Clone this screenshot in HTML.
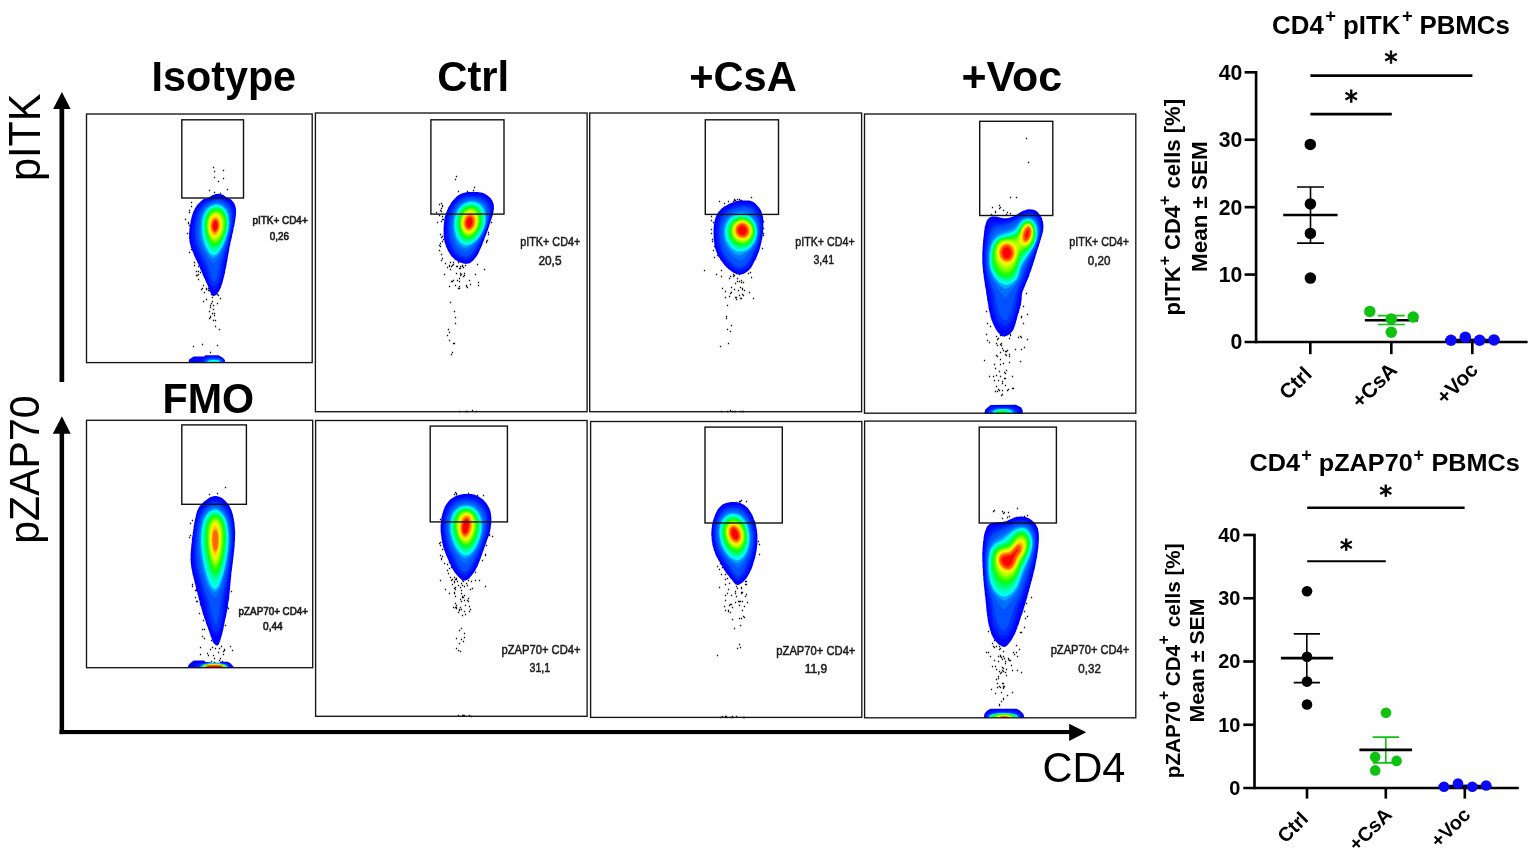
<!DOCTYPE html>
<html lang="en"><head><meta charset="utf-8"><title>Figure</title>
<style>
html,body{margin:0;padding:0;background:#fefefe;}
body{width:1535px;height:854px;overflow:hidden;font-family:"Liberation Sans",sans-serif;}
svg{display:block;}
</style></head><body>
<svg width="1535" height="854" viewBox="0 0 1535 854">
<defs>
<filter id="bl" x="-5%" y="-5%" width="110%" height="110%"><feGaussianBlur stdDeviation="0.45"/></filter>
<clipPath id="cp1"><rect x="86.5" y="114.0" width="225.7" height="248.6"/></clipPath>
<clipPath id="cp2"><rect x="315.4" y="113.0" width="271.7" height="298.7"/></clipPath>
<clipPath id="cp3"><rect x="589.7" y="113.0" width="271.9" height="298.7"/></clipPath>
<clipPath id="cp4"><rect x="864.5" y="114.0" width="271.3" height="299.2"/></clipPath>
<clipPath id="cp5"><rect x="86.5" y="420.3" width="226.2" height="247.4"/></clipPath>
<clipPath id="cp6"><rect x="315.6" y="420.5" width="271.5" height="295.8"/></clipPath>
<clipPath id="cp7"><rect x="590.6" y="421.5" width="271.2" height="295.9"/></clipPath>
<clipPath id="cp8"><rect x="864.6" y="421.1" width="271.2" height="296.7"/></clipPath>
</defs>
<g id="plots">
<g id="dots" fill="#111">
<path d="M219.85 192.85h1.3v1.3h-1.3zM222.85 169.85h1.3v1.3h-1.3zM213.85 191.85h1.3v1.3h-1.3zM208.85 189.85h1.3v1.3h-1.3zM222.85 177.85h1.3v1.3h-1.3zM213.85 170.85h1.3v1.3h-1.3zM213.85 176.85h1.3v1.3h-1.3zM217.85 180.85h1.3v1.3h-1.3zM226.85 188.85h1.3v1.3h-1.3zM219.85 195.85h1.3v1.3h-1.3zM212.85 166.85h1.3v1.3h-1.3zM187.85 222.85h1.3v1.3h-1.3zM184.85 218.85h1.3v1.3h-1.3zM187.85 221.85h1.3v1.3h-1.3zM188.85 209.85h1.3v1.3h-1.3zM188.85 224.85h1.3v1.3h-1.3zM190.85 201.85h1.3v1.3h-1.3zM188.85 211.85h1.3v1.3h-1.3zM186.85 232.85h1.3v1.3h-1.3zM190.85 205.85h1.3v1.3h-1.3zM205.85 287.85h1.3v1.3h-1.3zM190.85 248.85h1.3v1.3h-1.3zM193.85 251.85h1.3v1.3h-1.3zM205.85 288.85h1.3v1.3h-1.3zM196.85 274.85h1.3v1.3h-1.3zM193.85 264.85h1.3v1.3h-1.3zM193.85 245.85h1.3v1.3h-1.3zM199.85 271.85h1.3v1.3h-1.3zM197.85 278.85h1.3v1.3h-1.3zM200.85 288.85h1.3v1.3h-1.3zM195.85 250.85h1.3v1.3h-1.3zM197.85 270.85h1.3v1.3h-1.3zM195.85 274.85h1.3v1.3h-1.3zM197.85 265.85h1.3v1.3h-1.3zM202.85 284.85h1.3v1.3h-1.3zM193.85 261.85h1.3v1.3h-1.3zM195.85 257.85h1.3v1.3h-1.3zM201.85 287.85h1.3v1.3h-1.3zM201.85 267.85h1.3v1.3h-1.3zM197.85 273.85h1.3v1.3h-1.3zM195.85 270.85h1.3v1.3h-1.3zM188.85 251.85h1.3v1.3h-1.3zM208.85 310.85h1.3v1.3h-1.3zM207.85 287.85h1.3v1.3h-1.3zM213.85 312.85h1.3v1.3h-1.3zM209.85 304.85h1.3v1.3h-1.3zM202.85 300.85h1.3v1.3h-1.3zM214.85 289.85h1.3v1.3h-1.3zM217.85 294.85h1.3v1.3h-1.3zM216.85 293.85h1.3v1.3h-1.3zM216.85 302.85h1.3v1.3h-1.3zM203.85 291.85h1.3v1.3h-1.3zM219.85 297.85h1.3v1.3h-1.3zM211.85 300.85h1.3v1.3h-1.3zM209.85 316.85h1.3v1.3h-1.3zM210.85 302.85h1.3v1.3h-1.3zM209.85 315.85h1.3v1.3h-1.3zM208.85 317.85h1.3v1.3h-1.3zM211.85 296.85h1.3v1.3h-1.3zM212.85 319.85h1.3v1.3h-1.3zM211.85 312.85h1.3v1.3h-1.3zM212.85 308.85h1.3v1.3h-1.3zM210.85 293.85h1.3v1.3h-1.3zM207.85 289.85h1.3v1.3h-1.3zM208.85 289.85h1.3v1.3h-1.3zM213.85 314.85h1.3v1.3h-1.3zM205.85 298.85h1.3v1.3h-1.3zM209.85 306.85h1.3v1.3h-1.3zM214.85 319.85h1.3v1.3h-1.3zM212.85 304.85h1.3v1.3h-1.3zM215.85 288.85h1.3v1.3h-1.3zM192.85 345.85h1.3v1.3h-1.3zM201.85 343.85h1.3v1.3h-1.3zM216.85 344.85h1.3v1.3h-1.3zM209.85 351.85h1.3v1.3h-1.3zM214.85 325.85h1.3v1.3h-1.3zM218.85 328.85h1.3v1.3h-1.3zM473.85 186.85h1.3v1.3h-1.3zM457.85 190.85h1.3v1.3h-1.3zM472.85 189.85h1.3v1.3h-1.3zM466.85 190.85h1.3v1.3h-1.3zM455.85 175.85h1.3v1.3h-1.3zM454.85 178.85h1.3v1.3h-1.3zM441.85 215.85h1.3v1.3h-1.3zM438.85 203.85h1.3v1.3h-1.3zM439.85 242.85h1.3v1.3h-1.3zM440.85 259.85h1.3v1.3h-1.3zM442.85 238.85h1.3v1.3h-1.3zM440.85 236.85h1.3v1.3h-1.3zM441.85 257.85h1.3v1.3h-1.3zM441.85 218.85h1.3v1.3h-1.3zM441.85 235.85h1.3v1.3h-1.3zM440.85 253.85h1.3v1.3h-1.3zM439.85 245.85h1.3v1.3h-1.3zM439.85 233.85h1.3v1.3h-1.3zM441.85 205.85h1.3v1.3h-1.3zM438.85 249.85h1.3v1.3h-1.3zM438.85 244.85h1.3v1.3h-1.3zM440.85 210.85h1.3v1.3h-1.3zM438.85 214.85h1.3v1.3h-1.3zM440.85 220.85h1.3v1.3h-1.3zM441.85 240.85h1.3v1.3h-1.3zM439.85 209.85h1.3v1.3h-1.3zM436.85 221.85h1.3v1.3h-1.3zM435.85 211.85h1.3v1.3h-1.3zM440.85 202.85h1.3v1.3h-1.3zM442.85 218.85h1.3v1.3h-1.3zM440.85 207.85h1.3v1.3h-1.3zM441.85 204.85h1.3v1.3h-1.3zM449.85 261.85h1.3v1.3h-1.3zM444.85 262.85h1.3v1.3h-1.3zM448.85 265.85h1.3v1.3h-1.3zM455.85 265.85h1.3v1.3h-1.3zM451.85 264.85h1.3v1.3h-1.3zM452.85 261.85h1.3v1.3h-1.3zM448.85 264.85h1.3v1.3h-1.3zM459.85 267.85h1.3v1.3h-1.3zM457.85 261.85h1.3v1.3h-1.3zM462.85 266.85h1.3v1.3h-1.3zM485.85 241.85h1.3v1.3h-1.3zM490.85 221.85h1.3v1.3h-1.3zM486.85 239.85h1.3v1.3h-1.3zM487.85 231.85h1.3v1.3h-1.3zM487.85 233.85h1.3v1.3h-1.3zM485.85 240.85h1.3v1.3h-1.3zM458.85 285.85h1.3v1.3h-1.3zM461.85 264.85h1.3v1.3h-1.3zM458.85 287.85h1.3v1.3h-1.3zM468.85 279.85h1.3v1.3h-1.3zM465.85 285.85h1.3v1.3h-1.3zM457.85 287.85h1.3v1.3h-1.3zM462.85 275.85h1.3v1.3h-1.3zM451.85 280.85h1.3v1.3h-1.3zM477.85 284.85h1.3v1.3h-1.3zM458.85 280.85h1.3v1.3h-1.3zM463.85 272.85h1.3v1.3h-1.3zM449.85 268.85h1.3v1.3h-1.3zM452.85 279.85h1.3v1.3h-1.3zM476.85 263.85h1.3v1.3h-1.3zM465.85 284.85h1.3v1.3h-1.3zM458.85 267.85h1.3v1.3h-1.3zM446.85 266.85h1.3v1.3h-1.3zM474.85 273.85h1.3v1.3h-1.3zM450.85 265.85h1.3v1.3h-1.3zM455.85 272.85h1.3v1.3h-1.3zM458.85 277.85h1.3v1.3h-1.3zM463.85 274.85h1.3v1.3h-1.3zM460.85 273.85h1.3v1.3h-1.3zM459.85 274.85h1.3v1.3h-1.3zM477.85 281.85h1.3v1.3h-1.3zM461.85 265.85h1.3v1.3h-1.3zM464.85 264.85h1.3v1.3h-1.3zM448.85 285.85h1.3v1.3h-1.3zM466.85 286.85h1.3v1.3h-1.3zM443.85 273.85h1.3v1.3h-1.3zM454.85 284.85h1.3v1.3h-1.3zM483.85 268.85h1.3v1.3h-1.3zM452.85 263.85h1.3v1.3h-1.3zM459.85 272.85h1.3v1.3h-1.3zM450.85 280.85h1.3v1.3h-1.3zM469.85 283.85h1.3v1.3h-1.3zM456.85 279.85h1.3v1.3h-1.3zM459.85 265.85h1.3v1.3h-1.3zM456.85 265.85h1.3v1.3h-1.3zM447.85 328.85h1.3v1.3h-1.3zM451.85 351.85h1.3v1.3h-1.3zM454.85 322.85h1.3v1.3h-1.3zM450.85 353.85h1.3v1.3h-1.3zM452.85 342.85h1.3v1.3h-1.3zM453.85 342.85h1.3v1.3h-1.3zM448.85 331.85h1.3v1.3h-1.3zM454.85 316.85h1.3v1.3h-1.3zM446.85 334.85h1.3v1.3h-1.3zM453.85 310.85h1.3v1.3h-1.3zM449.85 301.85h1.3v1.3h-1.3zM448.85 339.85h1.3v1.3h-1.3zM471.85 409.85h1.3v1.3h-1.3zM475.85 410.85h1.3v1.3h-1.3zM464.85 410.85h1.3v1.3h-1.3zM466.85 410.85h1.3v1.3h-1.3zM458.85 410.85h1.3v1.3h-1.3zM736.85 198.85h1.3v1.3h-1.3zM733.85 199.85h1.3v1.3h-1.3zM718.85 200.85h1.3v1.3h-1.3zM723.85 202.85h1.3v1.3h-1.3zM733.85 198.85h1.3v1.3h-1.3zM738.85 198.85h1.3v1.3h-1.3zM739.85 199.85h1.3v1.3h-1.3zM740.85 199.85h1.3v1.3h-1.3zM732.85 200.85h1.3v1.3h-1.3zM734.85 199.85h1.3v1.3h-1.3zM727.85 200.85h1.3v1.3h-1.3zM750.85 196.85h1.3v1.3h-1.3zM712.85 249.85h1.3v1.3h-1.3zM711.85 240.85h1.3v1.3h-1.3zM713.85 245.85h1.3v1.3h-1.3zM712.85 221.85h1.3v1.3h-1.3zM710.85 232.85h1.3v1.3h-1.3zM715.85 231.85h1.3v1.3h-1.3zM713.85 256.85h1.3v1.3h-1.3zM716.85 254.85h1.3v1.3h-1.3zM710.85 215.85h1.3v1.3h-1.3zM713.85 232.85h1.3v1.3h-1.3zM711.85 238.85h1.3v1.3h-1.3zM713.85 230.85h1.3v1.3h-1.3zM710.85 228.85h1.3v1.3h-1.3zM710.85 219.85h1.3v1.3h-1.3zM762.85 227.85h1.3v1.3h-1.3zM762.85 220.85h1.3v1.3h-1.3zM762.85 234.85h1.3v1.3h-1.3zM762.85 232.85h1.3v1.3h-1.3zM761.85 247.85h1.3v1.3h-1.3zM729.85 275.85h1.3v1.3h-1.3zM736.85 280.85h1.3v1.3h-1.3zM743.85 289.85h1.3v1.3h-1.3zM740.85 272.85h1.3v1.3h-1.3zM730.85 291.85h1.3v1.3h-1.3zM735.85 296.85h1.3v1.3h-1.3zM739.85 286.85h1.3v1.3h-1.3zM724.85 290.85h1.3v1.3h-1.3zM720.85 275.85h1.3v1.3h-1.3zM734.85 282.85h1.3v1.3h-1.3zM738.85 280.85h1.3v1.3h-1.3zM735.85 272.85h1.3v1.3h-1.3zM732.85 273.85h1.3v1.3h-1.3zM735.85 298.85h1.3v1.3h-1.3zM738.85 273.85h1.3v1.3h-1.3zM740.85 281.85h1.3v1.3h-1.3zM742.85 281.85h1.3v1.3h-1.3zM732.85 275.85h1.3v1.3h-1.3zM715.85 273.85h1.3v1.3h-1.3zM740.85 279.85h1.3v1.3h-1.3zM741.85 293.85h1.3v1.3h-1.3zM741.85 287.85h1.3v1.3h-1.3zM721.85 287.85h1.3v1.3h-1.3zM748.85 291.85h1.3v1.3h-1.3zM739.85 297.85h1.3v1.3h-1.3zM749.85 271.85h1.3v1.3h-1.3zM703.85 269.85h1.3v1.3h-1.3zM724.85 296.85h1.3v1.3h-1.3zM730.85 286.85h1.3v1.3h-1.3zM733.85 288.85h1.3v1.3h-1.3zM752.85 297.85h1.3v1.3h-1.3zM736.85 277.85h1.3v1.3h-1.3zM720.85 269.85h1.3v1.3h-1.3zM741.85 288.85h1.3v1.3h-1.3zM738.85 294.85h1.3v1.3h-1.3zM728.85 277.85h1.3v1.3h-1.3zM747.85 272.85h1.3v1.3h-1.3zM750.85 276.85h1.3v1.3h-1.3zM734.85 296.85h1.3v1.3h-1.3zM728.85 295.85h1.3v1.3h-1.3zM742.85 294.85h1.3v1.3h-1.3zM741.85 269.85h1.3v1.3h-1.3zM729.85 292.85h1.3v1.3h-1.3zM733.85 274.85h1.3v1.3h-1.3zM740.85 297.85h1.3v1.3h-1.3zM737.85 289.85h1.3v1.3h-1.3zM719.85 345.85h1.3v1.3h-1.3zM726.85 328.85h1.3v1.3h-1.3zM729.85 330.85h1.3v1.3h-1.3zM726.85 304.85h1.3v1.3h-1.3zM727.85 342.85h1.3v1.3h-1.3zM725.85 317.85h1.3v1.3h-1.3zM730.85 324.85h1.3v1.3h-1.3zM725.85 315.85h1.3v1.3h-1.3zM739.85 410.85h1.3v1.3h-1.3zM731.85 410.85h1.3v1.3h-1.3zM741.85 410.85h1.3v1.3h-1.3zM720.85 410.85h1.3v1.3h-1.3zM742.85 410.85h1.3v1.3h-1.3zM734.85 410.85h1.3v1.3h-1.3zM733.85 410.85h1.3v1.3h-1.3zM729.85 409.85h1.3v1.3h-1.3zM726.85 410.85h1.3v1.3h-1.3zM1025.85 137.85h1.3v1.3h-1.3zM1027.85 161.85h1.3v1.3h-1.3zM1009.85 196.85h1.3v1.3h-1.3zM1015.85 196.85h1.3v1.3h-1.3zM998.85 204.85h1.3v1.3h-1.3zM1002.85 209.85h1.3v1.3h-1.3zM1006.85 211.85h1.3v1.3h-1.3zM994.85 211.85h1.3v1.3h-1.3zM990.85 213.85h1.3v1.3h-1.3zM1009.85 212.85h1.3v1.3h-1.3zM991.85 206.85h1.3v1.3h-1.3zM998.85 207.85h1.3v1.3h-1.3zM1005.85 213.85h1.3v1.3h-1.3zM994.85 210.85h1.3v1.3h-1.3zM999.85 206.85h1.3v1.3h-1.3zM1022.85 305.85h1.3v1.3h-1.3zM1026.85 313.85h1.3v1.3h-1.3zM1025.85 292.85h1.3v1.3h-1.3zM1020.85 316.85h1.3v1.3h-1.3zM1020.85 315.85h1.3v1.3h-1.3zM1022.85 322.85h1.3v1.3h-1.3zM1004.85 350.85h1.3v1.3h-1.3zM999.85 334.85h1.3v1.3h-1.3zM996.85 390.85h1.3v1.3h-1.3zM994.85 367.85h1.3v1.3h-1.3zM1002.85 362.85h1.3v1.3h-1.3zM999.85 363.85h1.3v1.3h-1.3zM1008.85 361.85h1.3v1.3h-1.3zM993.85 363.85h1.3v1.3h-1.3zM1026.85 338.85h1.3v1.3h-1.3zM1001.85 380.85h1.3v1.3h-1.3zM1019.85 360.85h1.3v1.3h-1.3zM999.85 351.85h1.3v1.3h-1.3zM1006.85 349.85h1.3v1.3h-1.3zM998.85 370.85h1.3v1.3h-1.3zM1019.85 335.85h1.3v1.3h-1.3zM1007.85 388.85h1.3v1.3h-1.3zM995.85 342.85h1.3v1.3h-1.3zM1001.85 382.85h1.3v1.3h-1.3zM1009.85 333.85h1.3v1.3h-1.3zM986.85 339.85h1.3v1.3h-1.3zM997.85 388.85h1.3v1.3h-1.3zM996.85 338.85h1.3v1.3h-1.3zM983.85 359.85h1.3v1.3h-1.3zM1004.85 353.85h1.3v1.3h-1.3zM1020.85 348.85h1.3v1.3h-1.3zM988.85 375.85h1.3v1.3h-1.3zM993.85 379.85h1.3v1.3h-1.3zM1003.85 377.85h1.3v1.3h-1.3zM1004.85 384.85h1.3v1.3h-1.3zM1005.85 354.85h1.3v1.3h-1.3zM999.85 358.85h1.3v1.3h-1.3zM997.85 337.85h1.3v1.3h-1.3zM985.85 333.85h1.3v1.3h-1.3zM1020.85 336.85h1.3v1.3h-1.3zM1014.85 348.85h1.3v1.3h-1.3zM996.85 344.85h1.3v1.3h-1.3zM1001.85 347.85h1.3v1.3h-1.3zM999.85 343.85h1.3v1.3h-1.3zM999.85 375.85h1.3v1.3h-1.3zM995.85 385.85h1.3v1.3h-1.3zM1023.85 346.85h1.3v1.3h-1.3zM1000.85 342.85h1.3v1.3h-1.3zM1008.85 353.85h1.3v1.3h-1.3zM1001.85 389.85h1.3v1.3h-1.3zM1004.85 372.85h1.3v1.3h-1.3zM1017.85 336.85h1.3v1.3h-1.3zM1003.85 371.85h1.3v1.3h-1.3zM1012.85 387.85h1.3v1.3h-1.3zM995.85 335.85h1.3v1.3h-1.3zM1006.85 389.85h1.3v1.3h-1.3zM1011.85 387.85h1.3v1.3h-1.3zM1009.85 334.85h1.3v1.3h-1.3zM996.85 355.85h1.3v1.3h-1.3zM995.85 374.85h1.3v1.3h-1.3zM1000.85 394.85h1.3v1.3h-1.3zM997.85 379.85h1.3v1.3h-1.3zM1004.85 377.85h1.3v1.3h-1.3zM1001.85 393.85h1.3v1.3h-1.3zM995.85 354.85h1.3v1.3h-1.3zM994.85 390.85h1.3v1.3h-1.3zM998.85 389.85h1.3v1.3h-1.3zM1002.85 349.85h1.3v1.3h-1.3zM1008.85 355.85h1.3v1.3h-1.3zM1005.85 350.85h1.3v1.3h-1.3zM1008.85 337.85h1.3v1.3h-1.3zM1011.85 375.85h1.3v1.3h-1.3zM1005.85 369.85h1.3v1.3h-1.3zM988.85 341.85h1.3v1.3h-1.3zM1000.85 344.85h1.3v1.3h-1.3zM992.85 375.85h1.3v1.3h-1.3zM986.85 322.85h1.3v1.3h-1.3zM985.85 310.85h1.3v1.3h-1.3zM989.85 325.85h1.3v1.3h-1.3zM208.85 493.85h1.3v1.3h-1.3zM216.85 492.85h1.3v1.3h-1.3zM224.85 486.85h1.3v1.3h-1.3zM191.85 519.85h1.3v1.3h-1.3zM191.85 538.85h1.3v1.3h-1.3zM190.85 558.85h1.3v1.3h-1.3zM189.85 522.85h1.3v1.3h-1.3zM189.85 534.85h1.3v1.3h-1.3zM188.85 536.85h1.3v1.3h-1.3zM191.85 585.85h1.3v1.3h-1.3zM190.85 561.85h1.3v1.3h-1.3zM195.85 600.85h1.3v1.3h-1.3zM198.85 612.85h1.3v1.3h-1.3zM199.85 603.85h1.3v1.3h-1.3zM203.85 637.85h1.3v1.3h-1.3zM201.85 628.85h1.3v1.3h-1.3zM195.85 588.85h1.3v1.3h-1.3zM194.85 596.85h1.3v1.3h-1.3zM202.85 619.85h1.3v1.3h-1.3zM201.85 635.85h1.3v1.3h-1.3zM194.85 589.85h1.3v1.3h-1.3zM202.85 612.85h1.3v1.3h-1.3zM196.85 600.85h1.3v1.3h-1.3zM203.85 628.85h1.3v1.3h-1.3zM191.85 583.85h1.3v1.3h-1.3zM195.85 589.85h1.3v1.3h-1.3zM224.85 624.85h1.3v1.3h-1.3zM227.85 578.85h1.3v1.3h-1.3zM230.85 590.85h1.3v1.3h-1.3zM227.85 594.85h1.3v1.3h-1.3zM223.85 604.85h1.3v1.3h-1.3zM227.85 607.85h1.3v1.3h-1.3zM227.85 596.85h1.3v1.3h-1.3zM226.85 606.85h1.3v1.3h-1.3zM219.85 661.85h1.3v1.3h-1.3zM215.85 640.85h1.3v1.3h-1.3zM222.85 650.85h1.3v1.3h-1.3zM210.85 660.85h1.3v1.3h-1.3zM217.85 642.85h1.3v1.3h-1.3zM223.85 648.85h1.3v1.3h-1.3zM222.85 653.85h1.3v1.3h-1.3zM206.85 652.85h1.3v1.3h-1.3zM213.85 657.85h1.3v1.3h-1.3zM212.85 654.85h1.3v1.3h-1.3zM223.85 649.85h1.3v1.3h-1.3zM217.85 651.85h1.3v1.3h-1.3zM209.85 648.85h1.3v1.3h-1.3zM214.85 640.85h1.3v1.3h-1.3zM210.85 639.85h1.3v1.3h-1.3zM214.85 647.85h1.3v1.3h-1.3zM211.85 646.85h1.3v1.3h-1.3zM216.85 643.85h1.3v1.3h-1.3zM221.85 660.85h1.3v1.3h-1.3zM231.85 649.85h1.3v1.3h-1.3zM220.85 645.85h1.3v1.3h-1.3zM229.85 645.85h1.3v1.3h-1.3zM199.85 646.85h1.3v1.3h-1.3zM218.85 659.85h1.3v1.3h-1.3zM219.85 657.85h1.3v1.3h-1.3zM218.85 647.85h1.3v1.3h-1.3zM213.85 641.85h1.3v1.3h-1.3zM199.85 653.85h1.3v1.3h-1.3zM207.85 654.85h1.3v1.3h-1.3zM213.85 661.85h1.3v1.3h-1.3zM482.85 494.85h1.3v1.3h-1.3zM455.85 492.85h1.3v1.3h-1.3zM474.85 496.85h1.3v1.3h-1.3zM471.85 494.85h1.3v1.3h-1.3zM455.85 493.85h1.3v1.3h-1.3zM454.85 491.85h1.3v1.3h-1.3zM453.85 493.85h1.3v1.3h-1.3zM467.85 492.85h1.3v1.3h-1.3zM476.85 494.85h1.3v1.3h-1.3zM468.85 496.85h1.3v1.3h-1.3zM439.85 544.85h1.3v1.3h-1.3zM441.85 529.85h1.3v1.3h-1.3zM438.85 542.85h1.3v1.3h-1.3zM440.85 558.85h1.3v1.3h-1.3zM440.85 557.85h1.3v1.3h-1.3zM439.85 518.85h1.3v1.3h-1.3zM439.85 541.85h1.3v1.3h-1.3zM441.85 548.85h1.3v1.3h-1.3zM441.85 555.85h1.3v1.3h-1.3zM450.85 566.85h1.3v1.3h-1.3zM446.85 569.85h1.3v1.3h-1.3zM453.85 576.85h1.3v1.3h-1.3zM451.85 583.85h1.3v1.3h-1.3zM446.85 563.85h1.3v1.3h-1.3zM447.85 572.85h1.3v1.3h-1.3zM455.85 578.85h1.3v1.3h-1.3zM443.85 562.85h1.3v1.3h-1.3zM449.85 576.85h1.3v1.3h-1.3zM453.85 580.85h1.3v1.3h-1.3zM448.85 567.85h1.3v1.3h-1.3zM439.85 554.85h1.3v1.3h-1.3zM448.85 561.85h1.3v1.3h-1.3zM455.85 577.85h1.3v1.3h-1.3zM474.85 571.85h1.3v1.3h-1.3zM481.85 559.85h1.3v1.3h-1.3zM485.85 544.85h1.3v1.3h-1.3zM488.85 533.85h1.3v1.3h-1.3zM488.85 534.85h1.3v1.3h-1.3zM484.85 554.85h1.3v1.3h-1.3zM491.85 535.85h1.3v1.3h-1.3zM484.85 553.85h1.3v1.3h-1.3zM452.85 606.85h1.3v1.3h-1.3zM459.85 606.85h1.3v1.3h-1.3zM467.85 600.85h1.3v1.3h-1.3zM457.85 584.85h1.3v1.3h-1.3zM461.85 595.85h1.3v1.3h-1.3zM460.85 608.85h1.3v1.3h-1.3zM465.85 582.85h1.3v1.3h-1.3zM464.85 604.85h1.3v1.3h-1.3zM460.85 592.85h1.3v1.3h-1.3zM467.85 597.85h1.3v1.3h-1.3zM474.85 579.85h1.3v1.3h-1.3zM455.85 606.85h1.3v1.3h-1.3zM454.85 578.85h1.3v1.3h-1.3zM454.85 588.85h1.3v1.3h-1.3zM454.85 595.85h1.3v1.3h-1.3zM454.85 586.85h1.3v1.3h-1.3zM461.85 596.85h1.3v1.3h-1.3zM466.85 599.85h1.3v1.3h-1.3zM455.85 604.85h1.3v1.3h-1.3zM463.85 610.85h1.3v1.3h-1.3zM456.85 580.85h1.3v1.3h-1.3zM484.85 585.85h1.3v1.3h-1.3zM462.85 596.85h1.3v1.3h-1.3zM467.85 579.85h1.3v1.3h-1.3zM451.85 578.85h1.3v1.3h-1.3zM454.85 606.85h1.3v1.3h-1.3zM462.85 580.85h1.3v1.3h-1.3zM453.85 591.85h1.3v1.3h-1.3zM460.85 589.85h1.3v1.3h-1.3zM469.85 608.85h1.3v1.3h-1.3zM453.85 581.85h1.3v1.3h-1.3zM453.85 592.85h1.3v1.3h-1.3zM461.85 579.85h1.3v1.3h-1.3zM458.85 608.85h1.3v1.3h-1.3zM466.85 584.85h1.3v1.3h-1.3zM459.85 586.85h1.3v1.3h-1.3zM450.85 579.85h1.3v1.3h-1.3zM439.85 579.85h1.3v1.3h-1.3zM463.85 585.85h1.3v1.3h-1.3zM455.85 607.85h1.3v1.3h-1.3zM461.85 584.85h1.3v1.3h-1.3zM444.85 588.85h1.3v1.3h-1.3zM454.85 602.85h1.3v1.3h-1.3zM463.85 599.85h1.3v1.3h-1.3zM468.85 610.85h1.3v1.3h-1.3zM468.85 605.85h1.3v1.3h-1.3zM471.85 587.85h1.3v1.3h-1.3zM460.85 600.85h1.3v1.3h-1.3zM469.85 588.85h1.3v1.3h-1.3zM463.85 594.85h1.3v1.3h-1.3zM458.85 609.85h1.3v1.3h-1.3zM457.85 611.85h1.3v1.3h-1.3zM453.85 587.85h1.3v1.3h-1.3zM470.85 580.85h1.3v1.3h-1.3zM460.85 582.85h1.3v1.3h-1.3zM459.85 598.85h1.3v1.3h-1.3zM478.85 579.85h1.3v1.3h-1.3zM448.85 592.85h1.3v1.3h-1.3zM455.85 637.85h1.3v1.3h-1.3zM464.85 613.85h1.3v1.3h-1.3zM455.85 647.85h1.3v1.3h-1.3zM463.85 632.85h1.3v1.3h-1.3zM457.85 649.85h1.3v1.3h-1.3zM460.85 627.85h1.3v1.3h-1.3zM462.85 640.85h1.3v1.3h-1.3zM461.85 614.85h1.3v1.3h-1.3zM459.85 650.85h1.3v1.3h-1.3zM458.85 642.85h1.3v1.3h-1.3zM458.85 629.85h1.3v1.3h-1.3zM463.85 636.85h1.3v1.3h-1.3zM460.85 638.85h1.3v1.3h-1.3zM468.85 714.85h1.3v1.3h-1.3zM461.85 714.85h1.3v1.3h-1.3zM463.85 714.85h1.3v1.3h-1.3zM457.85 714.85h1.3v1.3h-1.3zM462.85 714.85h1.3v1.3h-1.3zM470.85 715.85h1.3v1.3h-1.3zM725.85 503.85h1.3v1.3h-1.3zM726.85 503.85h1.3v1.3h-1.3zM735.85 501.85h1.3v1.3h-1.3zM745.85 500.85h1.3v1.3h-1.3zM739.85 500.85h1.3v1.3h-1.3zM738.85 500.85h1.3v1.3h-1.3zM738.85 502.85h1.3v1.3h-1.3zM740.85 499.85h1.3v1.3h-1.3zM757.85 540.85h1.3v1.3h-1.3zM758.85 553.85h1.3v1.3h-1.3zM755.85 542.85h1.3v1.3h-1.3zM758.85 543.85h1.3v1.3h-1.3zM716.85 565.85h1.3v1.3h-1.3zM728.85 582.85h1.3v1.3h-1.3zM726.85 577.85h1.3v1.3h-1.3zM723.85 565.85h1.3v1.3h-1.3zM720.85 573.85h1.3v1.3h-1.3zM724.85 578.85h1.3v1.3h-1.3zM721.85 566.85h1.3v1.3h-1.3zM723.85 568.85h1.3v1.3h-1.3zM718.85 568.85h1.3v1.3h-1.3zM724.85 573.85h1.3v1.3h-1.3zM719.85 562.85h1.3v1.3h-1.3zM724.85 583.85h1.3v1.3h-1.3zM745.85 583.85h1.3v1.3h-1.3zM744.85 580.85h1.3v1.3h-1.3zM745.85 580.85h1.3v1.3h-1.3zM744.85 583.85h1.3v1.3h-1.3zM740.85 586.85h1.3v1.3h-1.3zM743.85 576.85h1.3v1.3h-1.3zM724.85 599.85h1.3v1.3h-1.3zM727.85 610.85h1.3v1.3h-1.3zM739.85 600.85h1.3v1.3h-1.3zM726.85 592.85h1.3v1.3h-1.3zM741.85 609.85h1.3v1.3h-1.3zM734.85 592.85h1.3v1.3h-1.3zM734.85 601.85h1.3v1.3h-1.3zM728.85 604.85h1.3v1.3h-1.3zM738.85 600.85h1.3v1.3h-1.3zM730.85 594.85h1.3v1.3h-1.3zM740.85 592.85h1.3v1.3h-1.3zM740.85 587.85h1.3v1.3h-1.3zM724.85 594.85h1.3v1.3h-1.3zM738.85 604.85h1.3v1.3h-1.3zM724.85 609.85h1.3v1.3h-1.3zM741.85 600.85h1.3v1.3h-1.3zM723.85 605.85h1.3v1.3h-1.3zM729.85 603.85h1.3v1.3h-1.3zM743.85 605.85h1.3v1.3h-1.3zM737.85 600.85h1.3v1.3h-1.3zM740.85 591.85h1.3v1.3h-1.3zM718.85 586.85h1.3v1.3h-1.3zM741.85 591.85h1.3v1.3h-1.3zM731.85 606.85h1.3v1.3h-1.3zM746.85 601.85h1.3v1.3h-1.3zM736.85 587.85h1.3v1.3h-1.3zM735.85 585.85h1.3v1.3h-1.3zM727.85 609.85h1.3v1.3h-1.3zM730.85 603.85h1.3v1.3h-1.3zM735.85 595.85h1.3v1.3h-1.3zM745.85 593.85h1.3v1.3h-1.3zM744.85 595.85h1.3v1.3h-1.3zM734.85 590.85h1.3v1.3h-1.3zM729.85 611.85h1.3v1.3h-1.3zM727.85 588.85h1.3v1.3h-1.3zM743.85 616.85h1.3v1.3h-1.3zM738.85 643.85h1.3v1.3h-1.3zM733.85 627.85h1.3v1.3h-1.3zM742.85 615.85h1.3v1.3h-1.3zM739.85 624.85h1.3v1.3h-1.3zM739.85 646.85h1.3v1.3h-1.3zM740.85 617.85h1.3v1.3h-1.3zM738.85 617.85h1.3v1.3h-1.3zM736.85 647.85h1.3v1.3h-1.3zM731.85 618.85h1.3v1.3h-1.3zM716.85 654.85h1.3v1.3h-1.3zM735.85 715.85h1.3v1.3h-1.3zM719.85 716.85h1.3v1.3h-1.3zM725.85 716.85h1.3v1.3h-1.3zM731.85 715.85h1.3v1.3h-1.3zM730.85 716.85h1.3v1.3h-1.3zM743.85 716.85h1.3v1.3h-1.3zM721.85 715.85h1.3v1.3h-1.3zM725.85 715.85h1.3v1.3h-1.3zM724.85 715.85h1.3v1.3h-1.3zM742.85 716.85h1.3v1.3h-1.3zM1023.85 515.85h1.3v1.3h-1.3zM1002.85 512.85h1.3v1.3h-1.3zM1007.85 511.85h1.3v1.3h-1.3zM1006.85 516.85h1.3v1.3h-1.3zM992.85 510.85h1.3v1.3h-1.3zM1008.85 515.85h1.3v1.3h-1.3zM1015.85 516.85h1.3v1.3h-1.3zM993.85 509.85h1.3v1.3h-1.3zM1001.85 510.85h1.3v1.3h-1.3zM1019.85 519.85h1.3v1.3h-1.3zM1016.85 507.85h1.3v1.3h-1.3zM1001.85 517.85h1.3v1.3h-1.3zM1026.85 514.85h1.3v1.3h-1.3zM1003.85 511.85h1.3v1.3h-1.3zM1023.85 626.85h1.3v1.3h-1.3zM1025.85 602.85h1.3v1.3h-1.3zM1019.85 631.85h1.3v1.3h-1.3zM1020.85 631.85h1.3v1.3h-1.3zM1023.85 610.85h1.3v1.3h-1.3zM1024.85 617.85h1.3v1.3h-1.3zM1026.85 615.85h1.3v1.3h-1.3zM1030.85 596.85h1.3v1.3h-1.3zM992.85 634.85h1.3v1.3h-1.3zM993.85 634.85h1.3v1.3h-1.3zM987.85 630.85h1.3v1.3h-1.3zM993.85 639.85h1.3v1.3h-1.3zM991.85 642.85h1.3v1.3h-1.3zM997.85 642.85h1.3v1.3h-1.3zM1005.85 674.85h1.3v1.3h-1.3zM991.85 665.85h1.3v1.3h-1.3zM1020.85 671.85h1.3v1.3h-1.3zM1009.85 659.85h1.3v1.3h-1.3zM1001.85 658.85h1.3v1.3h-1.3zM993.85 659.85h1.3v1.3h-1.3zM1011.85 669.85h1.3v1.3h-1.3zM999.85 647.85h1.3v1.3h-1.3zM999.85 655.85h1.3v1.3h-1.3zM997.85 677.85h1.3v1.3h-1.3zM995.85 678.85h1.3v1.3h-1.3zM1001.85 666.85h1.3v1.3h-1.3zM1002.85 655.85h1.3v1.3h-1.3zM999.85 672.85h1.3v1.3h-1.3zM993.85 646.85h1.3v1.3h-1.3zM1013.85 653.85h1.3v1.3h-1.3zM1015.85 644.85h1.3v1.3h-1.3zM997.85 675.85h1.3v1.3h-1.3zM1010.85 664.85h1.3v1.3h-1.3zM1002.85 650.85h1.3v1.3h-1.3zM1001.85 669.85h1.3v1.3h-1.3zM1018.85 648.85h1.3v1.3h-1.3zM1016.85 655.85h1.3v1.3h-1.3zM998.85 645.85h1.3v1.3h-1.3zM1007.85 657.85h1.3v1.3h-1.3zM997.85 655.85h1.3v1.3h-1.3zM989.85 655.85h1.3v1.3h-1.3zM1008.85 659.85h1.3v1.3h-1.3zM1004.85 671.85h1.3v1.3h-1.3zM1007.85 658.85h1.3v1.3h-1.3zM1016.85 669.85h1.3v1.3h-1.3zM1000.85 671.85h1.3v1.3h-1.3zM1005.85 668.85h1.3v1.3h-1.3zM1002.85 667.85h1.3v1.3h-1.3zM987.85 651.85h1.3v1.3h-1.3zM1000.85 656.85h1.3v1.3h-1.3zM1002.85 670.85h1.3v1.3h-1.3zM994.85 665.85h1.3v1.3h-1.3zM992.85 645.85h1.3v1.3h-1.3zM1012.85 651.85h1.3v1.3h-1.3zM998.85 648.85h1.3v1.3h-1.3zM999.85 654.85h1.3v1.3h-1.3zM1004.85 660.85h1.3v1.3h-1.3zM985.85 651.85h1.3v1.3h-1.3zM995.85 668.85h1.3v1.3h-1.3zM995.85 645.85h1.3v1.3h-1.3zM1004.85 662.85h1.3v1.3h-1.3zM1003.85 657.85h1.3v1.3h-1.3zM997.85 660.85h1.3v1.3h-1.3zM1015.85 651.85h1.3v1.3h-1.3zM998.85 670.85h1.3v1.3h-1.3zM996.85 682.85h1.3v1.3h-1.3zM1002.85 686.85h1.3v1.3h-1.3zM998.85 704.85h1.3v1.3h-1.3zM1006.85 694.85h1.3v1.3h-1.3zM1002.85 682.85h1.3v1.3h-1.3zM998.85 703.85h1.3v1.3h-1.3zM1011.85 691.85h1.3v1.3h-1.3zM998.85 685.85h1.3v1.3h-1.3zM1000.85 700.85h1.3v1.3h-1.3zM1002.85 697.85h1.3v1.3h-1.3zM1002.85 687.85h1.3v1.3h-1.3zM1002.85 698.85h1.3v1.3h-1.3zM994.85 692.85h1.3v1.3h-1.3zM1001.85 682.85h1.3v1.3h-1.3zM990.85 688.85h1.3v1.3h-1.3zM999.85 686.85h1.3v1.3h-1.3zM1000.85 691.85h1.3v1.3h-1.3zM1003.85 685.85h1.3v1.3h-1.3zM996.85 686.85h1.3v1.3h-1.3zM1002.85 685.85h1.3v1.3h-1.3z"/>
</g>
<g id="blobs" filter="url(#bl)">
<g id="p1">
<path fill="#0006ff" d="M213.9 296.1L213.1 296.1L212.1 295.4L211.1 294.1L210.4 292.6L210.3 292.1L209.9 291.4L209.6 289.9L208.6 288.1L208.3 286.9L207.4 285.1L207.1 283.9L206.1 282.4L206.1 281.9L205.1 280.1L205.1 279.6L203.9 277.4L203.8 276.9L202.4 273.9L202.1 272.6L201.4 271.4L201.3 270.9L200.4 269.4L199.6 266.9L198.4 264.6L198.3 264.1L197.1 261.9L197.1 261.4L194.1 255.4L194.1 254.9L193.4 253.6L193.1 252.4L191.9 249.9L191.6 248.6L190.9 247.4L190.3 244.6L189.6 242.6L189.3 238.9L189.1 238.6L189.1 231.9L189.3 231.6L189.4 228.9L189.6 228.6L189.6 226.9L190.1 225.6L190.1 223.9L190.6 222.6L190.6 220.9L191.1 219.6L191.1 218.9L191.3 218.6L191.4 217.9L191.6 217.6L191.6 216.9L191.8 216.6L191.9 215.9L192.4 214.4L192.8 213.6L193.4 211.6L194.6 209.4L194.6 208.9L195.4 207.6L196.3 206.6L197.1 205.1L201.1 200.9L202.9 199.6L203.9 199.1L204.6 199.1L204.9 198.8L205.6 198.8L205.9 198.6L206.6 198.6L206.9 198.3L208.1 198.1L210.1 196.8L211.1 195.9L212.9 194.9L215.4 194.3L215.6 194.1L216.4 194.1L216.6 193.9L219.1 193.8L220.4 194.3L222.1 194.6L223.4 195.1L224.9 196.1L225.9 197.1L226.6 197.4L227.1 197.8L231.1 199.6L232.4 200.9L232.4 201.1L234.1 203.1L235.4 206.1L235.7 207.9L235.9 208.1L235.9 209.9L236.1 210.1L236.1 212.6L235.9 212.9L235.9 215.6L235.7 215.9L235.4 219.6L235.0 220.9L234.9 222.6L234.5 223.9L234.4 225.6L233.7 227.6L233.7 228.4L233.5 228.6L233.4 230.4L233.0 231.6L232.9 232.4L232.7 232.6L232.7 233.4L232.5 233.6L232.4 234.4L232.2 234.6L232.2 235.4L232.0 235.6L231.9 237.1L231.5 238.4L231.4 239.1L231.2 239.4L231.2 240.1L231.0 240.4L230.9 241.1L230.7 241.4L230.7 242.1L230.5 242.4L230.4 243.9L230.0 245.1L229.9 245.9L229.7 246.1L229.7 246.9L229.5 247.1L229.4 248.9L229.0 250.1L228.9 251.9L228.5 252.9L228.4 254.6L227.9 255.9L227.9 257.6L227.4 258.9L227.4 260.6L226.9 261.9L226.9 262.6L226.7 262.9L226.6 264.6L226.2 265.9L226.1 267.6L225.4 269.6L225.4 270.4L225.2 270.6L225.1 272.4L224.7 273.6L224.7 274.4L224.4 274.6L224.4 275.4L224.2 275.6L224.2 276.4L223.9 276.6L223.9 277.4L223.7 277.6L223.6 278.4L223.2 279.4L222.4 283.1L221.9 284.6L221.4 285.4L220.9 287.4L219.4 290.6L218.7 291.4L217.4 293.6L216.7 294.4L215.1 295.6L213.9 296.1Z"/>
<path fill="#0016ff" d="M214.9 289.4L213.9 289.5L212.1 288.0L211.1 286.9L209.6 284.4L207.7 279.9L202.6 265.4L197.2 254.1L195.0 248.6L193.9 245.6L193.0 241.9L192.3 237.4L192.1 233.1L192.4 228.1L193.3 221.6L194.1 217.9L195.9 212.6L197.2 209.6L198.9 207.1L201.6 203.7L204.3 201.6L208.9 199.7L213.9 197.2L215.6 196.8L218.1 196.5L220.9 197.0L222.6 197.7L228.7 201.4L230.9 203.4L232.4 205.5L233.5 208.4L234.0 211.4L234.1 214.4L233.5 221.9L232.1 229.7L224.3 262.4L222.6 272.4L221.6 277.4L220.0 282.4L218.6 285.3L216.6 288.1L214.9 289.4Z"/>
<path fill="#0030ff" d="M214.6 286.2L213.6 286.1L212.6 285.6L211.4 284.2L210.7 283.1L209.5 279.9L205.3 265.6L203.5 261.4L199.1 252.7L196.9 247.4L195.5 242.6L194.8 239.1L194.3 234.1L194.4 229.4L195.3 221.6L195.9 218.4L196.6 216.0L197.4 213.6L198.9 210.5L199.8 208.9L201.4 206.7L202.9 204.9L204.4 203.7L207.6 201.8L214.6 198.8L215.9 198.5L218.4 198.5L221.4 199.1L225.2 201.1L228.1 203.3L230.5 205.9L231.7 208.4L232.3 210.1L232.7 213.9L232.6 219.4L232.0 225.1L230.6 232.9L225.7 251.1L222.5 261.9L221.9 264.9L220.9 272.2L219.9 277.5L218.6 281.4L217.8 282.9L216.1 285.2L215.4 285.8L214.6 286.2Z"/>
<path fill="#0051ff" d="M214.4 281.7L213.9 281.8L213.6 281.6L212.6 279.6L209.4 270.7L207.7 265.4L205.4 260.4L201.1 252.3L198.7 246.6L197.4 242.0L196.6 238.4L196.1 233.6L196.1 229.6L196.6 223.9L197.5 218.6L198.6 214.9L199.9 211.9L200.9 209.9L202.4 207.9L204.6 205.4L205.9 204.4L208.6 202.8L211.4 201.4L214.9 200.2L216.1 200.0L218.1 200.0L220.9 200.6L224.5 202.4L227.1 204.5L229.4 207.1L230.8 209.9L231.5 213.6L231.6 220.9L230.6 228.9L229.8 232.9L227.6 240.7L224.6 250.7L220.7 261.4L219.9 264.4L219.2 268.4L217.4 276.1L215.6 280.3L214.4 281.7Z"/>
<path fill="#0070ff" d="M213.9 263.4L213.4 263.3L212.4 262.5L209.6 259.8L207.6 257.4L205.1 253.6L202.6 248.6L201.2 245.1L200.0 240.9L199.4 237.6L198.8 232.1L198.8 226.9L199.5 220.4L200.5 216.1L202.4 211.6L203.9 209.1L205.4 207.4L206.5 206.4L209.6 204.3L212.0 203.1L213.9 202.5L215.6 202.1L217.4 202.0L220.1 202.5L223.4 204.1L226.1 206.4L228.0 208.6L229.0 210.6L230.0 214.6L230.3 219.4L230.3 222.6L229.6 228.4L228.4 234.1L226.6 240.4L224.0 247.9L221.4 253.4L218.6 257.9L214.9 262.5L213.9 263.4Z"/>
<path fill="#00abff" d="M214.1 257.7L212.9 257.7L211.1 256.8L209.9 255.8L208.4 254.1L206.1 250.6L203.6 245.1L202.1 239.9L201.3 236.1L200.8 231.6L200.8 224.9L201.3 220.6L202.3 216.1L204.0 212.1L205.2 210.1L207.6 207.5L210.4 205.6L213.4 204.2L215.4 203.7L217.1 203.7L219.6 204.1L222.6 205.6L224.9 207.5L226.7 209.6L227.7 211.9L228.8 215.6L229.2 219.6L229.3 222.9L228.9 227.9L227.6 234.1L225.8 239.9L223.0 246.9L220.4 251.6L218.0 254.9L216.1 256.5L214.1 257.7Z"/>
<path fill="#00fff8" d="M214.4 254.9L213.1 254.9L211.9 254.5L210.9 253.8L209.4 252.4L207.6 249.6L205.5 245.1L203.6 238.9L203.0 235.9L202.4 231.6L202.2 225.4L202.5 220.9L203.5 216.6L205.0 212.9L206.1 210.9L208.5 208.1L210.9 206.5L213.4 205.3L216.6 204.8L219.1 205.2L221.9 206.5L223.9 208.2L225.8 210.4L227.0 212.9L228.1 216.1L228.8 222.9L228.4 227.4L227.1 233.9L225.2 239.6L222.4 246.1L220.3 249.6L218.4 252.0L216.4 254.0L214.4 254.9Z"/>
<path fill="#00ffd1" d="M214.4 252.9L213.4 252.9L212.4 252.6L210.4 250.9L208.6 248.4L206.5 244.1L204.7 238.6L204.0 235.4L203.4 231.1L203.1 225.6L203.5 221.1L204.3 217.1L205.0 215.1L206.7 211.6L209.1 208.9L211.1 207.4L213.6 206.2L216.4 205.8L218.9 206.2L221.6 207.5L223.9 209.5L225.1 210.9L226.3 213.4L227.5 216.6L228.2 222.9L227.9 227.1L226.6 233.4L225.0 238.4L224.1 240.6L221.4 246.1L219.4 248.9L216.4 251.9L215.4 252.6L214.4 252.9Z"/>
<path fill="#00ffa3" d="M214.4 250.9L213.6 250.9L212.6 250.5L210.6 248.6L208.9 246.2L207.3 243.1L205.7 238.4L204.9 235.4L204.3 231.1L203.9 225.6L204.2 221.4L205.1 217.4L205.8 215.4L207.4 212.2L209.6 209.6L211.4 208.3L213.9 207.2L216.4 206.8L218.6 207.1L221.1 208.2L223.1 209.9L224.4 211.4L225.5 213.4L226.8 216.6L227.5 222.9L227.2 227.1L226.0 232.9L224.7 236.9L223.4 240.1L220.1 246.1L217.4 249.0L215.6 250.3L214.4 250.9Z"/>
<path fill="#00ff69" d="M214.6 248.7L213.9 248.8L213.4 248.6L211.4 247.2L209.6 245.1L208.0 242.1L206.5 238.1L205.7 235.1L205.0 230.9L204.6 225.6L205.0 221.1L205.7 217.6L206.6 215.4L207.9 212.9L209.9 210.5L211.4 209.3L214.1 208.0L216.6 207.7L218.6 208.0L220.9 209.0L223.1 210.9L224.3 212.4L226.0 215.9L226.4 217.4L227.0 222.1L226.9 225.1L226.3 229.1L225.3 233.4L223.7 237.9L222.6 240.1L219.4 245.3L217.1 247.3L214.6 248.7Z"/>
<path fill="#00ff23" d="M215.4 246.2L213.9 246.3L212.4 245.5L210.6 243.9L209.0 241.4L207.5 237.9L206.6 234.9L205.8 229.9L205.5 227.4L205.5 225.4L205.8 221.1L206.6 217.9L207.4 215.6L208.4 213.8L209.6 212.2L211.6 210.4L214.4 209.1L216.6 208.8L218.6 209.2L220.6 210.1L222.6 211.6L223.8 213.1L225.3 216.1L225.7 217.4L226.2 221.1L226.2 224.6L225.7 228.9L224.9 232.1L222.6 238.1L221.1 240.8L218.9 244.0L216.9 245.5L215.4 246.2Z"/>
<path fill="#26ff00" d="M215.4 244.4L214.4 244.4L213.6 244.2L211.9 243.0L210.1 240.9L208.6 237.9L207.6 234.9L206.8 231.1L206.3 227.4L206.3 224.4L206.6 221.1L207.3 218.1L208.3 215.6L209.1 214.3L210.4 212.8L212.1 211.3L214.6 210.2L216.6 209.9L218.6 210.3L220.4 211.1L222.0 212.4L223.1 213.8L224.6 216.5L225.0 217.6L225.5 221.4L225.6 224.4L224.7 229.9L223.7 233.4L222.1 237.2L220.4 240.2L218.4 242.7L216.6 243.9L215.4 244.4Z"/>
<path fill="#70ff00" d="M215.6 242.4L214.9 242.5L214.1 242.4L212.4 241.3L211.1 240.0L209.4 237.1L208.4 234.5L207.6 231.1L207.0 227.1L207.0 224.6L207.3 221.4L208.1 218.4L209.7 215.1L210.9 213.7L212.6 212.3L214.9 211.4L216.6 211.2L218.4 211.6L219.9 212.3L221.4 213.5L222.4 214.9L223.5 216.9L223.9 218.1L224.5 221.6L224.5 224.1L223.8 229.4L222.8 232.9L221.4 236.1L218.9 239.9L217.1 241.6L215.6 242.4Z"/>
<path fill="#b0ff00" d="M215.6 240.2L214.4 240.3L212.9 239.5L211.4 238.0L210.1 236.1L209.2 233.9L208.3 230.6L207.8 227.1L207.8 224.9L208.1 221.9L208.4 220.4L209.1 218.1L210.4 215.9L211.6 214.5L213.1 213.4L214.9 212.8L216.4 212.6L217.9 213.0L219.4 213.8L220.4 214.7L221.5 216.4L222.3 217.9L222.8 219.6L223.2 222.1L223.2 224.1L222.7 228.6L221.4 233.1L219.9 236.1L218.6 237.9L217.4 239.1L215.6 240.2Z"/>
<path fill="#e5ff00" d="M215.6 238.2L214.6 238.3L213.4 237.9L211.9 236.7L210.8 235.4L209.9 233.4L209.1 230.6L208.6 227.4L208.5 225.4L209.0 221.4L209.9 218.6L210.6 217.4L211.6 216.0L213.1 214.8L214.4 214.3L215.9 214.0L217.1 214.3L218.3 214.9L219.2 215.6L220.3 217.1L221.5 220.1L221.9 222.1L222.0 223.9L221.5 228.4L220.3 232.4L218.1 236.3L217.1 237.3L215.6 238.2Z"/>
<path fill="#ffee00" d="M215.1 236.7L214.1 236.7L212.9 236.1L211.9 235.2L211.1 233.9L210.2 231.9L209.7 229.9L209.3 227.4L209.2 225.6L209.6 221.9L210.9 218.5L212.6 216.4L214.1 215.5L215.4 215.3L216.6 215.5L217.6 216.0L219.5 218.1L220.6 220.9L220.9 222.9L221.0 225.1L220.5 228.6L219.3 232.1L217.1 235.6L216.4 236.2L215.1 236.7Z"/>
<path fill="#ffca00" d="M215.1 235.4L214.1 235.4L213.1 235.0L211.6 233.1L210.9 231.5L210.3 229.6L209.8 225.9L210.3 222.1L211.5 219.1L213.1 217.2L214.4 216.6L215.4 216.4L216.4 216.6L217.1 217.0L218.1 217.8L218.9 218.9L219.9 221.4L220.2 223.1L220.3 225.1L219.9 228.4L218.8 231.6L216.9 234.4L216.1 235.0L215.1 235.4Z"/>
<path fill="#ffa200" d="M215.1 234.1L214.4 234.2L213.6 233.9L212.6 232.9L211.9 231.8L210.9 229.1L210.5 225.9L211.0 222.4L212.1 219.9L213.6 218.1L214.4 217.7L215.4 217.5L216.1 217.6L217.1 218.2L218.4 219.6L219.4 222.1L219.7 225.1L219.3 228.4L218.4 230.9L216.6 233.3L215.1 234.1Z"/>
<path fill="#ff7600" d="M215.1 232.9L214.4 232.9L213.6 232.5L212.4 231.0L211.5 228.6L211.2 225.9L211.6 223.1L212.4 220.9L213.9 219.1L214.6 218.7L215.4 218.6L216.1 218.7L216.9 219.1L218.0 220.4L218.8 222.6L219.2 225.1L218.8 227.9L218.1 230.1L216.6 232.1L215.9 232.7L215.1 232.9Z"/>
<path fill="#ff4200" d="M215.4 231.9L214.1 231.7L213.0 230.6L212.2 228.6L211.8 226.1L212.2 223.6L212.9 221.6L214.1 220.1L215.4 219.6L216.5 219.9L217.4 220.9L218.2 222.9L218.5 225.1L218.2 227.9L217.6 229.6L216.6 231.1L215.4 231.9Z"/>
<path fill="#ff0000" d="M215.4 230.7L214.9 230.7L214.4 230.5L213.7 229.6L213.0 227.9L212.8 226.1L213.1 224.1L213.7 222.4L214.6 221.1L215.4 220.8L216.1 221.0L216.8 221.9L217.4 223.6L217.6 225.4L217.4 227.4L216.9 228.9L216.1 230.1L215.4 230.7Z"/>
</g>
<g id="p2">
<path fill="#0006ff" d="M466.6 263.9L463.6 263.6L461.9 262.9L460.4 262.6L458.6 261.9L456.9 260.7L455.6 260.1L454.6 259.4L453.6 258.1L452.4 257.2L450.9 255.4L450.3 254.4L449.6 253.6L449.1 252.4L448.1 251.1L447.4 249.6L447.3 249.1L446.4 247.4L444.6 242.1L444.3 239.9L444.1 239.6L444.1 238.4L443.9 238.1L443.8 235.9L443.6 235.6L443.6 226.1L443.8 225.9L443.9 222.9L444.1 222.6L444.1 220.6L444.3 220.4L444.4 219.1L444.6 218.9L444.6 217.4L446.6 211.4L448.8 206.6L450.1 204.9L450.6 203.6L452.9 200.6L453.8 199.6L453.9 199.4L455.3 198.1L456.6 196.6L456.9 196.6L457.9 195.6L459.9 194.6L460.4 194.1L461.4 193.8L463.1 192.9L464.4 192.8L465.4 192.4L466.9 192.3L467.1 192.1L471.9 192.1L472.1 191.9L473.9 191.8L474.4 192.1L478.4 192.1L478.6 192.3L481.4 192.6L484.4 193.6L487.6 195.4L490.4 197.9L491.9 199.9L493.1 202.4L493.6 203.9L493.7 205.1L493.9 205.4L493.9 209.6L493.7 210.1L493.6 211.6L493.0 213.4L492.7 215.6L489.7 224.1L489.7 224.9L489.5 225.1L487.9 230.1L487.0 231.9L485.9 235.4L485.0 237.1L483.9 240.6L483.0 242.4L482.2 245.1L481.2 246.9L480.9 248.1L479.9 249.6L479.9 250.1L478.9 251.9L478.9 252.4L478.4 253.4L475.7 257.4L475.4 258.1L474.2 259.1L474.2 259.4L472.6 261.1L471.6 261.7L470.9 262.4L468.9 263.4L468.1 263.6L466.9 263.7L466.6 263.9Z"/>
<path fill="#0016ff" d="M465.9 260.9L463.9 260.6L461.4 259.9L459.1 258.8L456.9 257.4L454.4 255.1L453.1 253.7L451.3 250.9L449.9 248.4L448.6 245.4L447.4 241.4L446.3 234.6L446.0 227.4L446.4 221.9L447.0 218.1L448.8 212.4L450.2 209.1L451.5 206.6L452.8 204.6L454.9 201.8L457.6 199.0L459.1 197.8L461.1 196.6L463.6 195.4L467.6 194.5L472.9 194.2L476.9 194.5L479.1 194.9L482.4 195.8L485.4 197.4L487.9 199.4L490.0 202.4L491.2 205.4L491.7 208.1L491.6 211.1L490.9 215.6L488.4 224.9L485.1 233.9L480.6 244.1L476.6 251.7L473.6 256.3L471.1 258.9L470.1 259.6L468.9 260.2L467.1 260.7L465.9 260.9Z"/>
<path fill="#0030ff" d="M466.9 258.7L465.6 258.8L463.1 258.3L460.3 257.1L458.3 255.9L456.6 254.5L454.6 252.4L452.9 249.9L451.6 247.4L450.2 244.1L449.2 240.9L448.2 234.6L447.8 227.4L448.5 219.4L449.4 215.6L452.0 209.1L453.9 205.9L455.7 203.4L458.9 200.1L461.9 198.1L465.6 196.6L468.1 196.2L471.9 195.9L476.6 196.2L480.9 197.2L483.4 198.5L486.4 200.8L488.1 203.0L489.5 206.1L490.0 208.4L490.2 211.1L489.8 215.6L488.6 221.4L486.3 228.6L483.4 235.9L479.6 243.4L475.1 251.0L472.4 255.2L469.4 257.8L466.9 258.7Z"/>
<path fill="#0051ff" d="M467.1 256.4L465.6 256.5L463.9 256.3L461.0 255.1L459.1 253.9L457.9 252.9L456.1 251.1L454.6 249.0L453.1 246.3L451.9 243.4L450.9 240.1L449.6 232.4L449.3 227.1L449.8 219.9L450.7 216.1L453.1 209.9L455.1 206.5L456.8 204.1L459.6 201.4L462.6 199.4L465.9 198.1L468.6 197.5L471.9 197.3L475.9 197.6L480.0 198.6L481.6 199.4L483.2 200.4L485.0 201.9L486.8 204.1L488.3 207.4L488.9 210.6L489.0 212.6L488.6 216.9L487.8 221.4L486.9 224.6L485.7 228.4L484.1 232.4L480.6 239.5L476.4 246.4L471.1 253.9L470.4 254.6L468.6 255.9L467.1 256.4Z"/>
<path fill="#0070ff" d="M466.6 251.6L465.4 251.7L463.4 251.1L461.6 250.3L460.1 249.2L457.6 246.7L456.1 244.6L454.6 241.9L453.2 238.1L451.9 231.9L451.5 227.1L451.9 219.9L453.0 215.4L454.7 210.9L457.1 206.9L458.6 205.1L460.7 203.1L463.6 201.2L467.1 199.9L471.6 199.3L475.4 199.6L478.8 200.6L481.4 202.0L483.8 204.1L485.4 206.4L486.4 208.6L487.2 212.1L487.3 216.6L486.8 220.9L486.0 224.9L483.9 230.7L481.8 235.1L479.4 239.3L476.1 243.5L473.4 246.5L469.6 249.7L467.6 251.1L466.6 251.6Z"/>
<path fill="#00abff" d="M466.6 247.6L465.4 247.8L464.1 247.6L462.4 246.7L460.9 245.7L459.4 244.3L458.2 242.9L456.9 240.9L455.7 238.6L454.0 233.1L453.3 228.1L453.4 221.4L453.8 218.6L454.8 214.6L456.4 211.1L458.4 207.8L459.8 206.1L461.7 204.4L464.6 202.5L467.9 201.3L471.6 200.9L474.9 201.3L477.4 202.0L480.6 203.7L482.8 205.9L484.6 208.9L485.7 211.9L486.1 214.9L486.0 220.1L485.5 223.6L484.0 228.4L482.7 231.4L480.8 235.1L478.2 239.1L475.1 242.5L472.6 244.5L469.4 246.5L466.6 247.6Z"/>
<path fill="#00fff8" d="M467.6 244.9L466.4 245.0L464.6 244.8L462.1 243.6L460.9 242.7L459.9 241.7L457.4 238.1L456.5 236.1L455.1 231.6L454.5 227.6L454.6 221.1L455.4 216.4L456.5 213.4L458.8 209.1L460.6 206.9L463.6 204.5L466.4 203.0L468.9 202.3L472.4 202.1L475.9 202.8L478.9 204.3L480.1 205.1L482.1 207.4L483.8 210.1L484.8 212.9L485.4 217.1L485.4 220.9L484.8 224.4L483.4 228.6L480.9 233.9L478.6 237.4L477.4 238.9L473.9 242.1L471.1 243.8L467.6 244.9Z"/>
<path fill="#00ffd1" d="M467.1 243.4L465.9 243.2L464.4 242.8L461.6 241.2L459.6 238.9L458.0 236.4L456.4 232.1L455.6 227.9L455.6 222.1L455.8 219.6L456.7 215.6L457.5 213.4L459.5 209.9L461.3 207.6L463.9 205.5L466.6 204.1L469.1 203.4L472.1 203.1L475.4 203.8L478.6 205.5L480.6 207.4L482.0 209.4L483.6 212.6L484.3 215.1L484.6 218.6L484.3 223.1L482.9 227.9L482.0 229.9L479.9 233.9L477.3 237.6L474.4 240.4L472.9 241.4L470.4 242.6L467.1 243.4Z"/>
<path fill="#00ffa3" d="M468.1 241.9L466.9 242.0L465.6 241.7L464.1 241.2L462.9 240.5L461.1 238.8L459.3 236.4L458.4 234.3L457.3 231.1L456.6 226.9L456.6 221.4L456.9 218.9L458.0 214.9L459.8 211.1L461.2 209.1L463.6 206.9L466.4 205.2L468.9 204.4L471.9 204.1L474.9 204.7L477.6 206.1L479.6 207.9L480.9 209.6L482.4 212.4L483.2 215.4L483.5 218.4L483.3 222.4L482.9 224.6L481.3 229.1L479.2 233.1L477.1 236.1L475.9 237.5L472.9 240.1L470.4 241.3L468.1 241.9Z"/>
<path fill="#00ff69" d="M467.6 240.6L466.6 240.6L465.4 240.3L463.2 239.1L461.1 236.9L459.8 234.9L458.4 231.4L457.6 227.6L457.5 223.1L457.7 220.1L458.4 216.4L459.1 214.4L460.7 211.4L462.4 209.2L464.6 207.3L467.1 205.9L469.6 205.2L472.1 205.1L474.6 205.7L477.3 207.1L479.3 209.1L480.6 211.1L481.7 213.4L482.3 215.9L482.5 218.9L482.3 222.4L481.7 225.1L480.2 229.1L478.4 232.6L476.4 235.4L475.1 236.8L472.4 239.1L469.9 240.2L467.6 240.6Z"/>
<path fill="#00ff23" d="M468.9 238.9L466.9 238.9L464.9 238.2L463.1 237.0L461.2 234.6L459.6 231.1L458.9 227.9L458.7 225.6L458.7 220.6L459.1 218.6L460.0 215.1L461.4 212.4L462.8 210.4L464.9 208.5L467.1 207.1L468.9 206.5L471.6 206.2L473.9 206.7L476.1 207.8L477.9 209.4L478.9 210.6L480.2 213.1L481.0 215.9L481.2 218.1L481.1 221.9L480.5 224.9L479.3 228.4L477.6 231.6L476.1 233.7L474.6 235.4L472.1 237.6L470.6 238.4L468.9 238.9Z"/>
<path fill="#26ff00" d="M469.1 237.4L467.1 237.4L465.1 236.6L464.1 235.9L462.9 234.7L461.7 232.9L460.7 230.6L459.9 227.4L459.7 225.4L459.7 221.1L460.0 218.9L460.9 215.6L462.2 212.9L463.5 211.1L465.1 209.6L467.1 208.3L468.9 207.6L471.4 207.3L473.4 207.7L475.4 208.7L476.6 209.7L477.8 211.1L479.2 213.6L479.9 216.4L480.1 221.4L479.4 224.6L478.4 227.6L476.5 231.4L474.6 233.8L472.1 236.0L470.6 236.9L469.1 237.4Z"/>
<path fill="#70ff00" d="M468.4 236.1L466.6 235.8L465.1 235.0L463.6 233.6L462.2 231.6L461.4 229.6L460.5 226.1L460.4 223.4L460.5 220.9L460.8 219.1L461.7 215.9L463.0 213.4L464.3 211.6L465.9 210.2L467.6 209.2L469.4 208.6L471.4 208.4L473.1 208.8L475.1 209.9L476.6 211.4L477.7 213.1L478.4 214.6L479.0 216.9L479.2 221.4L478.6 224.4L477.5 227.6L475.6 231.1L473.9 233.2L471.6 235.0L470.1 235.8L468.4 236.1Z"/>
<path fill="#b0ff00" d="M468.9 234.6L467.4 234.6L465.9 233.9L464.5 232.9L463.1 231.0L462.3 229.4L461.5 226.9L461.1 223.9L461.2 221.9L461.5 219.6L462.2 216.9L463.0 215.1L464.5 212.9L465.9 211.5L467.6 210.4L469.4 209.8L471.1 209.6L472.6 209.9L474.4 210.8L475.6 212.0L476.7 213.6L477.5 215.1L478.1 217.1L478.3 221.1L477.9 223.9L477.3 225.9L476.5 228.1L475.4 229.9L473.9 231.9L472.9 232.8L470.6 234.2L468.9 234.6Z"/>
<path fill="#e5ff00" d="M469.6 233.1L468.1 233.3L466.9 232.9L465.4 232.0L464.1 230.6L463.1 228.9L462.3 226.9L462.0 225.4L461.9 222.6L462.1 220.1L462.6 218.1L463.5 215.9L464.4 214.6L465.6 213.1L467.4 211.7L469.1 211.0L470.9 210.8L472.4 211.1L473.6 211.8L474.9 213.0L475.9 214.3L476.6 215.7L477.1 217.1L477.5 221.1L476.7 225.4L475.8 227.6L475.1 228.9L472.6 231.7L470.9 232.8L469.6 233.1Z"/>
<path fill="#ffee00" d="M470.4 231.9L468.9 232.1L467.4 231.9L466.1 231.3L464.9 230.1L463.8 228.6L463.1 226.9L462.8 225.6L462.5 223.1L462.8 220.4L463.1 218.9L464.6 215.6L466.1 213.9L467.4 212.8L468.6 212.2L470.4 211.8L471.6 212.0L472.9 212.6L474.9 214.6L475.8 216.1L476.1 217.1L476.7 220.9L476.2 224.4L474.9 227.9L472.6 230.7L470.4 231.9Z"/>
<path fill="#ffca00" d="M470.1 231.1L468.9 231.3L467.6 231.1L466.4 230.5L465.4 229.6L464.4 228.2L463.7 226.6L463.2 223.1L463.7 219.4L465.2 216.1L466.6 214.5L467.9 213.6L469.1 213.0L470.4 212.8L471.4 213.0L472.4 213.4L473.4 214.2L474.3 215.4L475.4 217.6L475.9 220.9L475.5 224.4L474.2 227.6L472.1 230.1L470.1 231.1Z"/>
<path fill="#ffa200" d="M469.6 230.4L468.4 230.4L467.4 230.2L466.4 229.6L465.6 228.8L464.9 227.6L464.3 226.1L463.8 223.1L464.4 219.6L465.8 216.6L466.9 215.4L468.1 214.5L469.1 214.0L470.4 213.9L471.4 214.1L472.4 214.6L473.4 215.6L474.1 216.6L474.9 218.9L475.1 221.9L474.7 224.6L473.5 227.4L471.6 229.5L470.6 230.1L469.6 230.4Z"/>
<path fill="#ff7600" d="M469.4 229.7L468.4 229.6L467.4 229.3L466.0 228.1L464.9 225.9L464.5 223.1L465.0 219.9L466.4 217.1L467.3 216.1L468.4 215.4L469.4 215.0L470.4 214.9L471.2 215.1L472.1 215.7L473.5 217.4L474.2 219.6L474.4 222.4L473.8 224.9L472.8 227.1L471.1 229.0L470.4 229.4L469.4 229.7Z"/>
<path fill="#ff4200" d="M469.9 228.7L469.1 228.9L468.1 228.8L467.4 228.4L466.8 227.9L465.7 225.9L465.3 223.4L465.6 220.6L466.7 218.1L467.5 217.1L468.4 216.4L469.4 216.0L470.1 215.9L471.5 216.4L472.6 217.6L473.4 219.5L473.6 221.9L473.3 224.1L472.5 226.1L471.2 227.9L469.9 228.7Z"/>
<path fill="#ff0000" d="M469.6 227.4L469.1 227.6L468.4 227.5L467.4 226.6L466.7 224.9L466.5 222.9L466.8 220.9L467.6 219.1L468.9 217.7L470.1 217.3L470.9 217.6L471.7 218.6L472.2 220.1L472.4 221.9L472.1 223.6L471.6 225.1L470.6 226.6L469.6 227.4Z"/>
</g>
<g id="p3">
<path fill="#0006ff" d="M741.1 274.4L737.9 274.4L735.6 273.6L733.1 272.4L731.6 271.4L730.6 270.4L729.6 269.9L727.4 267.9L727.1 267.9L726.1 266.7L724.9 265.6L724.8 265.4L722.9 263.1L722.3 262.1L721.4 261.1L719.9 258.9L719.6 258.1L718.6 256.9L716.4 252.1L714.9 247.6L714.8 246.1L714.4 245.1L714.1 241.4L713.9 241.1L713.8 238.9L713.6 238.4L713.6 227.1L713.8 226.9L713.9 224.6L714.1 224.4L714.1 223.1L714.3 222.9L714.4 221.4L715.1 219.6L715.1 218.4L716.1 216.6L716.1 216.1L717.4 213.6L718.4 212.1L719.3 211.1L719.4 210.9L722.1 208.1L723.1 207.6L724.1 206.6L725.9 205.8L726.4 205.4L729.6 203.6L730.9 203.3L732.6 202.4L736.4 201.1L737.9 201.1L738.9 200.6L740.1 200.6L740.4 200.4L747.6 200.4L747.9 200.6L749.4 200.6L752.4 201.6L754.9 202.9L759.1 207.4L759.7 208.6L760.1 209.1L761.4 211.6L762.6 215.4L762.7 216.1L763.1 217.1L763.2 219.4L763.4 219.6L763.4 220.1L763.4 229.1L763.2 229.4L762.9 234.1L762.7 234.4L762.7 235.6L762.5 235.9L762.2 238.9L761.7 239.9L761.7 241.4L761.2 242.4L761.1 243.9L760.5 245.6L760.4 246.9L759.9 247.9L759.9 248.6L758.6 252.4L757.7 254.1L757.4 255.6L756.4 257.4L756.2 258.4L755.4 259.9L754.9 260.4L751.6 266.9L750.7 267.9L750.1 268.9L747.4 271.6L745.9 272.6L743.4 273.9L742.6 274.1L741.4 274.2L741.1 274.4Z"/>
<path fill="#0016ff" d="M740.9 271.4L738.6 271.4L735.9 270.6L733.4 269.2L730.4 267.0L726.1 262.8L723.7 259.6L721.0 255.4L718.5 249.9L717.7 247.1L717.1 244.1L716.3 237.1L716.1 231.9L716.3 227.9L717.1 222.4L718.0 219.1L718.7 217.4L720.7 213.9L723.9 210.5L726.4 208.7L730.9 206.2L736.1 204.2L741.4 203.2L746.4 203.2L750.4 204.0L752.1 204.7L753.4 205.5L754.9 206.9L756.6 208.9L759.0 212.9L760.8 217.6L761.5 221.1L761.8 227.1L761.5 233.1L760.2 240.6L758.4 247.2L753.7 258.1L751.4 262.6L748.9 266.5L746.6 268.8L743.9 270.5L742.4 271.1L740.9 271.4Z"/>
<path fill="#0030ff" d="M740.1 269.4L738.4 269.3L736.1 268.5L734.1 267.4L731.1 265.2L727.6 261.6L725.6 259.0L722.7 254.4L721.4 251.9L720.3 249.1L719.0 243.9L718.5 239.9L718.0 233.4L718.3 227.6L718.9 223.6L719.8 219.9L720.5 218.1L722.5 214.9L725.4 212.0L727.9 210.2L732.1 207.9L736.9 206.1L741.6 205.2L746.4 205.2L749.9 206.0L751.4 206.6L752.4 207.3L754.0 208.9L755.6 210.8L757.6 214.1L759.4 218.6L760.3 222.4L760.6 225.9L760.5 232.9L759.4 239.6L757.4 246.1L750.1 261.8L747.6 265.4L745.7 267.1L742.9 268.8L740.1 269.4Z"/>
<path fill="#0051ff" d="M740.6 266.9L739.1 266.9L737.1 266.3L735.3 265.4L732.4 263.3L729.6 260.7L727.6 258.3L724.4 253.4L723.1 251.1L722.0 248.4L720.7 243.4L720.1 239.6L719.6 233.1L719.8 228.1L720.4 224.4L721.7 219.9L723.6 216.4L726.4 213.5L729.7 211.1L734.4 208.8L737.9 207.7L741.4 207.1L745.6 207.0L749.1 207.7L751.4 208.9L752.6 210.0L754.2 211.9L756.2 214.9L758.2 219.4L759.2 222.9L759.6 226.1L759.6 232.6L758.6 238.7L757.3 243.4L755.9 246.9L751.7 254.4L749.6 259.0L747.9 261.9L745.6 264.4L742.6 266.3L740.6 266.9Z"/>
<path fill="#0070ff" d="M740.4 260.4L739.4 260.4L738.1 260.0L735.9 258.9L733.4 257.3L730.4 254.5L728.6 252.6L726.2 249.1L725.0 246.9L723.9 244.1L722.6 239.4L721.9 232.9L722.1 228.9L722.8 224.9L723.9 221.4L725.8 218.1L728.0 215.6L731.1 213.4L734.9 211.6L739.1 210.4L743.6 210.0L747.4 210.6L749.4 211.5L752.1 213.8L754.2 216.4L756.4 220.1L757.6 223.6L758.4 228.1L758.4 232.4L758.1 235.4L757.2 239.4L756.0 242.9L754.1 246.6L750.6 251.4L746.9 255.8L743.4 258.9L741.6 260.0L740.4 260.4Z"/>
<path fill="#00abff" d="M740.4 255.1L739.4 255.3L738.6 255.2L734.6 253.4L730.9 250.4L729.3 248.6L728.1 246.9L725.8 242.6L724.5 238.6L723.9 234.6L723.9 229.1L724.8 225.1L725.6 222.6L727.6 219.4L729.5 217.1L732.1 215.3L735.9 213.5L739.4 212.7L743.1 212.5L746.4 213.0L748.4 213.9L750.1 215.1L751.6 216.4L754.0 219.4L755.8 222.6L756.8 225.9L757.4 229.1L757.3 234.1L756.7 237.4L755.6 240.9L754.1 243.9L752.4 246.6L749.6 249.6L746.6 252.1L743.1 254.1L740.4 255.1Z"/>
<path fill="#00fff8" d="M740.4 251.6L738.6 251.6L736.6 251.0L735.6 250.5L732.9 248.8L731.6 247.7L729.5 245.1L727.2 241.4L725.8 237.9L725.2 234.4L725.2 229.4L726.1 225.9L726.9 223.6L728.9 220.4L730.6 218.3L732.9 216.7L736.4 215.0L739.6 214.3L742.6 214.3L746.1 215.0L748.4 216.1L750.9 217.8L753.0 220.1L755.0 223.4L755.8 225.1L756.3 226.9L756.8 229.4L756.8 234.1L756.0 237.4L754.9 240.6L753.3 243.6L751.4 246.2L748.9 248.5L745.9 250.3L742.9 251.3L740.4 251.6Z"/>
<path fill="#00ffd1" d="M742.9 249.6L740.1 249.8L737.1 249.1L733.9 247.4L732.3 246.1L730.8 244.4L728.1 240.4L727.0 237.4L726.4 234.1L726.3 229.6L727.2 226.1L728.0 223.9L730.0 220.9L731.5 219.1L733.9 217.5L736.4 216.2L739.9 215.4L742.6 215.4L745.6 216.0L748.4 217.3L750.6 218.8L752.3 220.6L754.3 223.6L755.2 225.9L756.2 229.6L756.0 234.9L754.8 239.1L753.2 242.1L751.3 244.9L749.1 246.9L745.6 248.9L742.9 249.6Z"/>
<path fill="#00ffa3" d="M742.6 248.4L740.4 248.5L737.6 247.9L734.6 246.4L732.9 245.0L731.1 242.9L729.1 239.9L728.0 237.1L727.3 233.6L727.4 229.6L728.1 226.4L728.9 224.4L730.9 221.3L732.4 219.6L734.6 218.1L736.9 217.0L740.4 216.2L742.6 216.2L745.6 216.9L748.1 218.0L750.4 219.6L752.4 221.9L754.0 224.6L754.8 226.6L755.5 229.9L755.5 233.1L755.2 235.1L754.1 238.9L752.6 241.6L750.5 244.4L748.6 246.0L745.1 247.9L742.6 248.4Z"/>
<path fill="#00ff69" d="M742.6 247.1L740.4 247.2L737.9 246.6L735.1 245.3L733.4 243.9L731.6 241.8L729.9 239.1L728.9 236.6L728.3 233.1L728.3 229.9L729.1 226.4L729.9 224.4L731.7 221.6L733.8 219.6L736.6 217.9L739.4 217.1L740.9 216.9L742.9 217.0L745.6 217.6L748.4 218.9L750.4 220.4L752.2 222.6L753.6 225.1L754.4 227.1L755.0 230.1L754.9 233.4L754.5 235.9L753.5 238.6L752.1 241.0L750.1 243.5L748.4 245.1L745.1 246.7L742.6 247.1Z"/>
<path fill="#00ff23" d="M742.6 245.6L740.4 245.6L738.4 245.2L735.9 244.0L734.1 242.6L732.6 240.9L730.9 238.4L730.0 236.1L729.4 232.6L729.5 229.9L730.2 226.6L731.2 224.4L732.7 222.1L734.4 220.5L737.1 218.8L739.6 218.0L741.4 217.7L743.6 217.9L745.9 218.5L748.1 219.6L749.9 220.9L751.7 223.1L753.1 225.6L753.7 227.4L754.3 230.4L754.3 232.9L753.7 235.9L752.8 238.1L751.4 240.4L749.6 242.5L747.9 244.0L745.4 245.1L742.6 245.6Z"/>
<path fill="#26ff00" d="M744.1 244.2L741.1 244.3L739.4 244.0L736.9 243.0L735.1 241.7L733.6 240.2L732.0 237.9L731.1 235.9L730.5 232.9L730.5 230.4L731.1 227.1L731.9 225.1L733.0 223.4L734.4 221.7L736.1 220.4L738.1 219.3L741.1 218.6L743.1 218.6L745.4 219.1L747.6 220.1L749.4 221.4L751.1 223.4L752.4 225.6L753.1 227.4L753.6 230.1L753.7 232.4L753.1 235.4L752.2 237.6L751.1 239.3L749.4 241.4L747.9 242.7L745.6 243.8L744.1 244.2Z"/>
<path fill="#70ff00" d="M743.9 242.9L741.1 243.0L739.4 242.6L737.4 241.8L735.6 240.5L734.4 239.3L732.8 237.1L732.0 235.1L731.4 232.4L731.4 230.4L731.9 227.4L732.7 225.4L733.9 223.6L735.5 221.9L737.9 220.4L740.0 219.6L741.6 219.3L743.4 219.4L745.9 220.1L747.6 221.0L749.1 222.1L750.6 223.9L751.9 226.1L752.5 227.6L753.0 230.4L752.9 232.4L752.3 235.4L751.5 237.1L750.4 238.7L748.6 240.7L747.4 241.7L745.4 242.5L743.9 242.9Z"/>
<path fill="#b0ff00" d="M742.4 241.6L740.6 241.5L738.9 241.0L737.4 240.2L735.6 238.8L734.1 237.0L733.4 235.7L732.7 233.6L732.4 231.4L732.6 228.9L732.9 227.1L733.9 225.1L734.9 223.7L736.4 222.3L738.4 221.1L740.6 220.3L742.1 220.1L743.6 220.3L745.9 220.9L747.6 221.9L749.1 223.2L750.2 224.6L751.3 226.6L751.9 228.4L752.2 230.9L752.0 232.6L751.4 235.2L750.5 236.9L749.1 238.6L747.9 239.9L746.1 240.9L744.4 241.5L742.4 241.6Z"/>
<path fill="#e5ff00" d="M744.4 240.1L742.4 240.3L740.6 240.1L738.9 239.6L737.4 238.6L736.1 237.6L734.7 235.9L733.8 233.9L733.4 232.4L733.4 230.4L733.6 228.1L734.0 226.6L735.0 224.9L736.4 223.4L737.9 222.3L739.1 221.7L741.4 221.0L743.1 221.0L745.4 221.6L746.6 222.2L748.4 223.6L749.5 224.9L750.5 226.6L751.4 229.9L751.4 231.4L751.1 233.1L750.5 234.9L749.8 236.1L748.6 237.6L747.4 238.8L745.9 239.7L744.4 240.1Z"/>
<path fill="#ffee00" d="M744.1 239.2L741.9 239.2L740.6 239.1L739.1 238.5L737.6 237.6L735.5 235.4L734.5 233.4L734.2 231.9L734.1 229.6L734.4 227.9L734.7 226.9L735.7 225.1L737.1 223.7L738.6 222.6L741.6 221.7L743.1 221.7L745.1 222.2L746.4 222.9L748.0 224.1L749.0 225.4L749.9 226.9L750.7 229.9L750.8 231.1L750.4 232.9L749.9 234.4L749.2 235.6L748.1 237.0L746.9 238.1L745.4 238.8L744.1 239.2Z"/>
<path fill="#ffca00" d="M744.6 238.4L743.4 238.6L741.4 238.5L740.1 238.2L738.9 237.6L737.4 236.5L736.1 235.2L735.2 233.4L734.9 232.4L734.7 230.4L734.9 228.6L735.2 227.4L736.1 225.6L737.2 224.4L738.6 223.3L739.6 222.8L741.4 222.3L742.6 222.3L744.4 222.6L745.4 223.0L746.8 223.9L747.9 224.9L748.8 226.1L749.5 227.4L750.0 229.1L750.2 230.6L750.0 231.9L749.6 233.6L749.0 234.9L747.9 236.4L746.9 237.3L744.6 238.4Z"/>
<path fill="#ffa200" d="M744.1 237.9L741.1 237.9L739.6 237.4L738.6 236.8L737.6 235.9L736.5 234.6L735.8 233.1L735.5 231.9L735.3 230.1L735.5 228.4L735.8 227.4L736.6 225.9L737.8 224.6L739.1 223.7L741.6 222.8L742.9 222.8L744.6 223.2L746.9 224.7L748.0 225.9L748.6 226.9L749.5 229.9L749.6 230.9L749.4 232.4L748.3 234.9L747.4 236.1L746.4 236.9L745.4 237.5L744.1 237.9Z"/>
<path fill="#ff7600" d="M743.6 237.4L740.9 237.2L739.6 236.7L738.6 236.0L736.9 234.1L736.4 232.9L736.1 231.6L735.9 230.1L736.1 228.6L736.4 227.6L737.0 226.4L737.9 225.4L739.1 224.3L740.1 223.8L741.6 223.4L742.9 223.4L744.4 223.8L746.4 225.1L747.9 226.9L748.9 229.9L748.9 231.1L748.7 232.4L748.2 233.9L747.6 234.9L746.9 235.8L745.8 236.6L744.8 237.1L743.6 237.4Z"/>
<path fill="#ff4200" d="M743.9 236.6L741.4 236.6L739.6 235.8L738.6 235.1L737.8 234.1L737.3 233.1L736.9 231.9L736.8 229.1L737.4 227.1L738.2 226.1L739.3 225.1L740.4 224.5L741.6 224.1L742.6 224.1L743.9 224.4L745.6 225.4L747.2 227.1L748.1 229.9L748.1 231.9L747.2 234.1L746.5 235.1L745.6 235.9L743.9 236.6Z"/>
<path fill="#ff0000" d="M743.9 234.9L742.1 235.1L740.6 234.5L739.4 233.4L738.5 231.6L738.4 229.6L738.8 228.1L740.0 226.6L741.6 225.8L743.1 225.9L744.6 226.8L745.8 228.1L746.4 229.9L746.5 231.4L746.0 232.9L745.1 234.1L743.9 234.9Z"/>
</g>
<g id="p4">
<path fill="#0006ff" d="M1005.1 336.6L1003.1 336.6L1001.4 335.9L998.1 332.6L996.9 330.9L996.6 330.1L995.9 329.4L993.4 324.6L992.8 322.9L992.4 322.1L992.3 321.6L991.4 319.9L991.1 318.1L990.6 317.4L990.6 316.6L990.4 316.4L990.1 314.1L989.4 312.1L989.1 310.1L988.9 309.9L988.8 308.9L988.6 308.6L988.6 307.6L988.4 307.4L988.3 304.9L988.1 304.6L988.1 303.6L987.9 303.4L987.8 302.4L987.6 302.1L987.6 301.1L987.4 300.9L987.3 299.9L987.1 299.6L987.1 297.1L986.9 296.9L986.8 295.9L986.6 295.6L986.6 294.6L986.4 294.4L986.3 293.4L986.1 293.1L986.1 290.6L985.9 290.4L985.8 289.4L985.6 289.1L985.6 288.1L985.4 287.9L985.3 286.9L985.1 286.6L985.1 285.6L984.9 285.4L984.8 282.9L984.6 282.6L984.6 281.6L984.4 281.4L984.3 280.4L984.1 280.1L984.1 277.9L983.8 277.6L983.8 276.6L983.6 276.4L983.6 274.1L983.3 273.9L983.3 272.6L983.1 272.4L982.8 267.6L982.6 267.4L982.5 263.9L982.3 263.6L982.3 250.6L982.6 250.4L982.6 246.9L982.8 246.6L982.9 242.9L983.1 242.6L983.1 240.1L983.3 239.9L983.4 237.6L983.6 237.4L983.6 236.4L983.8 236.1L983.9 233.6L984.1 233.4L984.1 231.1L984.3 230.9L984.4 229.9L984.6 229.6L984.6 227.4L984.8 227.1L984.9 226.4L985.3 225.6L985.9 223.1L986.9 220.6L988.4 218.4L989.6 217.4L990.6 216.9L992.1 216.6L992.4 216.4L994.6 216.4L994.9 216.6L998.4 217.1L1000.4 217.8L1002.9 218.1L1003.1 218.3L1007.1 218.3L1007.4 218.1L1009.6 217.8L1009.9 217.6L1010.6 217.6L1011.4 217.1L1012.1 217.1L1016.6 214.8L1018.4 213.4L1020.1 212.6L1021.1 211.8L1023.9 210.6L1025.9 210.1L1026.6 209.6L1027.6 209.6L1028.1 209.3L1032.6 209.4L1035.6 210.6L1037.6 212.1L1039.6 214.4L1040.4 215.9L1041.1 216.6L1042.1 218.6L1042.4 220.4L1042.9 221.1L1042.9 221.9L1043.1 222.1L1043.2 224.4L1043.4 224.6L1043.4 228.1L1043.2 228.4L1043.2 230.6L1043.0 230.9L1042.9 232.1L1042.7 232.4L1042.7 233.1L1042.2 233.9L1041.9 235.9L1041.7 236.1L1041.7 236.9L1041.2 237.6L1040.9 239.4L1040.5 240.1L1040.2 241.4L1040.0 241.6L1039.9 242.4L1039.7 242.6L1039.7 243.4L1039.2 244.1L1038.9 245.9L1038.0 247.9L1037.7 249.6L1037.2 250.4L1036.9 252.1L1036.5 252.9L1036.1 254.6L1035.7 255.4L1035.4 257.1L1035.0 257.9L1034.6 259.6L1034.2 260.4L1033.9 261.9L1033.4 262.6L1033.1 264.4L1032.2 266.4L1032.2 267.1L1031.9 267.4L1031.9 268.1L1031.4 268.9L1031.1 270.6L1029.7 273.6L1029.4 275.4L1027.9 278.6L1027.9 279.1L1026.9 280.9L1026.9 281.4L1026.4 282.1L1026.4 282.6L1025.9 283.4L1025.4 285.1L1024.4 286.9L1024.4 287.4L1023.9 288.1L1023.9 288.6L1022.4 291.9L1022.1 293.9L1021.9 294.1L1021.6 300.4L1021.4 300.6L1021.4 301.6L1021.2 301.9L1021.1 304.4L1020.9 304.6L1020.9 305.4L1020.4 306.1L1020.1 308.1L1019.4 309.6L1018.9 312.6L1017.9 314.6L1017.6 316.4L1017.2 317.1L1016.9 319.1L1016.2 321.1L1015.9 322.9L1015.4 323.6L1015.1 325.4L1014.7 326.1L1014.6 326.6L1013.7 328.9L1012.6 330.9L1011.9 331.9L1009.1 334.6L1007.4 335.6L1005.1 336.6Z"/>
<path fill="#0016ff" d="M1005.1 329.9L1004.4 330.0L1003.6 329.7L1000.9 327.9L999.2 326.4L996.9 323.1L995.5 320.6L994.3 317.6L993.1 314.1L991.5 306.6L990.2 297.1L989.1 290.6L986.5 279.9L985.0 271.4L984.4 266.6L984.1 262.6L984.1 252.9L984.5 247.9L985.6 238.6L986.8 232.4L988.1 228.1L989.1 226.0L991.0 223.1L992.0 222.1L992.9 221.6L994.6 221.3L999.1 221.4L1003.1 221.3L1007.6 220.6L1013.1 218.7L1017.1 216.6L1020.9 214.4L1023.9 213.0L1026.4 212.2L1028.6 211.7L1031.9 211.9L1034.1 212.7L1036.8 214.6L1039.1 217.6L1040.2 219.6L1041.1 222.6L1041.8 226.9L1041.5 231.6L1040.6 235.7L1037.6 245.7L1032.9 258.6L1027.6 272.4L1026.7 275.4L1021.5 287.6L1020.2 291.1L1019.6 293.9L1018.1 304.1L1016.5 311.1L1014.2 318.9L1012.1 323.4L1010.1 326.5L1007.9 328.5L1005.1 329.9Z"/>
<path fill="#0030ff" d="M1005.6 325.4L1004.1 325.5L1001.9 324.5L1000.6 323.5L998.8 321.4L997.6 319.5L996.4 316.6L995.1 313.1L994.1 308.9L993.4 305.4L992.7 297.9L991.8 292.6L988.1 279.4L986.2 270.6L985.6 266.4L985.3 262.1L985.4 252.9L986.3 244.4L987.4 238.1L988.6 233.4L990.3 229.1L992.4 226.4L994.1 225.0L995.6 224.5L999.9 224.1L1005.1 223.1L1008.1 222.3L1013.6 220.1L1021.6 215.6L1024.1 214.5L1026.6 213.8L1028.9 213.4L1031.6 213.7L1033.6 214.5L1036.4 216.6L1038.1 218.9L1039.6 222.4L1040.5 226.6L1040.6 229.4L1040.4 231.9L1039.3 237.9L1036.1 247.6L1028.8 264.6L1026.0 271.6L1025.2 274.1L1022.8 280.4L1019.6 287.6L1017.8 293.6L1014.9 310.4L1012.7 317.6L1010.8 321.1L1009.1 323.3L1007.9 324.4L1005.6 325.4Z"/>
<path fill="#0051ff" d="M1005.6 320.2L1004.9 320.3L1003.9 320.1L1003.0 319.4L1001.9 318.1L1000.2 315.4L998.4 311.4L996.3 304.4L995.2 297.1L994.0 291.9L989.6 279.4L987.3 270.1L986.7 266.1L986.4 262.1L986.4 253.6L987.6 244.6L988.7 239.4L990.3 234.1L991.6 231.3L992.7 229.6L994.7 227.9L996.6 227.0L1000.6 226.4L1006.4 224.8L1009.6 223.7L1014.1 221.5L1022.1 216.7L1024.6 215.6L1026.9 215.1L1028.6 214.9L1031.4 215.1L1033.1 215.9L1035.5 217.6L1037.1 219.8L1038.5 222.9L1039.5 227.1L1039.7 229.9L1039.4 233.9L1038.6 237.9L1035.6 246.9L1027.5 264.1L1024.7 270.6L1021.4 279.9L1018.1 286.9L1016.0 292.6L1015.0 296.1L1013.6 301.4L1011.8 309.4L1010.3 313.6L1009.2 316.1L1007.7 318.4L1006.6 319.6L1005.6 320.2Z"/>
<path fill="#0070ff" d="M1005.4 297.7L1004.9 297.9L1004.4 297.6L1002.4 295.1L998.9 290.4L994.4 283.6L991.6 278.2L989.4 271.9L988.7 269.1L988.1 265.6L987.8 261.6L987.8 256.6L987.9 253.4L988.5 248.6L989.9 243.1L991.0 239.6L993.0 235.6L994.9 233.1L996.5 231.6L998.4 230.7L1001.4 230.1L1007.9 228.2L1011.6 226.7L1015.1 224.1L1019.4 220.4L1021.5 218.9L1023.6 217.7L1025.6 217.1L1027.6 216.7L1029.6 216.7L1031.1 217.0L1033.6 218.4L1035.4 220.2L1036.9 222.9L1038.1 226.6L1038.6 230.6L1038.5 233.9L1037.9 237.6L1036.9 241.1L1035.1 245.9L1033.5 249.1L1025.9 262.6L1024.6 265.4L1022.9 269.2L1019.8 278.4L1018.3 281.4L1013.6 288.2L1006.9 296.3L1005.4 297.7Z"/>
<path fill="#00abff" d="M1005.6 288.9L1004.4 288.7L1000.9 286.5L998.6 284.4L996.6 282.3L994.3 279.1L993.1 277.1L991.5 273.6L990.6 271.2L989.8 268.4L989.3 265.4L988.9 261.6L988.9 256.9L989.2 253.1L989.8 249.1L991.1 244.2L992.4 241.1L994.1 238.4L995.7 236.4L998.1 234.4L1000.1 233.4L1009.9 230.6L1013.4 229.0L1015.1 227.5L1019.9 221.9L1021.9 220.1L1023.9 219.0L1027.1 218.2L1029.4 218.1L1030.6 218.4L1031.9 218.9L1033.1 219.8L1034.9 221.9L1035.9 223.6L1037.0 226.6L1037.7 230.9L1037.7 234.1L1037.3 237.1L1036.3 241.1L1034.3 245.9L1032.7 248.9L1024.7 261.4L1022.9 264.6L1021.2 268.4L1019.4 274.6L1018.4 277.4L1017.0 280.1L1014.6 283.1L1012.1 285.4L1008.1 287.9L1005.6 288.9Z"/>
<path fill="#00fff8" d="M1006.6 284.9L1004.9 284.8L1002.6 284.0L999.1 281.8L997.1 280.0L995.4 278.1L993.8 275.6L992.2 272.6L990.5 267.9L990.0 264.9L989.7 261.4L989.7 256.9L989.9 253.4L990.7 248.9L991.5 246.1L992.3 244.1L993.4 241.9L995.2 239.6L997.1 237.8L1000.9 235.7L1011.0 232.6L1014.6 230.8L1016.6 228.8L1020.8 222.4L1022.4 220.9L1024.1 219.8L1025.1 219.4L1027.1 219.1L1029.1 219.1L1030.4 219.3L1032.4 220.4L1034.4 222.6L1035.8 225.1L1036.5 227.1L1037.2 231.1L1037.2 235.1L1036.5 238.6L1035.5 242.1L1033.8 245.9L1032.2 248.6L1023.8 260.4L1021.6 264.1L1020.0 267.9L1018.1 274.9L1017.1 277.4L1016.3 278.9L1013.9 281.6L1011.9 283.0L1009.1 284.3L1006.6 284.9Z"/>
<path fill="#00ffd1" d="M1007.9 282.6L1006.4 282.8L1004.4 282.4L1002.6 281.9L999.9 280.4L997.9 278.8L996.5 277.4L994.7 274.9L993.1 272.1L991.3 267.4L990.8 264.6L990.4 261.1L990.4 257.1L990.7 253.4L991.4 249.1L992.2 246.6L993.2 244.1L994.3 242.1L996.0 240.1L997.6 238.7L1001.6 236.7L1010.9 234.1L1013.9 232.8L1015.6 231.6L1017.1 230.1L1021.1 223.4L1022.9 221.5L1024.6 220.4L1026.1 220.0L1028.4 219.8L1030.1 220.1L1031.9 221.1L1033.8 223.1L1034.9 225.1L1035.8 227.1L1036.6 231.1L1036.6 234.9L1036.1 238.1L1035.3 241.1L1034.3 243.6L1031.8 248.1L1024.4 257.6L1022.6 260.1L1020.9 263.3L1019.1 267.4L1017.2 274.1L1015.4 277.9L1014.1 279.4L1012.4 280.9L1010.4 281.9L1007.9 282.6Z"/>
<path fill="#00ffa3" d="M1008.1 280.9L1006.4 281.1L1004.6 280.8L1002.6 280.2L1000.6 279.2L998.6 277.7L997.4 276.5L995.5 274.1L993.8 271.4L992.2 266.9L991.6 264.1L991.2 260.4L991.4 253.4L992.0 249.6L992.8 246.9L994.8 242.6L996.4 240.6L997.9 239.3L1001.9 237.3L1011.4 234.9L1014.3 233.6L1016.1 232.4L1017.6 230.6L1021.4 224.2L1023.2 222.1L1024.9 221.0L1026.1 220.7L1028.4 220.4L1029.9 220.7L1031.4 221.6L1033.1 223.4L1034.3 225.4L1035.1 227.4L1035.9 231.4L1036.0 234.6L1035.5 237.9L1034.7 241.1L1032.8 245.1L1031.1 247.8L1028.4 251.1L1024.6 255.1L1021.8 259.4L1019.9 263.3L1018.4 267.1L1016.4 273.4L1014.9 276.4L1013.6 278.0L1012.1 279.3L1010.1 280.3L1008.1 280.9Z"/>
<path fill="#00ff69" d="M1007.4 279.4L1005.9 279.4L1003.4 278.9L1001.6 278.2L999.4 276.7L998.2 275.6L996.6 273.9L995.1 271.7L994.3 270.1L992.7 265.6L992.3 263.6L991.9 259.9L992.1 253.1L992.7 249.4L993.5 246.6L995.3 242.9L996.9 240.9L998.1 239.8L1001.9 237.9L1011.6 235.7L1014.6 234.4L1016.4 233.2L1017.4 232.0L1018.7 230.1L1021.6 224.9L1023.4 222.8L1024.9 221.7L1026.1 221.3L1028.1 221.0L1029.6 221.3L1031.4 222.4L1033.1 224.4L1034.3 226.9L1035.0 229.6L1035.4 231.9L1035.3 235.4L1035.0 237.9L1034.1 241.1L1032.9 243.8L1030.6 247.4L1028.6 249.6L1023.6 254.4L1022.0 256.6L1020.8 258.9L1019.4 262.1L1016.2 271.4L1014.4 275.0L1012.9 276.8L1011.4 278.0L1009.6 278.8L1007.4 279.4Z"/>
<path fill="#00ff23" d="M1007.1 277.4L1004.9 277.3L1003.4 277.0L1002.1 276.5L999.9 275.1L998.2 273.6L996.9 272.0L995.6 270.1L994.7 267.9L993.9 265.8L993.3 263.4L992.7 259.1L992.9 252.9L993.6 248.9L994.4 246.1L996.1 242.9L997.6 241.0L999.4 239.8L1002.4 238.4L1012.6 236.5L1015.6 235.0L1016.9 234.0L1017.9 232.9L1019.4 230.4L1021.6 226.1L1023.4 223.8L1024.9 222.6L1026.1 222.0L1027.9 221.7L1029.4 221.9L1031.1 223.1L1032.5 224.9L1033.7 227.1L1034.3 229.6L1034.7 231.9L1034.6 235.9L1033.6 240.9L1032.2 243.6L1030.1 246.7L1027.9 248.9L1022.6 253.1L1020.7 255.9L1018.9 260.1L1015.9 269.6L1015.2 271.1L1013.8 273.4L1012.4 275.0L1010.9 276.2L1009.4 276.9L1007.1 277.4Z"/>
<path fill="#26ff00" d="M1006.6 275.4L1004.6 275.3L1003.1 275.0L1001.0 273.9L999.6 272.9L998.4 271.7L996.9 269.6L995.0 265.6L994.2 262.6L993.7 259.9L993.6 254.1L994.4 249.1L995.4 245.9L996.4 243.8L997.8 241.9L999.3 240.6L1001.2 239.6L1002.4 239.2L1004.6 238.7L1012.9 237.6L1015.6 236.3L1017.3 234.9L1018.2 233.9L1021.7 227.1L1023.6 224.5L1025.1 223.3L1026.4 222.6L1027.9 222.3L1029.1 222.5L1030.7 223.6L1032.2 225.4L1033.2 227.4L1033.8 229.9L1034.1 231.9L1034.0 235.9L1032.9 240.8L1031.6 243.2L1029.4 246.3L1027.1 248.3L1022.6 251.2L1021.4 252.3L1020.6 253.2L1019.2 255.9L1015.6 267.5L1014.4 270.2L1013.1 272.0L1012.1 273.0L1010.1 274.5L1008.6 275.1L1006.6 275.4Z"/>
<path fill="#70ff00" d="M1006.9 272.4L1005.4 272.4L1004.1 272.1L1002.4 271.4L1000.9 270.5L998.7 268.1L996.6 264.4L995.6 262.0L995.0 259.4L994.7 254.4L995.1 250.4L995.7 247.9L996.2 246.4L997.2 244.4L998.5 242.6L999.9 241.4L1001.9 240.3L1005.1 239.5L1013.6 239.0L1014.6 238.8L1015.4 238.4L1016.6 237.3L1018.4 235.2L1021.9 227.9L1023.9 225.1L1025.1 224.1L1026.6 223.2L1028.1 223.0L1029.1 223.2L1030.6 224.3L1031.9 225.9L1032.8 227.6L1033.5 230.6L1033.6 232.1L1033.4 235.9L1032.3 240.4L1030.9 243.0L1028.8 245.6L1026.6 247.2L1021.9 249.4L1020.9 250.3L1019.7 252.1L1018.4 254.9L1016.1 262.4L1013.9 267.2L1012.5 269.1L1010.9 270.7L1008.9 271.9L1006.9 272.4Z"/>
<path fill="#b0ff00" d="M1007.1 269.1L1005.9 269.2L1004.6 268.9L1003.1 268.3L1001.9 267.4L999.6 265.1L997.4 261.4L996.4 258.4L995.9 253.6L996.5 249.6L997.4 246.6L998.5 244.6L1000.4 242.6L1001.9 241.6L1004.0 240.9L1006.1 240.5L1009.1 240.4L1012.6 240.7L1015.6 241.4L1016.6 241.1L1019.1 236.4L1022.1 228.9L1023.3 226.9L1024.6 225.3L1026.4 224.1L1027.9 223.7L1029.4 224.1L1030.9 225.2L1031.7 226.4L1032.5 228.1L1033.1 231.1L1032.8 236.1L1031.5 240.1L1030.4 242.1L1029.1 243.8L1027.1 245.5L1024.9 246.4L1022.6 246.9L1020.4 247.0L1019.8 247.4L1019.1 248.8L1016.4 258.2L1015.1 261.3L1013.6 263.9L1012.4 265.7L1010.4 267.5L1008.6 268.6L1007.1 269.1Z"/>
<path fill="#e5ff00" d="M1025.4 244.9L1023.9 245.0L1022.8 244.9L1021.2 244.1L1020.1 243.4L1019.8 242.9L1019.6 241.9L1019.7 239.1L1021.0 233.1L1023.0 228.4L1024.6 226.2L1025.5 225.4L1027.1 224.5L1028.6 224.5L1029.6 224.8L1030.7 225.6L1031.3 226.4L1032.0 227.9L1032.7 231.6L1032.3 235.6L1031.3 238.9L1029.4 242.0L1028.4 243.2L1027.4 244.1L1026.4 244.6L1025.4 244.9ZM1006.6 265.9L1005.9 265.9L1004.9 265.7L1002.4 264.3L1001.0 263.1L999.3 260.9L998.3 259.1L997.8 257.6L997.2 254.4L997.2 252.4L997.6 249.9L998.2 247.6L999.5 245.4L1000.9 243.9L1002.4 242.7L1004.6 241.8L1006.1 241.5L1008.6 241.5L1012.1 242.4L1015.0 244.1L1016.1 245.1L1016.5 245.9L1016.8 247.6L1016.8 252.4L1015.6 257.4L1014.4 260.1L1013.6 261.2L1012.1 263.1L1010.6 264.3L1008.9 265.2L1006.6 265.9Z"/>
<path fill="#ffee00" d="M1026.4 243.6L1025.1 243.9L1023.9 243.7L1023.0 243.1L1022.1 242.1L1021.4 240.9L1021.1 239.4L1021.2 235.4L1021.8 232.6L1023.0 229.6L1023.8 228.1L1025.1 226.5L1025.9 225.9L1027.4 225.1L1028.6 225.0L1029.4 225.3L1030.4 225.9L1031.6 227.9L1032.2 231.1L1032.0 233.9L1031.5 236.6L1030.3 239.4L1028.4 242.1L1027.4 243.1L1026.4 243.6ZM1008.6 263.2L1006.9 263.3L1005.4 263.2L1003.1 262.3L1001.9 261.4L1000.4 259.8L999.2 257.9L998.7 256.4L998.2 253.6L998.2 251.9L998.8 248.9L999.3 247.6L1000.3 245.9L1001.6 244.5L1002.7 243.6L1004.6 242.8L1006.1 242.4L1008.1 242.4L1009.4 242.7L1011.1 243.4L1012.4 244.4L1013.6 245.6L1014.8 247.6L1015.3 249.1L1015.7 251.4L1015.8 252.9L1015.3 255.6L1014.8 257.4L1013.7 259.4L1012.9 260.5L1011.4 261.9L1008.6 263.2Z"/>
<path fill="#ffca00" d="M1026.1 242.9L1025.1 243.1L1024.1 242.8L1023.3 242.1L1022.5 241.1L1021.9 238.9L1021.9 235.4L1022.4 232.6L1023.4 230.0L1024.1 228.6L1026.1 226.4L1027.4 225.7L1028.6 225.6L1029.4 225.8L1030.2 226.4L1031.4 228.4L1031.8 231.4L1031.6 233.9L1031.1 236.4L1029.7 239.4L1027.9 241.8L1026.1 242.9ZM1007.9 262.4L1006.1 262.4L1004.6 262.0L1002.9 261.1L1001.6 260.0L1000.7 258.9L999.7 257.1L999.2 255.4L998.8 253.1L999.0 251.1L999.5 248.9L1001.1 246.1L1002.3 244.9L1003.3 244.1L1005.1 243.4L1006.4 243.1L1008.1 243.2L1009.9 243.7L1011.1 244.4L1012.4 245.6L1013.3 246.9L1014.2 248.6L1014.8 250.6L1015.0 252.4L1014.9 254.4L1014.4 256.4L1012.9 259.3L1010.7 261.4L1009.1 262.1L1007.9 262.4Z"/>
<path fill="#ffa200" d="M1026.1 242.2L1025.1 242.3L1024.4 242.0L1023.5 241.1L1022.9 240.1L1022.4 237.1L1022.7 233.9L1023.9 230.4L1024.9 228.6L1026.6 226.7L1027.6 226.3L1028.6 226.2L1029.4 226.4L1030.0 226.9L1031.0 228.6L1031.4 231.4L1031.2 233.9L1030.6 236.4L1029.4 239.1L1027.8 241.1L1027.1 241.7L1026.1 242.2ZM1007.9 261.6L1006.4 261.7L1004.9 261.3L1003.4 260.6L1002.1 259.6L1001.3 258.6L1000.3 256.9L999.8 255.1L999.4 253.1L999.5 251.6L1000.1 249.1L1001.5 246.6L1002.4 245.6L1003.6 244.7L1005.1 244.1L1006.6 243.8L1008.1 243.9L1009.6 244.4L1010.6 245.0L1011.9 246.1L1013.6 248.9L1014.1 250.6L1014.3 252.1L1014.2 253.9L1013.9 255.6L1013.3 257.1L1012.5 258.6L1010.4 260.7L1009.1 261.3L1007.9 261.6Z"/>
<path fill="#ff7600" d="M1026.4 241.4L1025.6 241.5L1024.9 241.3L1024.1 240.6L1023.5 239.6L1023.0 236.9L1023.3 234.1L1024.1 231.4L1025.4 228.9L1027.1 227.2L1027.9 226.9L1028.6 226.8L1029.7 227.4L1030.6 228.9L1031.0 230.9L1030.9 233.4L1030.4 235.6L1029.3 238.4L1027.9 240.3L1026.4 241.4ZM1007.9 260.9L1006.6 261.0L1005.1 260.7L1003.9 260.1L1002.6 259.2L1000.9 256.6L1000.1 253.1L1000.1 251.9L1000.6 249.6L1001.1 248.4L1002.1 246.9L1003.1 245.9L1004.4 245.1L1006.6 244.5L1007.9 244.6L1009.4 245.1L1010.4 245.7L1011.3 246.6L1012.9 249.1L1013.6 251.9L1013.4 254.9L1012.9 256.4L1012.1 257.9L1011.3 258.9L1010.1 260.0L1009.1 260.5L1007.9 260.9Z"/>
<path fill="#ff4200" d="M1026.6 240.4L1025.9 240.6L1025.4 240.5L1024.6 239.9L1024.2 239.1L1023.8 236.9L1024.1 234.1L1024.6 232.2L1025.9 229.5L1027.4 227.9L1028.1 227.6L1028.6 227.6L1029.6 228.3L1030.2 229.6L1030.4 231.9L1030.1 234.1L1029.6 235.9L1028.6 238.2L1027.6 239.6L1026.6 240.4ZM1007.1 260.1L1005.1 259.8L1003.8 259.1L1003.0 258.4L1001.4 255.9L1000.8 252.9L1001.4 249.6L1002.9 247.2L1003.6 246.5L1004.9 245.8L1006.9 245.3L1007.9 245.4L1009.1 245.9L1010.9 247.4L1012.3 249.9L1012.8 252.4L1012.7 253.9L1012.4 255.1L1011.1 257.8L1009.4 259.4L1008.4 259.9L1007.1 260.1Z"/>
<path fill="#ff0000" d="M1026.6 237.9L1026.1 238.0L1025.8 237.4L1025.7 236.4L1025.8 234.4L1027.0 231.1L1027.6 230.3L1028.1 230.1L1028.5 230.4L1028.7 231.1L1028.5 233.9L1027.6 236.4L1026.6 237.9ZM1007.9 258.1L1006.9 258.3L1006.1 258.2L1004.4 257.2L1003.1 255.4L1002.6 253.1L1002.9 250.9L1003.7 249.1L1004.9 247.9L1006.6 247.1L1008.1 247.4L1009.4 248.4L1010.4 250.1L1011.0 252.1L1010.9 253.9L1010.2 255.9L1009.1 257.4L1007.9 258.1Z"/>
</g>
<g id="p5">
<path fill="#0006ff" d="M217.4 645.4L216.6 645.6L215.6 645.1L214.1 643.6L214.1 643.4L213.1 642.4L212.6 641.4L212.3 640.1L210.4 635.6L210.1 633.9L209.6 633.1L209.1 631.1L208.1 629.1L207.8 627.4L205.9 622.9L205.6 620.9L204.1 617.6L203.8 615.9L202.9 613.9L202.6 611.9L202.1 611.1L201.8 609.4L201.4 608.6L201.1 606.9L200.4 604.9L200.3 604.1L199.9 603.4L199.3 600.1L198.9 599.4L198.3 596.4L197.6 594.4L197.3 592.4L196.9 591.6L196.8 590.9L196.6 590.6L196.3 588.4L195.9 587.6L195.8 586.9L195.6 586.6L195.3 584.4L194.9 583.6L194.8 582.9L194.6 582.6L194.3 580.4L193.9 579.6L193.3 576.6L192.6 574.6L192.3 572.4L192.1 572.1L192.1 570.9L191.9 570.6L191.8 569.6L191.6 569.4L191.6 568.4L191.4 568.1L191.3 566.9L191.1 566.6L191.1 564.4L190.9 564.1L190.8 561.6L190.6 561.4L190.6 560.6L190.6 553.9L190.6 553.4L190.8 553.1L190.9 549.4L191.1 549.1L191.4 543.9L191.6 543.6L191.6 542.6L191.8 542.4L192.1 537.1L192.3 536.9L192.6 534.4L192.8 534.1L192.8 531.9L193.1 531.6L193.3 529.1L193.6 528.9L193.6 526.4L193.8 526.1L193.8 525.1L194.1 524.9L194.1 523.9L194.3 523.6L194.4 522.4L194.6 522.1L194.6 521.1L194.8 520.9L194.9 519.6L195.1 519.4L195.4 517.4L195.8 516.6L196.1 514.4L196.3 514.1L196.4 513.4L196.8 512.6L197.1 510.9L199.1 506.9L200.8 505.1L200.9 504.9L204.6 501.1L205.4 500.8L206.9 499.4L207.6 499.1L209.6 497.6L212.4 496.4L214.9 495.9L216.9 496.1L217.1 496.3L218.4 496.4L222.1 498.1L224.9 500.6L228.1 503.9L228.9 504.9L231.6 510.4L232.1 511.9L232.2 512.6L232.4 512.9L232.4 513.6L232.9 514.4L232.9 515.1L233.1 515.4L233.2 516.6L233.4 516.9L233.4 517.9L233.7 518.1L233.7 519.1L233.9 519.4L233.9 520.6L234.2 520.9L234.2 521.9L234.4 522.1L234.5 524.6L234.7 524.9L234.7 527.1L234.9 527.4L235.0 531.4L235.2 531.6L235.2 532.4L234.9 541.9L234.7 542.1L234.7 546.1L234.5 546.4L234.4 548.6L234.2 548.9L234.2 551.4L234.0 551.6L233.9 552.9L233.7 553.1L233.7 555.6L233.5 555.9L233.4 558.1L233.2 558.4L233.2 559.6L233.0 559.9L232.9 562.4L232.7 562.6L232.7 563.6L232.5 563.9L232.4 566.4L232.2 566.6L232.2 567.6L232.0 567.9L231.9 570.4L231.7 570.6L231.7 571.9L231.4 572.1L231.2 577.1L230.9 577.4L230.9 579.9L230.7 580.1L230.6 582.6L230.4 582.9L230.4 585.4L230.2 585.6L229.9 590.6L229.7 590.9L229.6 593.4L229.4 593.6L229.4 594.6L229.2 594.9L228.9 600.1L228.7 600.4L228.6 601.4L228.4 601.6L228.4 602.6L228.2 602.9L228.1 604.1L227.9 604.4L227.9 606.6L227.7 606.9L227.6 608.1L227.4 608.4L227.4 609.4L227.2 609.6L227.1 610.9L226.9 611.1L226.9 612.1L226.7 612.4L226.6 613.4L226.4 613.6L226.4 614.9L226.2 615.1L226.1 616.1L225.9 616.4L225.9 617.4L225.7 617.6L225.6 618.6L225.2 619.4L225.2 620.1L224.9 620.4L224.9 621.4L224.7 621.6L224.6 622.9L224.4 623.1L224.4 624.1L224.2 624.4L224.2 625.4L223.9 625.6L223.6 628.1L223.4 628.4L223.1 630.6L222.7 631.4L222.7 632.1L222.4 632.4L222.1 634.4L221.7 635.4L221.4 637.1L220.9 637.9L220.6 639.6L220.2 640.4L219.9 641.6L218.4 644.6L217.4 645.4Z"/>
<path fill="#0016ff" d="M216.4 635.6L215.6 635.5L214.4 634.5L213.4 633.4L212.2 631.6L210.6 628.4L208.5 622.1L205.9 612.4L202.8 599.4L200.0 589.9L195.3 572.1L194.1 565.6L193.5 559.6L193.3 555.6L193.7 544.9L194.2 537.9L195.5 527.4L197.3 518.6L198.4 514.6L199.3 512.1L200.4 509.9L201.4 508.4L205.6 503.9L208.4 502.0L210.9 500.5L213.1 499.7L215.1 499.5L217.1 499.6L218.6 500.0L220.4 500.8L222.1 502.0L224.1 503.7L226.4 506.1L228.9 510.1L229.9 512.2L231.0 515.4L232.1 520.1L232.7 523.6L233.6 533.4L233.1 545.4L232.1 555.1L228.5 581.6L225.2 602.4L223.5 616.9L221.8 625.9L220.7 629.6L218.9 633.3L217.4 635.0L216.4 635.6Z"/>
<path fill="#0030ff" d="M216.6 631.7L215.9 631.8L215.1 631.5L214.3 630.9L213.6 630.1L212.4 627.9L210.5 622.4L207.9 611.1L205.6 599.6L201.2 585.6L197.3 571.1L196.2 565.6L195.2 555.4L195.5 541.6L196.3 532.4L197.0 527.6L197.8 523.1L198.7 519.1L199.9 515.1L202.2 510.4L203.6 508.6L206.4 505.8L211.4 502.6L213.1 502.1L215.1 501.9L217.1 502.0L218.4 502.3L220.4 503.4L222.1 504.6L225.6 508.1L227.8 511.6L229.6 515.9L230.9 520.6L231.6 524.4L232.4 533.1L232.3 540.9L232.0 545.4L230.5 558.9L228.1 573.9L227.8 576.4L223.0 601.9L221.9 616.1L221.2 620.9L220.3 625.1L219.3 628.6L218.1 630.5L217.4 631.3L216.6 631.7Z"/>
<path fill="#0051ff" d="M215.9 624.7L215.1 623.9L213.9 620.9L210.7 609.1L208.1 598.9L204.1 588.5L200.3 575.6L198.9 570.1L197.9 564.9L196.8 555.6L196.8 550.6L196.8 542.1L197.5 532.6L198.1 528.4L199.0 523.6L199.9 519.6L201.0 515.9L203.3 511.4L205.0 509.4L207.1 507.3L209.6 505.6L211.9 504.4L213.4 503.9L214.9 503.8L216.6 503.9L217.8 504.1L219.6 505.0L221.4 506.1L224.5 509.1L226.6 512.4L228.4 516.3L229.9 521.4L230.5 524.9L231.4 533.4L231.4 540.6L231.1 545.1L230.1 554.6L228.5 565.4L225.4 581.9L223.5 590.4L220.7 601.4L218.7 615.4L217.8 619.9L216.7 623.9L216.4 624.4L215.9 624.7Z"/>
<path fill="#0070ff" d="M215.1 597.7L214.6 597.8L213.9 597.4L211.1 594.4L208.7 590.9L206.9 587.1L203.9 578.4L201.5 569.4L200.6 564.9L199.9 560.4L199.0 552.1L198.6 543.4L199.1 533.1L199.7 528.9L201.3 520.9L202.6 516.8L204.9 512.8L206.4 510.9L207.9 509.5L209.1 508.6L211.6 507.2L213.4 506.6L215.1 506.4L216.4 506.4L217.6 506.8L219.4 507.6L220.6 508.5L223.2 510.9L225.9 514.9L227.2 517.9L228.7 522.9L230.0 532.6L230.1 535.1L229.9 544.1L229.4 550.4L227.2 564.9L224.7 576.6L222.9 583.6L220.5 590.1L218.4 593.9L215.1 597.7Z"/>
<path fill="#00abff" d="M215.1 591.6L214.1 591.7L213.1 591.2L211.4 589.7L210.5 588.6L209.3 586.6L207.9 583.2L205.9 577.4L203.6 568.9L201.8 560.1L200.6 550.6L200.2 543.1L200.5 533.4L201.0 529.1L202.5 521.9L203.7 518.1L205.6 514.5L208.1 511.6L209.9 510.3L211.9 509.2L213.6 508.6L215.1 508.4L216.6 508.6L218.1 509.1L219.4 509.8L221.1 511.2L222.1 512.1L223.6 514.1L225.0 516.4L226.2 519.1L227.6 523.4L228.9 532.9L229.0 535.6L228.9 543.6L228.3 550.4L227.2 558.4L226.1 564.4L223.4 575.9L221.4 582.6L219.5 587.1L218.5 588.9L217.6 589.9L216.4 591.0L215.1 591.6Z"/>
<path fill="#00fff8" d="M215.4 588.7L214.4 588.8L213.4 588.3L212.4 587.6L211.4 586.2L209.3 582.1L207.2 575.9L205.3 568.9L203.3 559.6L201.8 550.1L201.3 542.9L201.5 532.9L202.7 524.9L203.5 521.9L204.5 518.9L206.4 515.4L208.9 512.6L210.4 511.5L212.4 510.5L213.9 510.0L215.1 509.9L216.4 510.1L217.9 510.6L220.6 512.4L222.9 514.9L224.3 517.1L225.5 519.6L226.8 523.4L227.8 529.6L228.3 534.4L228.2 543.4L227.8 547.1L227.7 549.9L226.3 558.9L224.1 569.4L222.2 576.1L219.9 582.6L218.4 585.9L217.4 587.3L216.6 588.1L215.4 588.7Z"/>
<path fill="#00ffd1" d="M215.1 585.9L214.4 585.8L213.5 585.1L211.1 581.3L208.6 575.4L206.8 569.4L205.3 563.1L204.2 557.9L203.0 549.9L202.4 542.1L202.4 534.1L202.7 531.4L203.7 525.1L204.4 522.1L205.4 519.4L207.2 516.1L209.4 513.6L211.1 512.4L212.6 511.7L213.9 511.3L215.1 511.2L217.6 511.8L220.2 513.4L222.3 515.6L224.1 518.6L225.6 522.4L226.2 524.6L227.5 533.4L227.5 536.1L227.5 543.1L226.7 551.6L224.5 563.4L223.2 568.9L221.2 575.4L218.6 581.3L216.4 584.9L215.7 585.6L215.1 585.9Z"/>
<path fill="#00ffa3" d="M215.4 581.1L214.6 581.2L213.9 580.7L211.4 577.2L209.7 573.9L208.0 568.9L206.5 563.1L205.3 557.4L204.1 549.6L203.4 542.4L203.5 534.1L203.8 530.6L204.6 525.4L206.3 520.1L208.0 516.9L210.3 514.4L212.9 512.8L215.1 512.3L217.4 512.8L219.6 514.2L221.5 516.1L223.1 518.6L224.1 520.6L225.3 524.4L226.1 528.6L226.8 534.9L226.7 542.9L226.1 549.4L224.7 557.9L223.5 563.6L221.9 569.6L219.9 574.9L218.4 577.5L216.2 580.4L215.4 581.1Z"/>
<path fill="#00ff69" d="M215.4 577.2L214.9 577.3L214.1 577.0L212.9 576.0L212.1 575.0L210.6 572.4L209.1 568.1L207.7 563.1L206.2 555.9L205.1 549.1L204.5 542.1L204.5 534.4L204.7 531.1L205.5 526.1L206.8 521.6L208.5 518.1L210.6 515.6L211.6 514.8L213.1 513.9L215.1 513.4L216.9 513.7L219.1 515.0L221.0 516.9L222.5 519.1L223.4 521.1L224.7 524.9L225.3 528.4L226.0 534.9L225.9 542.6L225.3 549.1L223.9 557.9L222.6 563.6L220.9 569.4L219.4 572.9L217.9 575.3L216.6 576.4L215.4 577.2Z"/>
<path fill="#00ff23" d="M215.9 573.9L215.1 574.1L214.4 573.9L213.1 572.8L211.9 571.0L210.4 567.1L209.1 562.9L207.5 555.6L206.8 551.6L205.8 542.4L205.9 531.1L206.6 526.6L207.8 522.4L209.3 519.1L211.4 516.7L212.4 515.9L213.6 515.2L215.4 514.8L217.1 515.2L219.1 516.4L220.9 518.4L222.2 520.6L223.5 524.1L223.9 525.9L224.5 528.6L225.1 534.9L225.1 539.6L224.3 548.9L222.6 558.9L221.1 564.6L219.4 569.6L217.6 572.6L216.9 573.4L215.9 573.9Z"/>
<path fill="#26ff00" d="M215.9 571.7L214.9 571.6L213.4 570.1L211.9 566.7L210.6 563.2L208.8 555.9L208.0 551.9L207.2 545.6L206.9 540.4L207.0 531.4L207.7 526.9L208.9 522.9L210.1 520.2L211.6 518.3L213.4 516.9L214.6 516.3L215.6 516.1L217.1 516.6L218.9 517.7L220.4 519.4L221.6 521.6L222.8 525.1L223.5 528.4L224.2 535.1L224.1 539.4L223.4 548.4L221.6 558.4L220.0 564.1L218.4 568.4L217.1 570.6L215.9 571.7Z"/>
<path fill="#70ff00" d="M215.9 567.2L215.4 567.3L214.6 566.7L212.4 563.3L211.5 561.1L210.0 556.4L209.1 551.6L208.3 545.6L207.9 539.9L208.1 531.6L208.7 527.4L209.8 523.6L211.1 521.1L212.3 519.6L213.9 518.5L215.6 517.9L217.1 518.4L218.5 519.4L219.4 520.4L220.6 522.6L221.7 525.6L222.4 528.6L223.1 535.4L223.0 539.1L222.3 548.1L220.6 557.6L218.4 563.6L216.6 566.4L215.9 567.2Z"/>
<path fill="#b0ff00" d="M216.1 562.9L215.6 563.1L215.1 563.0L213.6 561.8L212.6 560.3L211.5 557.6L210.7 554.6L210.1 551.4L209.3 545.1L209.0 540.1L209.2 532.4L209.7 528.4L210.2 526.1L211.1 523.8L212.6 521.5L213.9 520.4L215.4 519.9L216.5 520.1L217.6 520.9L218.9 522.5L219.5 523.6L220.4 526.1L221.1 528.6L221.7 535.1L221.4 544.6L221.1 548.4L220.1 554.4L218.8 558.9L217.4 561.6L216.1 562.9Z"/>
<path fill="#e5ff00" d="M215.6 560.5L214.6 560.3L213.5 559.1L212.6 557.4L211.8 554.6L210.6 547.6L210.0 539.6L210.3 532.9L210.6 530.1L211.3 526.6L212.1 524.6L213.1 523.2L214.2 522.1L215.4 521.8L216.4 522.1L217.6 523.3L218.2 524.1L219.0 526.1L219.6 528.1L220.1 530.6L220.5 535.4L220.3 543.9L220.0 547.1L219.2 552.4L218.8 554.6L217.8 557.9L216.6 559.7L215.6 560.5Z"/>
<path fill="#ffee00" d="M215.6 558.4L214.9 558.4L213.9 557.4L212.6 553.6L211.4 547.6L210.8 539.6L211.1 533.4L211.8 529.1L213.1 525.3L214.1 524.1L215.1 523.6L215.9 523.7L216.8 524.6L218.4 528.1L219.1 531.4L219.5 535.9L219.5 543.1L218.9 548.4L217.6 554.4L216.6 557.1L215.6 558.4Z"/>
<path fill="#ffca00" d="M215.4 554.9L215.1 554.9L214.6 554.6L213.9 553.5L212.6 550.1L212.0 547.6L211.7 544.6L211.4 539.6L211.8 533.9L212.4 530.5L213.6 527.6L214.4 526.5L215.1 526.0L215.9 526.4L216.9 527.8L217.6 529.1L218.2 530.9L218.9 534.6L219.1 539.4L219.0 543.4L218.2 548.6L217.1 552.2L216.1 554.1L215.4 554.9Z"/>
<path fill="#ffa200" d="M215.6 552.0L214.9 552.0L214.1 551.3L212.9 548.6L212.2 544.6L211.9 539.9L212.3 534.4L213.0 531.4L213.9 529.6L214.6 528.9L215.1 528.7L215.9 528.9L216.6 529.6L217.7 531.6L218.4 534.9L218.6 539.4L218.6 542.6L217.9 547.9L216.9 550.7L215.6 552.0Z"/>
<path fill="#ff6800" d="M215.9 550.4L215.1 550.5L214.6 550.3L213.9 549.4L213.4 548.1L212.7 544.6L212.4 540.4L212.6 536.4L213.1 533.4L214.0 531.1L214.6 530.5L215.1 530.3L215.9 530.5L216.4 530.8L217.2 532.1L217.9 535.1L218.2 539.4L218.2 542.1L217.6 547.1L216.8 549.4L215.9 550.4Z"/>
</g>
<g id="p6">
<path fill="#0006ff" d="M465.6 580.4L462.9 580.4L460.6 579.1L459.8 578.1L458.1 576.6L456.8 574.9L455.1 573.1L453.1 570.1L452.3 568.4L451.6 567.4L450.9 565.9L450.8 565.4L449.9 563.6L449.8 563.1L448.6 560.9L448.6 560.4L447.6 558.6L447.6 558.1L446.4 555.9L446.3 555.4L445.4 553.6L445.3 552.9L445.1 552.6L444.6 550.6L443.9 549.4L443.3 546.9L442.9 545.9L442.8 544.4L442.1 542.4L442.1 540.9L441.6 539.6L441.1 534.6L440.9 534.4L440.8 531.9L440.6 531.6L440.6 524.4L440.8 524.1L440.9 521.9L441.1 521.6L441.1 519.9L441.3 519.6L441.6 516.4L442.1 515.4L442.1 514.6L442.6 513.6L442.6 512.9L443.1 511.9L443.3 510.4L444.3 508.4L444.6 507.1L445.3 506.1L446.1 504.4L448.4 501.4L449.3 500.6L450.1 499.6L451.1 499.1L452.4 497.9L456.6 495.6L458.1 495.3L459.1 494.9L459.9 494.8L460.9 494.4L462.6 494.3L462.9 494.1L464.4 494.1L464.6 493.9L469.9 493.9L470.1 494.1L471.6 494.1L472.9 494.6L474.4 494.6L476.1 495.6L476.9 495.6L477.9 496.1L478.4 496.6L480.1 497.4L482.1 499.1L483.1 499.6L486.1 502.9L488.1 505.9L489.6 508.9L490.4 511.1L490.4 511.9L490.9 512.9L491.2 517.1L491.4 517.4L491.4 522.6L491.2 522.9L491.1 525.4L490.9 525.6L490.6 528.9L490.2 529.9L490.1 531.4L489.4 533.4L489.4 534.1L488.9 535.6L488.2 536.9L487.9 538.4L487.2 539.6L486.4 542.6L485.7 543.9L485.4 545.1L485.2 545.4L485.1 546.1L484.2 547.9L483.6 550.4L482.9 551.6L482.4 553.6L482.2 553.9L482.1 554.6L481.4 555.9L480.6 558.6L479.9 559.9L479.9 560.6L478.9 562.4L478.9 563.1L477.9 564.9L477.9 565.4L476.9 567.4L476.4 567.9L475.6 569.9L472.1 575.1L469.1 578.4L467.6 579.4L465.6 580.4Z"/>
<path fill="#0016ff" d="M465.1 576.7L463.6 576.6L461.1 575.3L459.6 573.9L457.1 571.0L454.0 565.9L451.6 560.1L448.2 552.9L445.8 546.4L444.0 538.9L443.0 531.1L442.9 525.6L443.4 520.4L443.9 517.3L444.4 515.5L445.7 511.1L446.7 508.9L448.2 506.1L449.4 504.5L451.9 502.0L453.4 500.7L455.1 499.6L457.4 498.5L461.6 497.2L465.4 496.7L467.9 496.7L472.9 497.4L476.2 498.6L479.4 500.5L481.6 502.4L483.6 504.5L485.9 507.7L487.6 511.6L488.3 513.6L488.6 515.6L489.1 519.1L489.1 521.4L488.8 526.4L487.6 532.9L486.3 537.4L483.4 545.5L479.0 556.4L473.7 568.1L472.0 570.9L470.1 573.3L468.9 574.5L467.1 575.8L465.1 576.7Z"/>
<path fill="#0030ff" d="M465.1 574.2L463.9 574.1L461.9 573.2L459.6 571.0L458.4 569.4L455.9 565.1L453.5 559.1L450.1 552.2L448.7 548.9L446.3 541.4L445.2 535.9L444.6 531.1L444.6 524.1L445.5 517.6L447.1 512.4L448.4 509.4L450.6 506.0L453.9 502.8L455.9 501.5L457.6 500.6L461.4 499.2L465.1 498.7L467.6 498.7L472.1 499.3L475.6 500.7L477.6 501.8L479.1 502.9L480.8 504.4L482.7 506.6L484.1 508.6L485.3 510.9L486.6 514.6L487.4 519.6L487.3 524.9L486.5 531.6L485.2 536.4L482.1 545.1L479.9 550.6L471.7 568.1L469.9 570.8L468.4 572.4L466.9 573.5L465.1 574.2Z"/>
<path fill="#0051ff" d="M464.9 571.4L463.4 571.1L461.9 569.9L460.4 568.2L458.4 565.2L457.6 563.9L455.2 558.1L451.6 551.4L450.1 548.1L447.7 540.6L446.6 535.6L446.0 530.9L446.0 524.1L446.8 518.1L447.9 514.8L449.4 510.8L451.6 507.3L454.9 504.1L457.9 502.3L461.8 500.9L465.4 500.4L467.1 500.3L471.4 500.9L474.6 502.1L476.6 503.2L478.1 504.4L479.6 505.6L481.4 507.7L482.6 509.4L483.8 511.6L485.1 515.1L486.0 520.1L486.0 524.9L485.2 531.4L484.1 536.1L481.1 544.6L478.9 549.9L476.4 554.9L473.0 560.9L470.1 566.8L467.4 570.2L466.4 570.9L464.9 571.4Z"/>
<path fill="#0070ff" d="M465.4 563.4L464.6 563.6L463.9 563.2L461.9 561.6L460.4 559.9L455.6 553.2L452.2 547.1L449.9 540.4L448.6 535.1L447.9 530.1L447.9 524.6L448.4 520.4L449.6 515.6L451.2 511.9L453.3 508.9L455.9 506.3L458.9 504.4L462.6 503.2L466.6 502.8L470.4 503.3L473.6 504.4L476.7 506.4L479.6 509.4L481.6 512.6L483.0 515.9L484.0 520.4L484.1 524.6L483.7 530.1L482.6 535.6L479.8 543.9L477.5 548.9L474.7 553.6L471.6 557.6L467.9 561.4L465.4 563.4Z"/>
<path fill="#00abff" d="M465.6 558.1L464.6 558.3L463.6 558.0L461.4 556.3L459.6 554.7L457.2 551.6L454.0 546.4L451.8 540.6L450.1 534.6L449.5 529.9L449.5 524.4L449.8 521.1L451.1 516.1L452.6 512.8L454.6 510.1L456.9 507.9L459.7 506.1L463.4 504.9L466.9 504.7L469.6 505.1L472.9 506.3L475.7 508.1L478.6 511.1L480.0 513.6L481.3 516.6L482.3 520.4L482.5 524.9L482.3 529.9L481.3 535.4L478.7 543.1L476.4 547.9L473.6 552.2L470.9 555.2L468.4 557.0L465.6 558.1Z"/>
<path fill="#00fff8" d="M467.4 555.1L464.6 555.3L461.9 554.0L460.4 552.8L458.8 551.1L456.0 547.1L454.5 544.1L452.4 538.4L451.2 533.9L450.6 529.4L450.6 523.9L450.8 522.1L452.0 516.9L453.5 513.6L455.9 510.6L458.4 508.5L460.6 507.2L464.4 506.2L467.9 506.2L471.1 507.0L474.1 508.8L476.1 510.5L477.8 512.4L479.8 516.1L481.0 519.9L481.4 523.4L481.4 528.9L481.0 532.6L480.4 535.1L479.3 538.9L477.7 543.1L475.4 547.6L472.9 551.1L469.9 554.0L467.4 555.1Z"/>
<path fill="#00ffd1" d="M467.1 553.4L465.9 553.5L464.9 553.4L462.9 552.6L461.6 551.8L459.6 549.9L456.7 545.9L455.5 543.4L453.3 537.6L452.2 533.6L451.5 528.9L451.5 523.9L451.7 522.1L452.9 517.1L454.3 514.1L456.7 511.1L459.1 509.2L461.4 508.0L464.9 507.1L467.9 507.2L471.1 508.1L474.1 510.0L476.0 511.9L477.3 513.6L479.0 516.9L480.1 520.4L480.5 523.9L480.5 528.9L480.1 532.4L478.5 538.4L477.0 542.4L474.6 546.9L472.1 550.1L470.9 551.4L469.4 552.5L467.1 553.4Z"/>
<path fill="#00ffa3" d="M466.9 551.6L465.9 551.7L464.6 551.4L463.4 550.9L461.9 550.0L460.1 548.3L457.4 544.6L455.3 540.1L454.1 536.9L453.1 533.1L452.4 527.6L452.4 523.6L453.1 519.9L453.9 516.9L455.2 514.4L457.4 511.6L459.6 509.8L461.9 508.7L465.1 507.9L467.9 508.0L470.9 508.9L473.4 510.5L475.4 512.4L476.8 514.4L478.2 517.4L479.2 520.6L479.6 523.9L479.6 528.4L479.1 532.1L477.5 538.1L476.0 541.9L473.6 546.1L471.1 549.1L469.1 550.7L466.9 551.6Z"/>
<path fill="#00ff69" d="M466.6 549.9L465.6 549.9L464.6 549.6L462.4 548.5L460.4 546.5L458.9 544.7L457.9 543.2L456.0 539.1L454.2 533.6L453.4 529.4L453.3 527.1L453.3 523.4L453.9 519.9L454.7 517.1L455.9 514.6L457.9 512.1L460.1 510.3L462.4 509.2L465.4 508.6L467.9 508.7L470.6 509.6L473.0 511.1L474.9 512.9L476.2 514.9L477.5 517.6L478.4 520.6L478.7 524.1L478.7 528.1L478.2 531.9L476.7 537.6L475.1 541.4L472.6 545.5L470.6 547.7L468.9 549.0L466.6 549.9Z"/>
<path fill="#00ff23" d="M466.9 547.6L465.1 547.6L463.1 546.8L461.9 545.8L460.6 544.5L458.9 542.1L457.2 538.9L456.0 535.9L455.0 531.9L454.3 526.9L454.4 522.9L454.8 520.1L455.6 517.4L456.7 515.1L458.4 512.9L460.1 511.3L462.4 510.1L465.4 509.5L467.6 509.6L470.1 510.3L472.4 511.7L474.1 513.4L475.6 515.6L476.5 517.9L477.3 520.6L477.7 523.6L477.7 527.9L477.2 531.1L475.6 536.9L474.4 539.9L472.6 542.9L470.9 545.2L468.9 546.9L466.9 547.6Z"/>
<path fill="#26ff00" d="M467.1 545.7L465.1 545.7L463.1 544.8L461.2 543.1L459.6 541.0L458.2 538.4L457.0 535.4L455.8 531.1L455.3 526.6L455.3 522.9L455.7 520.4L456.6 517.5L457.6 515.5L459.1 513.4L460.6 512.1L462.9 510.8L465.6 510.3L467.6 510.4L469.9 511.1L471.9 512.3L473.4 513.8L474.8 515.9L475.5 517.6L476.3 520.4L476.8 523.4L476.7 527.4L476.4 530.1L474.4 536.9L472.9 540.2L471.1 542.7L469.1 544.7L468.1 545.3L467.1 545.7Z"/>
<path fill="#70ff00" d="M467.1 543.9L465.4 544.1L463.6 543.4L461.9 542.0L460.1 539.8L458.3 536.1L457.4 533.6L456.7 530.6L456.2 526.4L456.3 523.1L456.6 520.9L457.6 517.9L458.6 515.9L460.1 513.9L461.6 512.6L463.4 511.7L465.9 511.2L467.9 511.4L469.5 511.9L471.4 513.1L472.7 514.4L474.0 516.4L474.9 518.6L475.5 520.6L475.8 523.6L475.8 527.1L475.4 529.9L473.4 536.4L472.1 539.1L470.4 541.4L468.6 543.2L467.1 543.9Z"/>
<path fill="#b0ff00" d="M466.1 542.4L464.4 542.0L462.6 541.0L461.4 539.7L460.0 537.6L458.9 535.1L458.1 532.4L457.7 530.1L457.3 526.1L457.4 523.1L457.8 521.1L458.6 518.5L459.7 516.4L461.1 514.5L462.9 513.2L464.4 512.5L466.4 512.3L468.1 512.5L469.4 512.9L470.9 513.9L472.1 515.1L473.2 516.9L474.2 519.6L474.6 521.1L474.9 524.4L474.7 527.4L474.2 530.4L473.1 533.9L471.7 537.1L470.6 538.9L468.9 540.9L467.4 542.0L466.1 542.4Z"/>
<path fill="#e5ff00" d="M466.1 540.6L464.6 540.5L462.9 539.6L461.7 538.4L460.6 536.7L459.8 534.9L459.0 532.1L458.3 526.4L458.5 523.4L458.9 521.4L459.7 518.9L460.8 516.9L462.0 515.4L463.6 514.1L465.1 513.5L466.6 513.3L467.9 513.4L469.1 513.9L470.6 514.9L471.5 515.9L472.4 517.4L473.4 520.1L473.9 524.4L473.6 527.4L473.2 529.9L472.4 532.6L471.3 535.1L470.3 537.1L469.1 538.6L467.4 540.1L466.1 540.6Z"/>
<path fill="#ffee00" d="M466.1 539.2L464.9 539.2L463.4 538.6L462.2 537.6L461.1 535.9L460.3 534.1L459.7 531.9L459.1 526.6L459.4 523.6L459.8 521.9L460.5 519.6L461.5 517.6L462.7 516.1L464.1 514.9L465.4 514.4L466.9 514.2L468.1 514.4L469.2 514.9L470.4 515.9L471.3 517.1L472.7 520.6L473.0 524.4L472.4 529.1L471.2 533.1L469.3 536.6L467.6 538.3L466.1 539.2Z"/>
<path fill="#ffca00" d="M465.6 538.2L464.6 538.1L463.4 537.6L462.4 536.6L461.4 535.1L460.2 531.6L459.8 526.4L460.1 523.9L460.5 522.1L461.2 519.9L462.1 518.1L463.4 516.6L464.6 515.6L465.9 515.1L467.1 515.1L468.1 515.3L469.1 515.8L470.0 516.6L470.7 517.6L472.0 520.9L472.3 524.4L471.8 528.6L471.0 531.4L470.4 532.9L468.6 536.0L467.1 537.4L465.6 538.2Z"/>
<path fill="#ffa200" d="M465.9 537.0L464.9 537.1L463.6 536.6L462.6 535.7L461.9 534.6L460.7 531.4L460.4 526.4L460.7 523.9L461.1 522.4L461.7 520.4L462.6 518.7L463.5 517.6L464.9 516.4L465.9 516.0L466.9 515.9L467.9 516.1L468.6 516.5L469.4 517.1L470.1 518.1L471.3 521.1L471.6 524.6L471.2 528.1L470.0 532.1L468.1 535.3L466.9 536.4L465.9 537.0Z"/>
<path fill="#ff7600" d="M465.9 535.9L464.9 536.1L463.9 535.8L462.9 534.9L462.1 533.8L461.2 530.9L461.0 526.4L461.6 523.1L462.2 521.1L463.0 519.6L463.8 518.4L465.0 517.4L465.9 516.9L466.9 516.8L467.9 517.0L468.6 517.5L469.8 519.1L470.6 521.6L470.8 523.6L470.8 525.4L470.4 528.1L469.4 531.6L467.6 534.6L465.9 535.9Z"/>
<path fill="#ff4200" d="M465.6 534.9L464.6 535.1L463.9 534.8L463.1 534.1L462.4 532.9L461.8 530.4L461.7 526.4L462.1 523.8L462.8 521.6L463.4 520.4L464.3 519.1L465.0 518.4L465.9 517.8L466.9 517.7L467.6 517.9L468.3 518.4L469.2 519.9L470.0 522.9L470.1 525.4L469.7 528.1L468.6 531.4L467.1 533.9L465.6 534.9Z"/>
<path fill="#ff0000" d="M465.6 533.4L464.9 533.6L464.4 533.5L463.4 532.1L462.9 529.9L462.9 526.6L463.3 524.1L464.4 521.3L465.6 519.6L466.4 519.1L466.9 519.1L467.7 519.6L468.4 521.1L468.9 523.6L468.9 525.1L468.5 527.6L467.7 530.4L466.6 532.4L465.6 533.4Z"/>
</g>
<g id="p7">
<path fill="#0006ff" d="M738.6 585.1L737.1 585.1L735.6 584.4L732.6 581.1L732.1 580.1L730.4 578.4L728.8 576.1L726.9 573.9L724.9 570.9L724.6 570.1L723.1 568.1L722.3 566.4L720.9 564.4L720.1 562.6L718.9 561.1L715.4 554.4L714.6 551.6L713.9 550.4L713.6 549.6L713.6 548.4L712.4 544.9L712.1 541.6L711.8 541.4L711.8 540.1L711.6 539.9L711.6 536.6L711.3 536.1L711.3 531.6L711.6 531.1L711.6 528.1L711.8 527.9L712.1 524.6L712.5 523.6L712.6 522.1L714.3 517.1L714.4 516.4L715.3 514.6L715.6 513.6L717.4 510.1L718.4 508.6L721.9 505.1L723.4 504.1L726.1 502.9L727.4 502.8L728.4 502.4L729.9 502.3L730.1 502.1L735.9 502.1L736.1 502.3L737.6 502.4L737.9 502.6L739.4 502.6L740.1 502.9L743.4 504.4L744.9 505.4L747.9 508.1L750.9 512.4L751.7 514.1L752.1 514.6L752.6 515.6L752.7 516.1L753.6 517.9L753.9 519.4L754.9 521.1L755.4 522.6L755.4 523.4L755.9 524.4L756.0 525.9L756.4 526.9L756.5 528.4L756.9 529.4L756.9 531.6L757.2 531.9L757.2 533.4L757.4 533.6L757.4 544.4L757.2 544.6L757.1 546.9L756.9 547.1L756.7 550.1L756.4 550.4L756.4 551.9L755.9 552.9L755.9 554.4L755.4 555.4L755.4 556.9L754.9 557.9L754.9 558.6L754.2 560.4L754.1 561.1L753.2 563.6L753.1 564.4L751.9 568.1L749.1 573.9L748.7 574.4L747.9 576.1L746.9 577.4L746.4 578.6L742.6 582.6L738.6 585.1Z"/>
<path fill="#0016ff" d="M738.4 581.1L737.1 581.0L735.6 580.1L734.4 579.0L731.9 576.3L729.3 572.6L719.7 557.6L717.7 553.9L715.9 549.1L714.5 544.4L713.6 538.6L713.3 532.6L713.5 529.4L714.0 525.6L714.6 522.6L715.4 520.1L716.4 517.1L717.4 515.1L719.7 511.1L721.0 509.6L723.1 507.7L725.9 506.1L728.4 505.4L730.6 505.0L735.4 505.0L739.6 505.7L742.9 507.4L746.4 510.4L748.7 513.4L750.2 515.9L752.9 521.9L754.4 527.4L755.3 532.6L755.6 536.4L755.4 544.1L754.3 551.1L752.4 558.1L748.6 568.9L747.2 571.9L745.5 574.9L744.0 577.1L741.9 579.2L740.4 580.3L738.4 581.1Z"/>
<path fill="#0030ff" d="M738.1 578.7L737.1 578.5L735.6 577.7L733.1 575.1L731.1 572.1L727.2 565.6L723.6 560.4L720.6 555.6L718.1 550.6L716.3 545.1L715.5 541.9L714.8 537.4L714.8 530.1L715.3 525.9L716.0 522.9L718.4 516.5L720.9 512.5L723.9 509.6L726.6 507.9L730.6 507.0L735.4 506.9L738.9 507.6L741.6 508.8L744.9 511.4L747.1 514.1L748.8 516.6L751.5 522.4L753.1 527.6L753.9 532.6L754.2 536.9L754.2 540.6L753.9 544.1L753.1 549.4L751.9 554.4L751.2 556.6L748.0 564.6L746.6 568.6L744.1 573.5L742.9 575.4L741.2 577.1L739.6 578.2L738.1 578.7Z"/>
<path fill="#0051ff" d="M737.9 575.9L737.1 575.7L736.4 575.3L734.5 573.4L728.7 564.6L724.9 559.5L721.6 554.6L719.4 550.1L717.5 544.6L716.7 541.4L716.0 536.9L715.9 530.4L716.5 526.1L717.1 523.3L719.4 517.4L721.9 513.6L724.6 511.1L727.1 509.5L730.9 508.6L735.1 508.6L738.9 509.4L740.9 510.3L743.4 512.1L745.4 514.3L747.8 517.6L750.5 523.1L751.9 527.9L752.8 532.9L753.1 539.1L752.8 543.9L752.0 548.6L750.4 554.4L746.0 564.6L745.1 567.2L743.4 570.6L741.4 573.6L740.6 574.4L739.4 575.4L737.9 575.9Z"/>
<path fill="#0070ff" d="M738.4 567.7L737.6 567.8L736.1 566.9L730.4 562.0L726.9 558.3L723.6 553.9L721.3 549.6L719.8 545.9L718.9 543.1L717.7 536.9L717.5 530.9L718.0 526.4L718.6 523.9L720.6 519.0L722.9 515.6L725.1 513.5L727.9 511.8L730.9 511.0L734.4 510.9L737.9 511.6L739.6 512.4L741.6 513.6L743.9 515.7L746.9 519.9L748.8 523.6L750.3 528.1L751.1 532.6L751.4 537.6L751.1 543.4L750.2 548.1L748.7 553.4L747.7 555.6L746.1 558.5L743.4 562.5L741.4 565.1L738.4 567.7Z"/>
<path fill="#00abff" d="M738.1 562.7L737.1 562.7L735.6 562.2L733.1 561.1L731.6 560.1L728.6 557.5L725.1 553.1L723.0 549.6L721.2 545.6L720.1 542.1L719.1 537.1L718.8 531.6L719.1 528.1L719.6 525.1L721.2 521.1L722.6 518.6L724.9 516.0L726.4 514.8L728.1 513.8L730.6 512.9L733.9 512.7L737.1 513.4L738.6 514.0L740.6 515.1L742.9 517.1L745.8 520.9L747.5 524.1L748.8 527.9L749.7 532.1L750.1 537.4L750.0 540.4L749.8 543.4L748.5 549.1L747.2 552.6L745.9 555.4L743.9 558.2L741.1 561.0L738.1 562.7Z"/>
<path fill="#00fff8" d="M737.4 559.9L735.9 559.8L733.9 559.2L730.9 557.5L728.6 555.5L725.9 552.1L723.9 548.9L722.0 544.9L721.0 541.9L720.0 536.9L719.7 533.9L719.7 530.6L720.3 525.9L721.7 522.1L723.2 519.6L724.9 517.6L727.6 515.6L729.4 514.7L730.9 514.3L733.6 514.1L736.6 514.7L739.9 516.2L742.1 518.0L744.9 521.4L746.6 524.4L747.8 527.6L748.8 532.4L749.1 535.6L749.1 540.9L748.5 544.6L747.5 548.6L746.8 550.6L745.4 553.6L743.1 556.8L740.1 559.1L738.6 559.7L737.4 559.9Z"/>
<path fill="#00ffd1" d="M738.4 557.9L737.1 558.1L735.9 558.0L734.1 557.6L732.9 557.0L730.7 555.6L727.0 551.6L725.0 548.6L723.0 544.6L721.9 541.4L720.9 536.6L720.5 533.6L720.6 530.9L721.2 526.1L722.4 522.9L723.9 520.4L725.6 518.4L727.9 516.7L730.9 515.4L733.6 515.2L736.4 515.8L739.6 517.3L741.6 518.9L744.1 521.9L745.7 524.6L747.0 527.9L748.0 532.4L748.3 535.6L748.3 540.4L747.9 543.4L746.5 548.6L744.8 552.4L743.0 554.9L742.1 555.9L740.1 557.2L738.4 557.9Z"/>
<path fill="#00ffa3" d="M737.6 556.4L736.4 556.4L734.9 556.1L732.4 555.0L729.9 553.0L727.6 550.5L725.9 547.9L724.0 544.4L722.7 540.9L721.8 536.4L721.4 533.4L721.5 530.9L722.1 526.4L723.3 523.1L724.7 520.9L726.4 519.0L728.6 517.4L730.1 516.7L731.4 516.4L734.1 516.3L736.6 516.9L739.2 518.1L741.1 519.6L743.4 522.2L745.1 525.1L746.3 528.4L747.3 532.6L747.6 535.9L747.5 540.4L747.1 543.4L745.6 548.4L743.7 551.9L742.1 553.9L741.1 554.8L739.4 555.8L737.6 556.4Z"/>
<path fill="#00ff69" d="M738.1 554.7L737.1 554.8L735.9 554.7L733.1 553.7L730.6 551.9L728.6 549.8L726.8 547.4L724.9 543.9L723.6 540.4L722.6 536.1L722.3 532.9L722.4 530.4L722.9 526.6L724.0 523.6L725.4 521.5L727.1 519.7L729.4 518.1L731.6 517.3L734.1 517.3L736.4 517.7L739.1 519.0L741.0 520.6L742.7 522.6L744.6 525.6L745.7 528.6L746.6 532.6L746.9 535.9L746.8 540.1L746.3 543.4L744.9 547.6L743.6 550.0L741.6 552.6L740.4 553.6L738.1 554.7Z"/>
<path fill="#00ff23" d="M737.9 552.7L736.1 552.8L733.4 551.8L731.1 550.2L728.6 547.5L726.6 544.5L725.8 542.9L724.4 539.4L723.6 535.9L723.3 532.6L723.4 530.6L724.0 526.9L724.9 524.4L726.1 522.4L727.8 520.6L729.9 519.2L731.9 518.5L734.4 518.5L736.1 518.8L738.6 520.0L740.4 521.4L741.9 523.0L743.7 525.9L744.8 528.6L745.7 532.1L746.0 535.1L746.0 539.9L745.3 543.1L744.1 546.6L742.9 548.8L740.9 551.1L739.9 551.9L737.9 552.7Z"/>
<path fill="#26ff00" d="M737.6 550.9L736.1 550.9L733.6 550.1L731.9 548.9L729.3 546.4L727.3 543.4L725.8 540.1L725.1 538.4L724.5 535.4L724.2 532.4L724.3 530.6L724.9 527.2L725.8 524.9L727.1 522.9L728.4 521.5L730.1 520.3L732.1 519.6L734.4 519.5L735.9 519.8L738.4 520.9L740.1 522.3L742.3 525.1L743.1 526.5L744.2 529.1L745.0 532.1L745.2 534.1L745.2 539.4L744.6 542.4L744.1 543.9L743.0 546.6L741.6 548.4L739.6 550.2L737.6 550.9Z"/>
<path fill="#70ff00" d="M737.6 549.2L736.1 549.2L734.1 548.6L731.9 547.2L730.1 545.6L728.1 542.8L726.7 539.9L726.0 538.1L725.4 535.1L725.1 530.9L725.7 527.6L726.5 525.6L727.8 523.6L729.0 522.4L730.6 521.3L732.6 520.7L734.5 520.6L736.1 521.1L738.1 522.0L740.1 523.6L741.6 525.6L742.8 527.9L743.7 530.4L744.4 533.4L744.4 539.4L743.8 541.9L743.2 543.6L742.1 545.9L740.9 547.3L739.1 548.6L737.6 549.2Z"/>
<path fill="#b0ff00" d="M737.6 547.4L735.9 547.4L734.1 546.9L732.4 545.9L730.6 544.3L728.9 542.0L727.7 539.9L726.9 537.9L726.3 535.1L726.0 531.1L726.6 528.1L727.1 526.6L728.2 524.9L729.5 523.4L731.1 522.4L732.6 521.9L734.4 521.8L736.1 522.3L737.6 523.0L739.3 524.4L740.9 526.3L741.9 528.1L742.9 530.5L743.6 533.4L743.8 535.1L743.6 538.9L743.2 540.6L742.5 542.6L741.6 544.3L740.4 545.8L739.1 546.8L737.6 547.4Z"/>
<path fill="#e5ff00" d="M737.6 545.7L736.1 545.8L734.4 545.4L732.9 544.6L731.1 543.1L729.5 541.1L728.7 539.9L727.3 535.6L727.0 533.9L726.9 531.4L727.3 529.1L727.8 527.4L728.9 525.7L730.1 524.3L731.4 523.5L732.6 523.1L734.1 523.0L736.1 523.5L737.4 524.2L738.9 525.4L740.1 526.9L741.3 528.9L742.1 530.9L742.8 533.4L743.0 534.9L742.9 537.4L742.7 539.4L742.3 540.6L741.4 542.6L740.6 543.7L739.1 545.0L737.6 545.7Z"/>
<path fill="#ffee00" d="M736.9 544.4L735.4 544.4L734.1 544.0L732.6 543.1L731.4 542.0L730.0 540.4L729.3 539.1L727.9 535.1L727.7 533.4L727.7 531.4L728.5 527.9L729.4 526.4L730.6 525.1L731.6 524.4L732.9 524.1L734.1 524.0L735.9 524.4L737.6 525.5L738.9 526.6L740.1 528.4L741.1 530.4L742.1 533.9L742.3 537.1L741.9 539.1L741.5 540.4L740.4 542.4L739.9 543.0L738.4 544.0L736.9 544.4Z"/>
<path fill="#ffca00" d="M737.4 543.4L736.1 543.5L734.9 543.3L733.6 542.7L732.1 541.6L730.1 539.1L728.6 535.4L728.3 533.6L728.3 531.6L729.0 528.4L729.5 527.4L730.4 526.2L731.4 525.4L732.4 524.9L733.6 524.8L735.1 525.0L736.1 525.4L737.6 526.4L738.6 527.5L739.8 529.1L740.6 530.9L741.1 532.4L741.6 534.4L741.7 535.9L741.6 537.4L741.1 539.5L739.6 542.1L738.4 543.0L737.4 543.4Z"/>
<path fill="#ffa200" d="M737.6 542.4L736.4 542.6L735.1 542.5L733.9 541.9L732.9 541.3L730.8 538.9L729.3 535.6L728.9 532.6L729.0 530.9L729.3 529.1L729.7 528.1L730.4 527.1L731.4 526.2L732.4 525.7L733.6 525.5L734.8 525.6L737.0 526.9L738.0 527.9L739.1 529.4L740.4 532.2L741.0 535.1L741.0 536.9L740.6 538.7L740.2 539.9L739.3 541.1L738.6 541.9L737.6 542.4Z"/>
<path fill="#ff7600" d="M737.1 541.7L735.9 541.7L734.9 541.5L732.9 540.3L731.1 538.1L729.8 535.1L729.5 532.4L729.6 530.6L729.9 529.4L730.9 527.5L731.6 526.8L732.6 526.3L733.6 526.2L734.6 526.3L735.8 526.9L736.8 527.6L738.6 529.9L739.9 532.9L740.3 535.9L739.9 538.6L739.5 539.6L738.6 540.7L737.9 541.3L737.1 541.7Z"/>
<path fill="#ff4200" d="M737.1 540.7L736.1 540.9L735.1 540.7L733.3 539.6L731.6 537.4L730.6 535.1L730.2 532.9L730.4 530.1L731.1 528.3L731.8 527.6L732.7 527.1L733.6 527.0L734.4 527.1L736.2 528.1L738.0 530.4L739.1 532.9L739.6 535.4L739.4 537.6L738.6 539.5L737.9 540.3L737.1 540.7Z"/>
<path fill="#ff0000" d="M736.6 539.4L735.4 539.3L734.0 538.4L732.6 536.5L731.8 534.6L731.4 532.6L731.6 530.6L732.2 529.1L733.1 528.4L734.4 528.5L735.6 529.4L736.9 531.1L737.9 533.4L738.3 535.4L738.2 536.9L737.6 538.5L736.6 539.4Z"/>
</g>
<g id="p8">
<path fill="#0006ff" d="M1004.4 646.9L1003.4 646.9L1003.1 646.7L1002.4 646.6L1000.6 645.6L999.1 644.4L998.4 644.1L995.9 641.6L993.9 638.9L992.1 635.6L991.1 633.4L990.8 631.6L989.9 629.6L989.6 627.6L989.4 627.4L989.3 626.6L988.9 625.9L988.6 623.9L988.4 623.6L988.3 622.6L988.1 622.4L988.1 621.1L987.9 620.9L987.8 619.9L987.6 619.6L987.6 617.4L987.4 617.1L987.3 616.1L987.1 615.9L987.1 613.6L986.9 613.4L986.8 612.4L986.6 612.1L986.3 607.4L986.1 607.1L986.1 604.6L985.9 604.4L985.8 602.1L985.6 601.9L985.6 599.6L985.4 599.4L985.3 596.9L985.1 596.6L985.1 595.6L984.9 595.4L984.6 590.4L984.3 590.1L984.3 587.9L984.1 587.6L984.0 585.4L983.8 585.1L983.8 582.6L983.6 582.4L983.5 580.1L983.3 579.9L983.3 576.1L983.1 575.9L982.8 568.4L982.6 568.1L982.5 561.9L982.3 561.6L982.3 560.9L982.3 551.9L982.5 551.4L982.6 546.6L982.8 546.4L983.1 541.4L983.3 541.1L983.4 540.1L983.6 539.9L983.6 537.4L983.8 537.1L984.1 534.6L984.8 532.6L985.1 530.9L986.1 528.9L986.1 528.4L987.4 526.1L989.6 524.1L991.9 523.1L993.6 522.8L993.9 522.6L995.1 522.6L995.4 522.4L997.9 522.3L998.1 522.1L1001.9 522.1L1002.1 521.9L1003.4 521.8L1003.6 521.6L1004.6 521.6L1004.9 521.4L1006.9 521.1L1009.6 519.6L1010.6 519.3L1012.1 518.4L1013.4 518.1L1014.1 517.6L1015.9 517.3L1016.9 516.9L1018.9 516.8L1019.4 516.6L1022.9 516.6L1023.1 516.8L1025.6 517.1L1027.9 517.9L1029.4 518.6L1030.1 519.3L1030.9 519.6L1032.6 520.9L1034.4 522.6L1035.9 524.6L1037.9 528.6L1038.2 530.6L1038.4 530.9L1038.4 531.9L1038.6 532.1L1038.9 536.9L1038.9 540.9L1038.7 541.1L1038.7 543.6L1038.5 543.9L1038.4 547.6L1038.2 547.9L1038.2 548.9L1038.0 549.1L1037.9 551.4L1037.7 551.6L1037.4 554.1L1037.2 554.4L1037.2 556.6L1036.9 556.9L1036.9 557.9L1036.7 558.1L1036.7 559.1L1036.4 559.4L1036.4 560.4L1036.2 560.6L1036.2 561.6L1035.9 561.9L1035.9 562.9L1035.7 563.1L1035.6 564.4L1035.4 564.6L1035.4 565.6L1035.2 565.9L1034.6 569.4L1033.7 572.1L1033.6 573.1L1033.4 573.4L1033.4 574.4L1033.2 574.6L1032.9 576.6L1032.4 577.4L1031.9 580.4L1031.4 581.1L1031.1 583.1L1030.9 583.4L1030.9 584.1L1030.4 584.9L1029.9 587.9L1029.4 588.6L1028.9 591.6L1028.4 592.4L1028.1 594.1L1027.7 594.9L1027.1 597.9L1026.7 598.6L1026.4 600.4L1025.9 601.1L1025.6 602.9L1025.2 603.6L1024.9 605.4L1024.4 606.1L1024.1 607.9L1023.7 608.6L1023.6 609.4L1023.4 609.6L1023.4 610.4L1022.9 611.1L1022.6 612.9L1021.7 614.9L1021.6 615.6L1020.9 617.1L1020.9 617.6L1020.4 618.4L1020.1 620.1L1019.2 622.1L1018.9 623.9L1017.4 626.9L1017.1 628.6L1016.2 630.6L1016.1 631.1L1015.2 632.9L1015.1 633.4L1014.1 635.4L1013.7 635.9L1012.1 639.1L1011.2 640.4L1010.9 641.1L1009.2 642.9L1008.4 644.1L1006.6 645.9L1004.4 646.9Z"/>
<path fill="#0016ff" d="M1003.6 639.9L1001.9 639.4L999.9 638.3L997.9 636.6L996.1 634.5L994.6 632.0L993.0 628.4L991.8 624.6L991.3 622.4L990.1 615.9L988.8 604.1L986.1 588.9L984.8 578.4L984.0 567.1L983.8 557.4L984.0 553.1L984.9 544.9L986.4 537.6L987.5 534.4L988.6 532.3L990.4 529.8L991.2 528.9L992.4 528.0L994.1 527.1L996.1 526.5L1003.1 524.7L1007.9 523.3L1012.9 521.1L1016.4 519.9L1017.9 519.6L1020.9 519.3L1023.9 519.6L1027.6 520.8L1031.4 523.2L1032.5 524.4L1034.3 526.6L1035.6 529.4L1036.8 533.4L1037.3 539.4L1036.9 546.9L1036.3 551.1L1035.4 556.1L1033.2 565.4L1028.4 582.6L1024.3 595.9L1020.0 607.6L1015.9 622.1L1013.9 627.6L1011.6 632.4L1008.6 636.6L1006.6 638.4L1004.6 639.6L1003.6 639.9Z"/>
<path fill="#0030ff" d="M1004.4 635.4L1002.9 635.6L1001.4 635.1L999.4 633.8L997.9 632.2L996.2 629.6L995.1 627.4L994.0 624.6L993.4 622.1L992.2 616.1L990.8 603.4L987.2 587.4L985.8 577.6L985.0 567.1L984.9 557.1L985.6 549.4L986.1 546.1L987.4 540.9L988.4 537.8L989.3 535.9L990.9 533.7L992.9 531.6L994.1 530.6L1000.4 527.9L1009.1 524.8L1013.4 523.0L1016.6 521.9L1018.1 521.5L1021.1 521.2L1023.6 521.5L1027.4 522.7L1030.4 524.7L1032.9 527.6L1034.4 530.6L1035.6 534.6L1036.1 539.9L1035.8 546.6L1035.2 550.9L1034.2 555.6L1033.1 559.9L1028.4 576.1L1024.1 589.9L1022.4 594.6L1017.5 606.6L1014.0 620.6L1013.1 623.4L1011.6 627.1L1009.1 631.6L1006.6 634.4L1005.6 635.0L1004.4 635.4Z"/>
<path fill="#0051ff" d="M1004.1 630.4L1003.4 630.5L1002.6 630.3L1001.1 629.2L999.1 626.6L997.1 622.6L995.0 615.4L992.8 602.6L989.9 593.2L988.1 586.5L986.7 577.4L985.9 567.1L985.9 557.1L986.8 549.6L987.4 546.3L988.1 543.6L988.9 541.3L990.1 538.5L991.6 536.1L994.9 533.4L1002.3 529.4L1011.9 525.5L1013.9 524.5L1018.4 523.1L1021.1 522.9L1023.4 523.1L1026.8 524.1L1029.6 526.0L1031.9 528.6L1033.4 531.6L1034.5 534.9L1035.1 540.4L1034.9 546.4L1034.2 550.6L1033.3 555.1L1032.0 559.6L1022.4 589.3L1020.6 593.7L1015.1 605.6L1010.9 619.3L1009.7 622.1L1008.2 625.4L1006.5 628.1L1005.1 629.7L1004.1 630.4Z"/>
<path fill="#0070ff" d="M1004.1 609.7L1003.6 609.7L1002.9 609.0L998.1 602.7L995.5 598.9L992.9 594.3L991.5 591.4L989.7 586.4L987.9 577.6L987.5 574.4L987.0 566.6L987.1 557.6L987.7 552.6L988.2 550.1L989.4 546.3L991.6 542.1L993.6 539.3L996.4 537.1L1001.1 534.6L1007.9 530.2L1014.6 526.7L1017.9 525.5L1019.4 525.2L1021.9 525.1L1023.9 525.3L1026.6 526.4L1028.1 527.4L1029.1 528.3L1030.8 530.4L1032.7 534.4L1033.5 537.9L1033.9 541.9L1033.7 546.4L1032.9 551.1L1030.5 558.9L1025.2 573.1L1020.1 587.8L1019.1 590.1L1017.1 593.9L1013.1 599.6L1005.4 608.6L1004.1 609.7Z"/>
<path fill="#00abff" d="M1004.6 600.6L1003.9 600.6L1003.1 600.3L999.9 598.5L996.6 595.6L994.4 592.7L992.7 590.1L990.9 586.1L989.9 582.6L988.9 577.9L988.4 574.1L987.9 566.6L988.1 558.6L989.0 552.4L989.9 549.1L990.9 546.9L993.4 543.5L995.6 541.3L998.1 539.7L1002.6 537.3L1009.6 531.9L1012.1 530.2L1015.1 528.5L1019.9 526.9L1021.9 526.8L1023.9 527.0L1026.4 528.1L1028.7 530.1L1030.2 532.4L1031.7 535.6L1032.4 538.1L1032.9 542.1L1032.6 546.9L1031.7 551.1L1029.3 558.4L1023.5 572.4L1018.7 585.9L1017.2 588.9L1015.4 592.0L1011.6 596.3L1009.1 598.3L1006.4 599.9L1004.6 600.6Z"/>
<path fill="#00fff8" d="M1005.6 596.4L1003.9 596.5L1001.4 595.9L997.9 593.9L995.5 591.6L993.9 589.6L991.8 585.6L990.8 582.6L989.7 577.9L988.8 570.6L988.6 563.6L988.8 558.6L989.7 552.9L990.8 549.6L991.7 547.9L993.9 545.3L995.6 543.8L1004.0 539.4L1005.6 538.1L1010.6 533.2L1012.9 531.5L1015.4 529.9L1020.1 528.2L1021.9 528.0L1023.6 528.2L1025.9 529.2L1028.1 531.1L1030.2 534.4L1031.3 536.9L1032.0 540.1L1032.2 543.1L1031.9 546.9L1031.1 550.9L1028.5 557.9L1022.1 572.1L1018.2 582.9L1016.7 586.4L1014.1 590.5L1011.1 593.5L1008.1 595.5L1005.6 596.4Z"/>
<path fill="#00ffd1" d="M1005.4 593.6L1003.9 593.8L1001.9 593.4L999.4 592.3L998.4 591.7L996.6 590.2L994.9 588.2L993.2 585.4L992.1 582.7L990.7 577.6L990.1 574.1L989.4 565.9L989.6 559.1L990.5 553.4L991.6 550.4L992.5 548.6L994.3 546.6L995.9 545.3L999.1 543.6L1003.9 541.5L1005.6 540.4L1007.1 539.0L1011.4 534.4L1013.4 532.6L1015.9 531.0L1020.4 529.3L1021.9 529.1L1023.4 529.3L1025.4 530.1L1027.4 531.9L1029.5 534.9L1030.7 537.9L1031.5 541.9L1031.5 543.9L1031.1 547.1L1030.3 550.6L1027.5 557.9L1021.4 571.1L1017.8 580.4L1015.6 585.3L1012.9 589.1L1011.6 590.4L1008.9 592.3L1007.1 593.2L1005.4 593.6Z"/>
<path fill="#00ffa3" d="M1005.9 590.9L1004.4 591.1L1002.9 590.9L1000.4 589.9L998.9 589.0L996.4 586.5L994.9 584.2L993.6 581.6L992.1 577.4L991.3 573.9L990.3 565.6L990.5 559.4L991.5 553.6L992.3 551.4L993.4 549.3L994.9 547.5L996.5 546.1L999.1 544.7L1004.6 542.5L1006.6 541.3L1008.1 539.9L1012.4 535.1L1014.1 533.5L1016.4 532.0L1018.1 531.2L1020.6 530.3L1022.1 530.2L1023.4 530.4L1025.1 531.2L1027.1 533.1L1028.8 535.6L1030.0 538.4L1030.6 541.9L1030.7 543.6L1030.3 546.9L1029.5 550.4L1027.9 554.6L1022.3 566.6L1017.9 577.4L1014.8 583.6L1013.1 586.0L1010.7 588.4L1008.1 590.0L1005.9 590.9Z"/>
<path fill="#00ff69" d="M1005.1 588.4L1003.6 588.4L1001.9 587.8L1000.1 586.9L998.8 585.9L996.9 583.6L995.6 581.6L993.6 577.4L992.3 573.1L991.8 570.1L991.3 565.1L991.4 559.6L991.8 556.9L992.5 553.6L993.1 551.9L994.1 550.1L996.1 547.8L997.6 546.6L999.1 545.8L1005.1 543.6L1007.6 542.2L1009.1 540.8L1012.8 536.4L1015.5 533.9L1017.6 532.5L1020.4 531.5L1022.1 531.3L1023.6 531.6L1025.1 532.4L1026.9 534.3L1028.1 536.2L1029.3 538.9L1029.8 542.1L1029.9 543.9L1029.5 547.1L1028.7 550.4L1027.2 554.4L1021.5 566.4L1017.3 576.6L1015.4 580.1L1013.1 583.4L1011.1 585.4L1008.6 587.1L1006.6 588.0L1005.1 588.4Z"/>
<path fill="#00ff23" d="M1005.1 585.1L1003.6 585.0L1001.6 584.3L1000.4 583.4L998.7 581.9L997.1 579.9L995.9 577.9L994.0 573.4L993.1 569.9L992.4 564.4L992.5 560.6L992.8 557.9L994.0 553.1L995.6 550.1L996.9 548.8L998.6 547.5L1001.1 546.4L1006.4 544.7L1008.9 543.4L1010.6 541.7L1013.0 538.4L1014.9 536.2L1017.1 534.3L1018.9 533.4L1020.6 532.7L1021.9 532.6L1023.4 532.8L1024.6 533.5L1026.4 535.5L1027.6 537.6L1028.5 539.9L1028.9 542.4L1028.8 544.1L1028.5 547.1L1027.3 551.4L1024.7 557.4L1021.5 563.6L1017.4 573.7L1016.1 576.3L1014.7 578.6L1012.9 580.9L1010.6 582.9L1008.1 584.3L1005.1 585.1Z"/>
<path fill="#26ff00" d="M1005.9 582.1L1004.1 582.0L1002.6 581.6L1001.6 581.1L999.8 579.6L998.6 578.4L997.4 576.7L995.3 572.6L994.3 569.4L993.5 563.9L993.5 560.9L993.8 558.1L995.0 553.6L996.6 550.8L997.8 549.6L999.6 548.2L1002.1 547.3L1008.0 545.6L1009.9 544.6L1011.7 542.6L1015.6 537.4L1017.9 535.4L1019.4 534.5L1020.6 534.1L1021.9 533.9L1023.1 534.1L1024.4 534.9L1025.9 536.6L1027.1 538.9L1027.6 540.5L1028.0 543.1L1027.8 546.1L1027.1 549.1L1026.4 551.1L1025.6 553.4L1023.8 557.1L1020.6 563.1L1016.6 572.8L1015.1 575.7L1012.9 578.6L1010.4 580.7L1007.9 581.8L1005.9 582.1Z"/>
<path fill="#70ff00" d="M1006.4 579.4L1004.9 579.3L1003.6 579.0L1000.9 577.3L998.6 574.6L997.1 572.2L996.2 570.1L994.8 564.9L994.6 561.6L994.9 557.9L995.9 554.1L997.4 551.6L998.6 550.4L999.9 549.4L1002.1 548.4L1006.9 547.4L1009.1 546.5L1011.2 544.9L1015.6 539.2L1017.6 537.3L1018.9 536.5L1020.4 535.8L1021.6 535.6L1022.6 535.7L1023.9 536.5L1025.4 538.2L1026.4 540.1L1027.0 542.4L1027.1 543.6L1026.9 546.4L1025.7 550.9L1024.8 553.1L1019.8 562.6L1016.7 569.9L1014.4 574.1L1013.4 575.4L1011.1 577.5L1008.6 578.9L1006.4 579.4Z"/>
<path fill="#b0ff00" d="M1006.1 576.6L1005.1 576.6L1003.9 576.1L1001.6 574.5L999.1 571.6L997.3 568.4L996.2 564.6L995.8 561.6L996.0 557.6L997.0 554.4L998.4 552.1L999.4 551.1L1000.9 550.1L1002.9 549.4L1007.6 548.5L1009.6 547.6L1011.9 545.6L1016.1 540.5L1018.1 538.7L1019.4 538.0L1020.6 537.5L1021.6 537.4L1022.4 537.6L1023.8 538.6L1025.0 540.1L1025.6 541.4L1026.1 543.4L1026.1 545.6L1025.9 547.6L1025.3 549.9L1024.3 552.4L1019.2 561.6L1015.9 569.0L1014.1 571.8L1012.4 573.8L1010.4 575.2L1007.9 576.3L1006.1 576.6Z"/>
<path fill="#e5ff00" d="M1008.1 573.6L1005.9 573.8L1004.9 573.6L1003.9 573.1L1001.2 570.9L998.9 567.6L997.5 564.4L997.0 561.6L997.0 557.9L997.8 555.1L999.4 552.6L1001.6 551.0L1003.1 550.5L1007.9 549.8L1010.1 548.9L1011.9 547.0L1015.3 542.9L1018.1 540.3L1019.4 539.6L1020.4 539.3L1021.4 539.2L1022.1 539.4L1023.1 540.1L1024.1 541.2L1024.8 542.4L1025.1 543.6L1025.2 547.1L1024.2 550.6L1022.6 553.9L1018.6 560.6L1015.8 566.9L1014.5 569.1L1013.1 570.8L1011.6 572.1L1010.1 572.9L1008.1 573.6Z"/>
<path fill="#ffee00" d="M1008.1 571.7L1005.6 571.4L1003.6 570.5L1001.9 569.2L999.8 566.6L998.5 563.9L997.8 561.4L997.8 558.1L998.5 555.6L999.9 553.4L1002.1 551.9L1003.4 551.5L1008.1 550.9L1010.0 550.1L1011.4 549.0L1015.6 543.8L1017.1 542.5L1018.6 541.4L1019.6 540.9L1020.9 540.7L1021.9 541.0L1022.9 541.6L1023.5 542.4L1024.1 543.6L1024.4 544.9L1024.4 546.6L1024.1 548.4L1023.0 551.6L1018.0 559.9L1015.3 565.9L1014.0 568.1L1012.6 569.7L1011.4 570.6L1009.9 571.3L1008.1 571.7Z"/>
<path fill="#ffca00" d="M1008.6 570.6L1006.4 570.6L1004.6 570.0L1002.6 568.7L1000.5 566.4L999.0 563.6L998.4 561.4L998.4 558.4L999.0 556.1L1000.4 553.9L1002.4 552.6L1003.6 552.2L1008.1 551.7L1010.1 550.9L1011.6 549.6L1015.1 545.4L1016.6 543.9L1019.4 542.3L1020.4 542.1L1021.4 542.3L1022.1 542.7L1022.6 543.4L1023.1 544.4L1023.4 545.6L1023.3 548.4L1022.3 551.4L1017.5 559.4L1015.0 565.1L1013.6 567.5L1012.6 568.7L1011.4 569.6L1010.1 570.3L1008.6 570.6Z"/>
<path fill="#ffa200" d="M1008.4 569.9L1006.4 569.8L1004.6 569.2L1002.9 568.0L1000.9 565.9L999.5 563.4L998.9 561.1L998.8 558.6L999.4 556.6L1000.9 554.4L1002.6 553.3L1004.1 552.9L1008.4 552.4L1010.1 551.6L1011.9 550.2L1015.4 546.1L1016.6 544.9L1017.6 544.3L1019.1 543.7L1020.1 543.6L1020.9 543.7L1021.4 544.1L1021.9 544.9L1022.3 546.9L1022.1 549.4L1021.4 551.6L1017.6 557.6L1014.6 564.6L1013.3 566.9L1012.4 568.0L1011.1 568.9L1009.6 569.6L1008.4 569.9Z"/>
<path fill="#ff7600" d="M1008.1 569.1L1006.1 569.0L1004.4 568.2L1002.6 566.9L1001.3 565.4L999.9 562.9L999.4 560.9L999.3 558.9L999.9 556.9L1001.1 555.1L1002.9 554.0L1004.4 553.6L1008.6 553.1L1010.1 552.4L1011.9 551.0L1015.6 546.8L1016.9 545.6L1018.6 544.9L1020.1 545.1L1020.9 545.9L1021.3 547.6L1021.1 550.1L1020.7 551.4L1017.1 556.9L1016.2 558.9L1014.4 563.6L1012.9 566.4L1012.0 567.4L1010.9 568.2L1009.4 568.9L1008.1 569.1Z"/>
<path fill="#ff4200" d="M1008.6 568.2L1006.9 568.2L1005.6 567.9L1003.8 566.9L1002.1 565.3L1000.9 563.4L1000.2 561.6L999.9 559.4L1000.4 557.6L1001.6 555.9L1003.1 554.9L1005.1 554.4L1008.9 553.9L1010.4 553.3L1012.1 551.9L1016.9 546.7L1018.1 546.1L1019.1 546.1L1019.9 546.9L1020.2 547.9L1020.2 549.9L1019.9 551.1L1017.5 554.4L1016.3 556.4L1015.4 558.4L1013.9 562.9L1012.6 565.4L1011.0 567.1L1009.6 567.9L1008.6 568.2Z"/>
<path fill="#ff0000" d="M1008.4 566.1L1007.4 566.2L1006.1 565.8L1004.6 564.9L1003.6 564.0L1002.6 562.4L1002.1 561.1L1001.9 559.6L1002.2 558.4L1003.0 557.4L1004.1 556.7L1005.6 556.3L1009.4 555.8L1011.4 555.0L1013.5 553.4L1017.1 549.4L1017.6 549.2L1017.9 549.2L1018.0 549.6L1017.8 550.4L1015.7 553.1L1014.5 555.4L1013.5 557.6L1012.3 561.6L1011.2 563.9L1010.1 565.2L1008.4 566.1Z"/>
</g>
</g>
<g id="edgeblobs" filter="url(#bl)">
<g clip-path="url(#cp1)">
<path fill="#0006ff" d="M224.6 376.7L188.7 376.6L188.6 375.9L188.6 362.4L188.6 361.9L188.8 361.6L188.8 360.4L189.0 360.1L189.1 359.6L193.6 356.6L204.1 356.5L205.4 355.3L205.6 355.3L218.4 355.3L220.4 356.3L220.9 356.8L222.6 357.6L224.9 360.1L224.9 376.1L224.9 376.6L224.6 376.7Z"/>
<path fill="#0016ff" d="M217.1 372.4L210.6 372.4L206.6 372.1L202.9 371.5L200.4 370.6L197.0 369.1L196.4 368.6L196.0 365.1L196.1 364.1L196.4 363.6L198.2 361.9L200.7 359.9L202.0 359.1L204.9 358.0L206.4 357.1L208.6 356.8L215.1 356.7L217.9 356.9L219.1 357.2L222.1 358.6L223.7 360.4L224.0 361.1L224.1 362.6L224.0 364.6L223.6 366.4L222.9 368.3L220.6 371.8L219.9 372.2L217.1 372.4Z"/>
<path fill="#0030ff" d="M217.1 369.4L210.6 369.4L208.4 369.2L206.8 368.9L204.1 367.9L202.5 366.6L202.1 365.6L202.2 364.1L202.8 361.6L203.2 360.9L203.9 360.1L205.1 359.2L207.1 358.3L208.6 358.0L211.6 357.7L214.9 357.7L218.1 358.0L218.9 358.1L221.6 359.3L222.7 360.4L223.3 361.6L223.5 363.4L222.9 365.5L221.9 366.9L220.6 367.8L218.9 368.8L217.1 369.4Z"/>
<path fill="#0051ff" d="M216.6 367.7L210.9 367.7L207.9 367.1L206.1 366.4L205.3 365.9L204.3 364.6L204.2 362.1L204.5 361.1L205.6 360.0L207.6 359.0L208.9 358.7L210.9 358.6L211.9 358.4L215.1 358.4L216.1 358.6L218.4 358.7L221.4 359.9L222.4 361.1L222.7 361.9L222.9 363.0L222.6 364.4L222.1 365.4L221.4 366.2L220.1 366.8L218.4 367.4L216.6 367.7Z"/>
<path fill="#0070ff" d="M216.4 366.9L211.1 366.9L207.9 366.2L206.4 365.2L205.7 364.1L205.5 363.1L205.7 361.9L206.4 360.8L207.6 360.0L209.1 359.5L211.9 359.1L214.9 359.1L217.9 359.3L219.9 360.1L221.1 360.9L221.6 361.9L221.8 363.4L221.4 364.6L220.9 365.3L219.6 366.1L218.1 366.6L216.4 366.9Z"/>
<path fill="#00abff" d="M217.1 366.2L216.1 366.3L211.6 366.3L208.4 365.6L207.3 364.9L206.8 364.1L206.6 363.1L206.8 361.9L207.3 361.1L208.1 360.6L209.4 360.1L211.9 359.7L215.1 359.7L217.6 359.9L218.6 360.2L219.6 360.8L220.4 361.4L220.8 362.4L220.8 363.6L220.4 364.6L219.5 365.4L218.6 365.8L217.1 366.2Z"/>
<path fill="#00fff8" d="M216.4 365.9L211.6 365.9L208.6 365.1L208.0 364.6L207.5 363.9L207.5 362.1L208.1 361.2L209.4 360.6L212.1 360.1L215.6 360.1L217.6 360.4L218.4 360.6L219.4 361.2L219.9 361.9L220.3 362.9L220.0 363.9L219.8 364.4L218.9 365.1L216.4 365.9Z"/>
<path fill="#00ffcd" d="M216.1 364.9L212.1 365.0L209.6 364.4L208.8 363.9L208.6 363.4L208.6 362.6L208.9 362.1L209.9 361.6L212.6 361.0L215.1 361.0L217.1 361.3L218.0 361.6L218.7 362.1L219.0 362.6L219.1 363.1L218.6 364.1L217.9 364.5L216.1 364.9Z"/>
</g>
<g clip-path="url(#cp4)">
<path fill="#0006ff" d="M1022.4 427.4L984.7 427.4L984.6 426.6L984.6 412.6L985.3 409.6L990.6 404.9L1015.9 404.8L1020.9 407.3L1021.2 407.6L1022.7 410.6L1022.7 426.9L1022.6 427.3L1022.4 427.4Z"/>
<path fill="#0016ff" d="M1010.1 423.4L1008.4 423.5L996.6 423.5L991.4 423.0L989.6 422.6L989.1 422.1L988.4 420.7L986.9 416.9L986.7 415.1L986.7 413.4L986.8 412.1L987.3 410.6L989.8 408.1L991.4 407.1L992.1 406.8L994.9 406.5L996.9 406.3L1008.6 406.3L1013.1 406.8L1014.9 407.2L1015.6 407.5L1018.5 409.6L1019.4 411.4L1019.6 412.4L1019.6 415.1L1019.4 416.6L1018.9 418.7L1017.7 421.6L1017.1 422.3L1014.4 422.9L1010.1 423.4Z"/>
<path fill="#0030ff" d="M1009.4 420.7L1008.1 420.8L996.9 420.8L992.1 419.9L990.4 418.6L988.5 416.1L988.2 414.9L988.2 413.6L988.3 412.4L988.6 411.4L990.5 409.4L992.1 408.4L996.6 407.5L1008.4 407.4L1012.4 408.1L1014.4 408.9L1016.5 410.6L1017.3 411.9L1017.4 412.6L1017.4 414.9L1017.0 416.4L1015.4 418.6L1014.6 419.3L1012.9 420.0L1009.4 420.7Z"/>
<path fill="#0051ff" d="M1008.4 419.2L997.1 419.2L995.6 418.9L992.6 418.0L991.1 417.1L989.6 415.5L989.3 414.1L989.3 412.9L989.6 411.9L991.1 410.1L992.4 409.4L993.6 408.9L996.9 408.2L1008.1 408.1L1012.1 409.0L1014.1 410.1L1015.4 411.4L1016.0 412.6L1015.9 414.9L1015.2 416.1L1013.9 417.4L1012.1 418.3L1008.4 419.2Z"/>
<path fill="#0070ff" d="M1006.4 418.6L997.6 418.5L995.9 418.2L994.1 417.6L992.3 416.6L991.2 415.4L990.8 414.1L990.9 412.4L991.7 411.1L992.9 410.3L995.9 409.0L997.9 408.7L1005.9 408.6L1008.1 408.7L1011.6 409.6L1013.5 410.9L1014.3 411.9L1014.8 413.4L1014.6 414.6L1013.7 416.1L1012.5 417.1L1011.4 417.7L1008.1 418.5L1006.4 418.6Z"/>
<path fill="#00abff" d="M1006.6 418.1L1000.1 418.2L996.4 417.8L995.1 417.3L993.1 416.2L992.4 415.4L992.0 413.9L992.0 412.9L992.3 412.1L993.0 411.1L994.4 410.3L996.1 409.5L997.9 409.2L1000.4 409.0L1006.1 409.0L1009.6 409.5L1011.4 410.2L1013.0 411.6L1013.7 412.9L1013.8 413.9L1013.2 415.4L1012.3 416.4L1011.1 417.2L1009.6 417.7L1006.6 418.1Z"/>
<path fill="#00fff8" d="M1006.1 417.9L1000.1 417.9L996.1 417.3L994.6 416.6L993.2 415.4L993.0 414.9L992.8 413.9L993.1 412.1L993.6 411.4L994.9 410.5L996.1 409.9L1000.1 409.3L1006.1 409.3L1009.6 409.9L1011.1 410.5L1012.1 411.4L1012.7 412.4L1013.1 413.6L1012.6 415.1L1011.8 416.1L1010.9 416.9L1009.6 417.3L1006.1 417.9Z"/>
<path fill="#00ffd1" d="M1003.1 417.6L1000.4 417.6L998.1 417.3L996.6 417.0L995.3 416.4L994.1 415.4L993.6 414.6L993.6 412.9L993.9 412.1L994.9 411.1L996.4 410.3L998.1 409.9L1000.6 409.6L1005.6 409.7L1007.9 410.1L1009.7 410.6L1010.7 411.1L1011.4 411.9L1011.9 412.9L1012.0 413.9L1011.7 414.9L1010.7 416.1L1009.4 416.8L1006.1 417.5L1003.1 417.6Z"/>
<path fill="#00ffa3" d="M1004.4 417.1L1000.4 417.2L998.4 416.9L996.9 416.5L995.5 415.6L994.7 414.6L994.5 413.9L994.6 412.9L995.4 411.8L996.7 410.9L998.4 410.4L1000.6 410.1L1003.6 410.1L1005.9 410.3L1008.9 411.5L1010.0 412.4L1010.6 413.6L1010.3 414.4L1009.8 415.1L1008.9 415.8L1007.4 416.4L1005.6 417.0L1004.4 417.1Z"/>
<path fill="#00ff69" d="M1004.1 416.7L1000.4 416.7L998.4 416.4L997.4 416.0L996.6 415.6L995.7 414.6L995.4 413.9L995.5 413.1L995.9 412.4L996.7 411.6L998.6 410.8L1000.6 410.5L1003.1 410.5L1005.6 410.9L1007.1 411.6L1008.1 412.4L1008.9 413.3L1008.9 413.9L1008.3 414.6L1007.1 415.6L1005.6 416.4L1004.1 416.7Z"/>
<path fill="#00ff23" d="M1003.4 416.2L1000.4 416.2L998.1 415.6L997.4 415.1L996.8 414.4L996.6 413.6L996.8 412.9L997.4 412.1L998.1 411.6L1000.4 411.1L1003.4 411.1L1005.4 411.6L1006.1 412.1L1006.7 412.9L1006.9 413.6L1006.8 414.1L1006.3 414.9L1005.4 415.6L1003.4 416.2Z"/>
<path fill="#30ff00" d="M1003.6 415.4L1002.9 415.6L1000.6 415.6L998.9 415.2L998.2 414.9L997.8 414.4L997.6 413.9L997.7 413.1L998.1 412.5L998.6 412.1L1000.4 411.7L1002.9 411.7L1004.4 412.0L1005.0 412.4L1005.4 412.8L1005.6 413.4L1005.6 413.9L1005.0 414.9L1004.4 415.2L1003.6 415.4Z"/>
</g>
<g clip-path="url(#cp5)">
<path fill="#0006ff" d="M234.1 681.9L187.5 681.9L187.3 681.1L187.3 667.6L189.3 664.1L191.4 662.3L191.6 662.3L192.9 661.1L193.9 660.6L203.9 660.6L204.4 660.8L205.4 662.0L207.4 662.0L207.9 662.3L209.9 662.3L210.9 662.8L219.9 662.7L220.4 662.1L220.9 661.8L227.6 661.8L230.4 663.3L234.4 667.6L234.4 681.4L234.4 681.8L234.1 681.9Z"/>
<path fill="#0016ff" d="M220.9 677.6L211.1 677.8L204.4 677.5L198.9 676.8L194.9 675.6L194.0 675.1L193.2 672.9L192.8 669.4L193.3 667.6L194.9 664.9L195.6 664.2L199.2 662.9L202.9 662.2L205.4 662.7L209.4 662.8L211.1 663.1L219.6 663.1L220.9 662.6L223.1 662.6L225.6 662.9L227.4 663.4L228.6 664.1L229.9 665.1L230.8 666.4L231.8 668.6L231.8 669.4L231.6 670.9L230.6 674.1L229.4 676.4L228.9 676.7L226.4 677.2L220.9 677.6Z"/>
<path fill="#0030ff" d="M217.1 674.9L210.9 674.9L204.6 674.5L202.1 673.9L199.9 673.2L197.9 672.1L197.1 671.1L196.8 670.1L196.8 669.1L197.3 666.9L197.9 665.9L198.4 665.4L199.4 664.7L201.1 663.9L203.4 663.3L207.6 663.1L211.1 663.2L223.1 663.2L225.4 663.7L226.6 664.2L227.9 664.9L229.0 665.9L229.7 667.4L229.9 669.1L229.8 669.9L229.4 670.9L228.6 671.9L226.6 673.5L225.6 674.0L223.4 674.4L217.1 674.9Z"/>
<path fill="#0051ff" d="M216.9 673.4L211.4 673.4L204.9 672.8L202.9 672.2L200.6 671.1L199.6 670.4L199.2 669.9L198.9 668.6L198.9 667.4L199.1 666.6L199.6 665.9L200.6 665.2L203.1 664.0L204.9 663.6L209.1 663.3L220.1 663.4L222.9 663.5L225.4 664.2L227.6 665.4L228.3 666.1L228.9 667.4L228.9 668.9L228.4 670.1L227.6 670.9L225.6 672.0L224.4 672.5L222.9 672.9L219.9 673.2L217.9 673.2L216.9 673.4Z"/>
<path fill="#0070ff" d="M216.6 673.1L211.6 673.1L205.4 672.5L203.6 672.0L201.5 670.9L200.1 669.7L199.8 668.4L200.0 666.9L200.3 666.4L201.1 665.6L203.6 664.3L205.4 663.8L209.1 663.4L219.4 663.5L222.4 663.7L225.1 664.4L227.1 665.6L227.8 666.4L228.2 667.6L228.2 668.9L227.6 670.1L226.3 671.1L224.9 671.9L222.9 672.5L216.6 673.1Z"/>
<path fill="#00abff" d="M217.1 672.9L216.1 673.0L211.6 673.0L206.6 672.5L203.9 671.8L201.9 670.7L201.0 669.9L200.5 668.9L200.6 667.1L201.5 665.9L203.6 664.5L205.4 664.0L209.1 663.5L219.4 663.5L222.1 663.8L225.1 664.7L226.4 665.5L227.3 666.4L227.8 667.9L227.7 668.6L227.3 669.9L226.1 671.0L224.9 671.7L222.9 672.3L219.6 672.8L217.1 672.9Z"/>
<path fill="#00fff8" d="M216.6 672.9L212.1 672.9L208.9 672.7L205.6 672.2L203.9 671.7L202.1 670.6L201.2 669.6L200.9 668.9L201.0 667.1L201.4 666.4L201.9 665.9L203.6 664.7L205.6 664.0L209.1 663.6L219.1 663.6L221.9 663.9L224.9 664.7L226.1 665.5L227.0 666.4L227.5 668.1L227.2 669.4L226.6 670.4L225.4 671.3L224.4 671.7L222.1 672.4L219.4 672.7L217.6 672.7L216.6 672.9Z"/>
<path fill="#00ffd1" d="M217.1 672.6L216.1 672.8L211.9 672.8L210.9 672.6L206.6 672.3L204.6 671.7L203.4 671.2L201.8 669.9L201.3 668.9L201.4 667.1L202.1 666.0L203.9 664.8L206.6 664.0L209.4 663.7L219.1 663.7L221.9 664.0L224.9 664.9L226.1 665.7L226.7 666.4L227.1 668.1L226.9 669.4L226.3 670.4L225.1 671.2L223.9 671.7L221.9 672.3L217.1 672.6Z"/>
<path fill="#00ffa3" d="M216.4 672.6L212.1 672.7L210.9 672.4L209.1 672.4L206.6 672.1L204.6 671.5L203.4 670.9L202.0 669.6L201.7 668.6L201.8 667.1L202.4 666.2L203.9 665.0L206.6 664.2L209.4 663.8L218.9 663.8L221.6 664.1L224.6 665.0L225.9 665.9L226.3 666.4L226.6 667.1L226.8 668.1L226.6 669.4L225.9 670.4L224.9 671.1L221.9 672.1L219.1 672.4L217.4 672.4L216.4 672.6Z"/>
<path fill="#00ff69" d="M216.6 672.4L212.1 672.5L211.1 672.3L206.9 672.0L204.9 671.4L203.6 670.8L202.4 669.6L202.0 668.6L202.1 667.1L202.6 666.4L203.4 665.6L204.9 664.8L206.9 664.3L209.6 664.0L218.9 664.0L221.6 664.3L224.5 665.1L226.0 666.4L226.3 666.9L226.4 667.9L226.3 669.4L225.8 670.1L224.9 670.9L223.6 671.5L221.6 672.0L216.6 672.4Z"/>
<path fill="#00ff23" d="M215.9 672.4L212.4 672.4L211.1 672.2L209.4 672.1L206.9 671.8L204.9 671.2L203.7 670.6L202.6 669.4L202.4 668.6L202.5 667.1L203.0 666.4L203.6 665.7L204.9 665.0L206.9 664.4L209.6 664.1L218.9 664.1L221.4 664.4L224.4 665.3L225.7 666.4L226.0 667.4L225.9 669.4L225.5 670.1L224.6 670.9L221.6 671.8L219.1 672.1L217.1 672.2L215.9 672.4Z"/>
<path fill="#26ff00" d="M216.4 672.2L212.4 672.2L207.1 671.7L205.1 671.1L203.9 670.4L203.0 669.4L202.8 668.6L202.9 667.1L203.8 665.9L205.1 665.1L207.1 664.5L209.9 664.2L218.6 664.2L221.4 664.5L224.1 665.3L225.4 666.4L225.7 667.1L225.7 669.1L225.4 669.9L224.4 670.8L221.4 671.7L216.4 672.2Z"/>
<path fill="#70ff00" d="M215.4 672.1L212.6 672.1L207.4 671.6L205.1 670.9L204.2 670.4L203.3 669.4L203.1 668.6L203.2 667.1L204.1 665.9L205.1 665.3L207.1 664.7L209.9 664.4L218.6 664.4L221.1 664.6L224.1 665.5L225.2 666.6L225.4 667.4L225.4 669.3L225.1 669.9L224.1 670.7L221.4 671.6L215.4 672.1Z"/>
<path fill="#b0ff00" d="M216.1 671.9L212.6 672.0L207.4 671.5L206.0 671.1L204.6 670.4L203.7 669.4L203.5 668.4L203.6 667.1L204.6 665.9L205.9 665.2L207.4 664.8L210.1 664.5L218.4 664.5L221.1 664.8L223.9 665.6L224.9 666.6L225.1 667.4L225.1 669.1L224.9 669.6L223.9 670.6L221.1 671.5L216.1 671.9Z"/>
<path fill="#e5ff00" d="M216.9 671.6L215.4 671.9L212.9 671.9L207.6 671.4L206.1 671.0L205.0 670.4L204.1 669.4L203.9 668.6L204.0 667.1L205.0 665.9L206.1 665.3L207.4 664.9L210.1 664.6L218.4 664.6L220.9 664.9L223.6 665.7L224.5 666.6L224.8 667.4L224.8 669.1L223.9 670.4L221.1 671.3L218.6 671.6L216.9 671.6Z"/>
<path fill="#ffee00" d="M215.9 671.7L212.9 671.7L207.6 671.2L206.3 670.9L205.1 670.2L204.3 669.1L204.2 668.1L204.3 667.1L205.1 666.0L206.3 665.4L207.6 665.0L210.4 664.8L218.1 664.8L220.9 665.0L223.5 665.9L224.4 666.9L224.5 669.1L223.9 670.1L223.5 670.4L220.9 671.2L215.9 671.7Z"/>
<path fill="#ffca00" d="M216.4 671.4L215.4 671.6L212.9 671.6L211.9 671.4L207.9 671.1L206.4 670.7L205.4 670.1L204.7 669.1L204.5 668.6L204.6 667.4L205.4 666.1L206.4 665.5L207.6 665.2L210.4 664.9L218.4 664.9L221.9 665.4L223.1 665.9L223.7 666.4L224.2 667.1L224.2 668.9L224.1 669.4L223.5 670.1L222.5 670.6L220.9 671.0L218.4 671.3L216.4 671.4Z"/>
<path fill="#ffa200" d="M215.6 671.4L213.1 671.4L211.9 671.2L207.9 670.9L206.6 670.6L205.7 670.1L205.3 669.6L204.9 668.6L204.9 667.4L205.5 666.4L206.6 665.6L207.9 665.3L210.4 665.1L218.1 665.1L220.6 665.3L222.6 665.9L223.6 666.6L223.9 667.4L223.9 668.9L223.6 669.6L223.1 670.1L221.9 670.6L220.6 670.9L215.6 671.4Z"/>
<path fill="#ff7600" d="M215.6 671.2L213.1 671.3L212.1 671.0L208.1 670.8L206.6 670.4L205.8 669.9L205.5 669.4L205.3 668.6L205.3 667.4L205.8 666.4L206.6 665.9L207.9 665.5L210.6 665.2L217.9 665.2L220.4 665.5L222.6 666.1L223.3 666.9L223.5 667.4L223.5 668.9L223.2 669.6L222.6 670.1L220.6 670.7L215.6 671.2Z"/>
<path fill="#ff4200" d="M215.4 670.9L213.4 671.0L212.1 670.8L210.6 670.8L208.1 670.5L206.7 670.1L206.1 669.6L205.7 668.6L205.7 667.6L205.9 666.9L206.6 666.2L207.9 665.8L211.9 665.5L217.9 665.5L220.4 665.8L222.4 666.3L222.9 666.9L223.1 667.6L223.1 668.9L222.9 669.4L222.4 669.9L220.4 670.5L215.4 670.9Z"/>
<path fill="#ff0000" d="M215.1 670.1L213.6 670.2L212.6 670.0L208.6 669.7L207.4 669.4L206.9 669.2L206.7 668.9L206.5 668.1L206.6 667.6L206.9 667.1L207.4 666.8L208.6 666.5L211.1 666.3L217.6 666.3L221.1 666.8L221.9 667.1L222.1 667.4L222.2 668.6L221.9 669.1L221.6 669.3L219.9 669.7L215.1 670.1Z"/>
</g>
<g clip-path="url(#cp8)">
<path fill="#0006ff" d="M1024.1 731.9L984.0 731.9L983.8 731.1L983.8 717.1L984.0 716.6L984.1 715.6L984.3 715.4L984.3 714.4L984.5 714.1L984.6 713.6L987.6 710.3L990.6 708.8L1016.6 708.8L1019.6 710.3L1022.9 713.4L1023.4 714.1L1024.2 716.9L1024.4 717.1L1024.4 731.4L1024.4 731.8L1024.1 731.9Z"/>
<path fill="#0016ff" d="M1007.4 728.1L996.4 728.0L990.1 727.5L988.5 727.1L986.5 723.9L985.5 720.9L985.3 719.4L985.3 717.6L985.6 716.1L986.1 714.6L987.1 713.5L988.5 712.4L991.4 711.1L993.1 710.8L998.1 710.6L1008.9 710.6L1015.4 711.0L1018.4 712.2L1020.9 714.1L1021.4 714.9L1022.2 716.9L1022.4 717.9L1022.4 718.9L1022.2 720.6L1021.6 722.9L1020.6 725.3L1019.7 726.9L1019.1 727.2L1017.9 727.4L1011.1 728.0L1007.4 728.1Z"/>
<path fill="#0030ff" d="M1007.9 725.4L1000.4 725.5L996.4 725.3L991.9 724.6L990.9 724.3L989.6 723.6L987.9 722.3L986.8 720.6L986.5 719.4L986.4 718.1L986.5 716.9L986.9 715.9L987.3 715.1L988.1 714.4L989.9 713.4L991.9 712.6L993.4 712.3L995.4 712.2L998.4 711.8L1008.9 711.8L1011.9 712.2L1013.6 712.3L1015.1 712.6L1017.4 713.4L1018.9 714.3L1019.9 715.2L1020.4 716.1L1020.9 717.6L1021.0 718.4L1020.7 719.9L1020.1 721.4L1018.9 722.9L1017.6 723.9L1016.6 724.4L1011.1 725.2L1007.9 725.4Z"/>
<path fill="#0051ff" d="M1007.6 723.9L1006.9 724.0L1000.6 724.0L999.4 723.8L996.9 723.8L993.6 723.3L991.1 722.7L988.6 721.4L988.0 720.9L987.5 720.1L987.2 719.1L987.3 716.9L987.8 715.9L988.2 715.4L990.4 714.1L993.6 713.1L995.9 713.0L998.4 712.5L1008.6 712.5L1011.4 713.0L1013.4 713.1L1017.1 714.3L1018.4 715.0L1019.3 715.9L1019.9 717.5L1020.0 718.4L1019.8 719.4L1019.2 720.6L1018.4 721.6L1016.9 722.4L1014.6 723.0L1010.6 723.8L1007.6 723.9Z"/>
<path fill="#0070ff" d="M1007.6 723.4L1000.9 723.5L997.4 723.3L995.1 723.1L992.4 722.5L990.4 721.7L988.6 720.4L988.2 719.6L988.1 718.9L988.0 717.6L988.2 716.9L988.6 716.1L989.4 715.4L990.6 714.6L992.6 713.8L994.6 713.4L1000.6 712.9L1006.6 712.9L1013.4 713.6L1016.9 714.8L1018.5 716.1L1019.1 717.9L1019.0 718.9L1018.4 720.5L1017.3 721.4L1015.9 722.1L1013.4 722.8L1009.9 723.3L1007.6 723.4Z"/>
<path fill="#00abff" d="M1007.4 723.1L997.6 723.1L995.1 722.8L992.6 722.2L990.6 721.3L989.2 720.1L988.8 718.9L988.8 717.6L988.9 716.9L989.9 715.6L990.9 715.0L992.6 714.2L994.9 713.7L1001.1 713.1L1006.4 713.2L1009.9 713.4L1013.4 713.9L1016.6 715.2L1018.0 716.6L1018.4 718.1L1018.1 719.6L1017.6 720.4L1016.4 721.4L1014.4 722.2L1012.1 722.8L1009.6 723.1L1007.4 723.1Z"/>
<path fill="#00fff8" d="M1009.9 722.9L1006.6 723.0L997.9 722.9L995.1 722.7L992.9 722.1L990.8 721.1L989.7 720.1L989.2 719.1L989.3 717.1L990.1 715.8L991.4 715.0L992.6 714.4L995.1 713.8L1000.9 713.3L1006.1 713.3L1011.9 713.8L1014.4 714.4L1016.8 715.6L1017.6 716.6L1018.0 717.9L1017.7 719.6L1017.3 720.1L1016.4 721.0L1014.4 722.0L1011.9 722.7L1009.9 722.9Z"/>
<path fill="#00ffd1" d="M1009.9 722.6L1008.4 722.7L998.6 722.7L995.1 722.4L994.1 722.2L992.6 721.7L991.1 720.9L990.5 720.4L990.1 719.9L989.7 719.1L989.7 717.4L990.4 716.1L991.4 715.3L992.9 714.7L995.1 714.1L997.9 713.8L999.9 713.7L1000.9 713.5L1006.1 713.5L1007.1 713.7L1009.4 713.8L1011.9 714.1L1014.1 714.6L1016.4 715.8L1017.2 716.9L1017.5 718.1L1017.2 719.6L1016.5 720.4L1015.9 720.9L1013.9 721.9L1011.9 722.4L1009.9 722.6Z"/>
<path fill="#00ffa3" d="M1009.6 722.4L998.9 722.5L995.1 722.1L992.9 721.4L991.1 720.3L990.4 719.1L990.4 717.4L990.7 716.6L991.4 715.9L993.1 715.0L995.1 714.4L1001.1 713.8L1006.1 713.8L1007.1 714.0L1009.4 714.0L1011.9 714.4L1013.9 714.9L1016.0 716.1L1016.6 717.1L1016.8 718.1L1016.6 719.4L1016.1 720.1L1013.8 721.6L1011.9 722.1L1009.6 722.4Z"/>
<path fill="#00ff69" d="M1009.4 722.1L1008.1 722.3L998.9 722.3L995.1 721.8L993.0 721.1L991.4 719.9L990.9 718.9L991.0 717.4L991.2 716.9L991.8 716.1L993.4 715.2L995.4 714.6L997.9 714.3L1000.1 714.2L1001.4 714.0L1005.9 714.0L1007.1 714.2L1009.6 714.3L1011.9 714.7L1013.6 715.2L1015.5 716.4L1016.0 717.1L1016.2 718.1L1016.0 719.4L1015.4 720.1L1014.0 721.1L1013.1 721.5L1011.9 721.8L1009.4 722.1Z"/>
<path fill="#00ff23" d="M1008.9 721.9L999.1 722.0L995.1 721.4L993.1 720.7L992.1 719.8L991.7 718.9L991.7 717.4L992.2 716.6L993.0 715.9L995.1 715.1L997.9 714.5L1000.1 714.5L1001.6 714.3L1005.6 714.3L1006.9 714.5L1009.4 714.5L1013.4 715.5L1014.0 715.9L1015.1 716.9L1015.4 718.1L1015.2 719.4L1014.9 719.9L1013.9 720.7L1013.4 721.0L1011.9 721.5L1008.9 721.9Z"/>
<path fill="#26ff00" d="M1008.6 721.7L999.1 721.7L995.4 721.1L993.6 720.4L992.6 719.4L992.4 718.9L992.4 717.6L992.7 716.9L993.2 716.4L995.1 715.5L997.9 714.8L1000.4 714.7L1001.6 714.5L1005.6 714.5L1006.9 714.7L1009.4 714.8L1013.2 715.9L1014.4 716.9L1014.7 717.6L1014.6 719.1L1014.4 719.6L1013.5 720.4L1011.7 721.1L1008.6 721.7Z"/>
<path fill="#70ff00" d="M1008.4 721.4L1001.1 721.5L999.1 721.4L997.1 721.0L995.4 720.4L994.2 719.6L993.5 718.6L993.5 717.9L993.7 717.4L994.1 716.9L995.6 716.0L998.1 715.1L1001.6 714.8L1005.6 714.8L1009.3 715.1L1011.6 715.9L1013.2 716.9L1013.7 717.6L1013.8 718.6L1012.9 719.9L1011.6 720.6L1008.4 721.4Z"/>
<path fill="#b0ff00" d="M1007.9 721.1L1001.9 721.3L999.4 721.1L997.4 720.5L995.9 719.6L995.0 718.6L994.9 718.1L995.9 716.9L998.1 715.6L1001.6 715.1L1005.6 715.1L1008.9 715.4L1009.6 715.6L1011.1 716.4L1012.3 717.4L1012.6 717.9L1012.6 718.4L1012.2 719.1L1011.5 719.9L1009.9 720.7L1007.9 721.1Z"/>
<path fill="#e5ff00" d="M1007.1 720.9L1001.6 721.0L999.4 720.7L997.9 720.1L996.9 719.4L996.4 718.6L996.4 717.9L996.9 717.1L998.4 716.0L1000.9 715.5L1007.1 715.5L1008.6 715.7L1009.6 716.1L1010.9 717.0L1011.4 717.9L1011.5 718.4L1011.1 719.1L1010.7 719.6L1009.9 720.2L1008.6 720.7L1007.1 720.9Z"/>
<path fill="#ffee00" d="M1007.1 720.7L1005.1 720.8L1001.9 720.8L999.6 720.4L998.4 719.8L997.6 719.1L997.3 718.6L997.3 717.9L997.6 717.4L998.6 716.4L1001.1 715.7L1006.9 715.7L1009.4 716.4L1010.2 717.1L1010.5 717.6L1010.6 718.1L1010.4 719.1L1009.9 719.7L1008.6 720.4L1007.1 720.7Z"/>
<path fill="#ffca00" d="M1005.1 720.6L1001.6 720.5L999.9 720.1L998.5 719.1L998.0 718.4L998.1 717.9L998.9 716.9L999.9 716.4L1001.1 716.0L1002.9 715.9L1007.1 716.0L1009.0 716.6L1009.6 717.1L1009.9 717.6L1010.0 718.1L1009.9 718.9L1009.6 719.4L1008.1 720.2L1006.6 720.5L1005.1 720.6Z"/>
<path fill="#ffa200" d="M1005.6 720.4L1004.1 720.5L1001.9 720.3L1000.4 719.9L999.3 718.9L999.0 718.4L999.1 717.9L999.6 717.1L1000.3 716.6L1001.4 716.2L1002.9 716.0L1005.6 716.0L1006.9 716.2L1008.1 716.6L1008.9 717.1L1009.2 717.6L1009.4 718.1L1009.3 718.6L1009.0 719.1L1007.9 720.0L1006.6 720.3L1005.6 720.4Z"/>
<path fill="#ff7600" d="M1006.1 720.1L1003.9 720.3L1001.4 719.9L1000.6 719.5L1000.2 719.1L999.9 718.4L1000.0 717.6L1000.3 717.1L1000.9 716.8L1002.9 716.3L1005.6 716.2L1007.1 716.5L1008.4 717.4L1008.7 717.9L1008.7 718.6L1008.4 719.1L1007.8 719.6L1006.9 720.0L1006.1 720.1Z"/>
<path fill="#ff4200" d="M1005.4 719.9L1004.1 720.0L1001.6 719.6L1001.1 719.4L1000.7 718.9L1000.5 718.4L1000.6 717.6L1000.9 717.2L1001.6 716.9L1003.4 716.5L1005.6 716.5L1007.1 716.9L1007.8 717.4L1008.2 718.1L1008.1 718.6L1007.8 719.1L1006.9 719.7L1005.4 719.9Z"/>
<path fill="#ff0a00" d="M1005.9 719.1L1004.4 719.4L1002.4 719.1L1001.6 718.7L1001.4 718.1L1001.6 717.8L1002.1 717.5L1003.6 717.1L1005.4 717.2L1006.9 717.6L1007.3 718.1L1007.2 718.6L1006.6 719.0L1005.9 719.1Z"/>
</g>
</g>
<rect x="86.5" y="114.0" width="225.7" height="248.6" fill="none" stroke="#151515" stroke-width="1.35"/>
<rect x="315.4" y="113.0" width="271.7" height="298.7" fill="none" stroke="#151515" stroke-width="1.35"/>
<rect x="589.7" y="113.0" width="271.9" height="298.7" fill="none" stroke="#151515" stroke-width="1.35"/>
<rect x="864.5" y="114.0" width="271.3" height="299.2" fill="none" stroke="#151515" stroke-width="1.35"/>
<rect x="86.5" y="420.3" width="226.2" height="247.4" fill="none" stroke="#151515" stroke-width="1.35"/>
<rect x="315.6" y="420.5" width="271.5" height="295.8" fill="none" stroke="#151515" stroke-width="1.35"/>
<rect x="590.6" y="421.5" width="271.2" height="295.9" fill="none" stroke="#151515" stroke-width="1.35"/>
<rect x="864.6" y="421.1" width="271.2" height="296.7" fill="none" stroke="#151515" stroke-width="1.35"/>
<rect x="181.8" y="119.8" width="61.7" height="78.2" fill="none" stroke="#111" stroke-width="1.4"/>
<rect x="430.9" y="119.8" width="73.1" height="94.3" fill="none" stroke="#111" stroke-width="1.4"/>
<rect x="705.3" y="119.8" width="73.2" height="94.6" fill="none" stroke="#111" stroke-width="1.4"/>
<rect x="979.7" y="121.3" width="73.1" height="94.2" fill="none" stroke="#111" stroke-width="1.4"/>
<rect x="181.8" y="424.9" width="64.6" height="79.4" fill="none" stroke="#111" stroke-width="1.4"/>
<rect x="430.2" y="426.1" width="77.2" height="95.8" fill="none" stroke="#111" stroke-width="1.4"/>
<rect x="705.0" y="427.1" width="77.3" height="95.9" fill="none" stroke="#111" stroke-width="1.4"/>
<rect x="979.2" y="427.1" width="77.2" height="95.9" fill="none" stroke="#111" stroke-width="1.4"/>
</g>
<g fill="#000" stroke="none">
<rect x="59.5" y="105" width="4.7" height="277"/>
<path d="M61.9 92.0 L70.6 108.9 L53.1 108.9 Z"/>
<rect x="59.6" y="430" width="4.5" height="304.1"/>
<path d="M61.9 416.3 L70.7 433.8 L52.8 433.8 Z"/>
<rect x="59.6" y="730.0" width="1012" height="4.1"/>
<path d="M1086.2 732.2 L1069.1 723.8 L1069.1 740.9 Z"/>
</g>
<g font-family="'Liberation Sans', sans-serif" fill="#000">
<text transform="translate(151.62 91.00) scale(1.0015 1.0270)" font-size="41.2" font-weight="700">Isotype</text>
<text transform="translate(437.33 91.10) scale(1.0134 1.0270)" font-size="41.2" font-weight="700">Ctrl</text>
<text transform="translate(689.24 91.10) scale(1.0094 1.0270)" font-size="41.2" font-weight="700">+CsA</text>
<text transform="translate(961.48 91.10) scale(1.0422 1.0270)" font-size="41.2" font-weight="700">+Voc</text>
<text transform="translate(162.53 413.00) scale(1.0011 1.0270)" font-size="41.2" font-weight="700">FMO</text>
<text transform="translate(1042.43 782.40) scale(0.9992 1.0300)" font-size="41.5" font-weight="400">CD4</text>
<text transform="translate(39.60 181.09) rotate(-90) scale(0.9993 1.0500)" font-size="41.5" font-weight="400">pITK</text>
<text transform="translate(39.00 543.76) rotate(-90) scale(0.9989 1.0500)" font-size="41.1" font-weight="400">pZAP70</text>
</g>
<g font-family="'Liberation Sans', sans-serif" fill="#1c1c1c" stroke="#1c1c1c">
<text transform="translate(252.50 224.35) scale(0.8873 1.0000)" font-size="11.2" font-weight="400" stroke-width="0.67">pITK+ CD4+</text>
<text transform="translate(269.70 239.75) scale(0.8833 1.0000)" font-size="11.2" font-weight="400" stroke-width="0.67">0,26</text>
<text transform="translate(520.25 245.90) scale(0.8654 1.0000)" font-size="12.5" font-weight="400" stroke-width="0.52">pITK+ CD4+</text>
<text transform="translate(538.41 264.70) scale(0.9505 1.0000)" font-size="12.5" font-weight="400" stroke-width="0.52">20,5</text>
<text transform="translate(795.36 245.50) scale(0.8537 1.0000)" font-size="12.5" font-weight="400" stroke-width="0.52">pITK+ CD4+</text>
<text transform="translate(813.48 264.20) scale(0.8470 1.0000)" font-size="12.5" font-weight="400" stroke-width="0.52">3,41</text>
<text transform="translate(1069.35 246.45) scale(0.8610 1.0000)" font-size="12.5" font-weight="400" stroke-width="0.52">pITK+ CD4+</text>
<text transform="translate(1087.75 265.35) scale(0.9318 1.0000)" font-size="12.5" font-weight="400" stroke-width="0.52">0,20</text>
<text transform="translate(238.61 614.85) scale(0.8793 1.0000)" font-size="11.2" font-weight="400" stroke-width="0.67">pZAP70+ CD4+</text>
<text transform="translate(263.10 630.20) scale(0.8975 1.0000)" font-size="11.2" font-weight="400" stroke-width="0.67">0,44</text>
<text transform="translate(501.53 653.65) scale(0.8948 1.0000)" font-size="12.5" font-weight="400" stroke-width="0.52">pZAP70+ CD4+</text>
<text transform="translate(529.48 671.95) scale(0.8556 1.0000)" font-size="12.5" font-weight="400" stroke-width="0.52">31,1</text>
<text transform="translate(776.33 654.90) scale(0.8971 1.0000)" font-size="12.5" font-weight="400" stroke-width="0.52">pZAP70+ CD4+</text>
<text transform="translate(804.66 673.40) scale(0.9613 1.0000)" font-size="12.5" font-weight="400" stroke-width="0.52">11,9</text>
<text transform="translate(1050.63 654.15) scale(0.8925 1.0000)" font-size="12.5" font-weight="400" stroke-width="0.52">pZAP70+ CD4+</text>
<text transform="translate(1078.35 672.70) scale(0.9240 1.0000)" font-size="12.5" font-weight="400" stroke-width="0.52">0,32</text>
</g>
<g stroke="#000" stroke-width="2.65" fill="none" stroke-linecap="butt">
<path d="M1256.1 70.97 V343.32"/>
<path d="M1244.6 342.0 H1527.6"/>
<path d="M1244.6 274.57 H1256.1"/>
<path d="M1244.6 207.15 H1256.1"/>
<path d="M1244.6 139.73 H1256.1"/>
<path d="M1244.6 72.30 H1256.1"/>
<path d="M1310.3 342.0 V354.2"/>
<path d="M1391.3 342.0 V354.2"/>
<path d="M1472.3 342.0 V354.2"/>
</g>
<g font-family="'Liberation Sans', sans-serif" fill="#000">
<text transform="translate(1230.58 349.42) scale(1.0000 1.0000)" font-size="21.2" font-weight="700">0</text>
<text transform="translate(1218.79 282.00) scale(1.0000 1.0000)" font-size="21.2" font-weight="700">10</text>
<text transform="translate(1218.79 214.57) scale(1.0000 1.0000)" font-size="21.2" font-weight="700">20</text>
<text transform="translate(1218.79 147.15) scale(1.0000 1.0000)" font-size="21.2" font-weight="700">30</text>
<text transform="translate(1218.79 79.72) scale(1.0000 1.0000)" font-size="21.2" font-weight="700">40</text>
<text transform="translate(1313.0 375.4) rotate(-45)" font-size="20.8" font-weight="700" text-anchor="end">Ctrl</text>
<text transform="translate(1398.3 371.3) rotate(-45)" font-size="20.8" font-weight="700" text-anchor="end">+CsA</text>
<text transform="translate(1479.3 371.1) rotate(-45)" font-size="20.8" font-weight="700" text-anchor="end">+Voc</text>
<text transform="translate(1180.30 0) rotate(-90) scale(1.0050 1)" font-size="22.0" font-weight="700"><tspan x="-313.86">pITK</tspan><tspan x="-264.07" dy="-9.97" font-size="16.5">+</tspan><tspan x="-254.76" dy="9.97"> CD4</tspan><tspan x="-204.17" dy="-9.97" font-size="16.5">+</tspan><tspan x="-193.74" dy="9.97"> cells [%]</tspan></text>
<text transform="translate(1206.60 272.05) rotate(-90) scale(1.0215 1.0000)" font-size="22.0" font-weight="700">Mean ± SEM</text>
<text transform="translate(0 34.00) scale(1.0060 1)" font-size="25.7" font-weight="700"><tspan x="1264.48">CD4</tspan><tspan x="1317.25" dy="-12.50" font-size="18.2">+</tspan><tspan x="1327.89" dy="12.50"> pITK</tspan><tspan x="1393.59" dy="-12.50" font-size="18.2">+</tspan><tspan x="1403.84" dy="12.50"> PBMCs</tspan></text>
</g>
<g font-family="'DejaVu Sans', sans-serif" font-size="26.0" fill="#000" stroke="#000" stroke-width="0.9" text-anchor="middle">
<text x="1391.10" y="71.12">*</text>
<text x="1351.30" y="110.02">*</text>
</g>
<path d="M1310.4 75.6 H1472.4" stroke="#000" stroke-width="2.6"/>
<path d="M1310.4 114.1 H1391.8" stroke="#000" stroke-width="2.6"/>
<path stroke="#000" stroke-width="1.6" fill="none" d="M1297.0 187.0 H1324.0 M1297.0 243.1 H1324.0 M1310.5 187.0 V243.1"/>
<path d="M1283.2 215.0 H1337.6" stroke="#000" stroke-width="2.6"/>
<circle cx="1310.3" cy="144.4" r="5.75" fill="#000"/>
<circle cx="1310.4" cy="203.9" r="5.75" fill="#000"/>
<circle cx="1310.4" cy="233.4" r="5.75" fill="#000"/>
<circle cx="1310.4" cy="278.1" r="5.75" fill="#000"/>
<path stroke="#10c210" stroke-width="1.6" fill="none" d="M1377.9 315.6 H1404.8 M1377.9 324.5 H1404.8 M1391.3 315.6 V324.5"/>
<path d="M1364.8 320.2 H1418.1" stroke="#000" stroke-width="2.6"/>
<circle cx="1369.8" cy="311.4" r="5.75" fill="#10c210"/>
<circle cx="1391.3" cy="319.0" r="5.75" fill="#10c210"/>
<circle cx="1413.2" cy="317.0" r="5.75" fill="#10c210"/>
<circle cx="1391.3" cy="332.3" r="5.75" fill="#10c210"/>
<path stroke="#0a0af8" stroke-width="1.6" fill="none" d="M1459.0 339.6 H1486.0 M1459.0 340.6 H1486.0 M1472.5 339.6 V340.6"/>
<path d="M1445.0 340.1 H1499.5" stroke="#000" stroke-width="2.6"/>
<circle cx="1451.0" cy="340.3" r="5.75" fill="#0a0af8"/>
<circle cx="1465.3" cy="337.3" r="5.75" fill="#0a0af8"/>
<circle cx="1479.6" cy="340.3" r="5.75" fill="#0a0af8"/>
<circle cx="1494.0" cy="339.9" r="5.75" fill="#0a0af8"/>
<g stroke="#000" stroke-width="2.65" fill="none" stroke-linecap="butt">
<path d="M1254.5 533.67 V789.33"/>
<path d="M1243.3 788.0 H1518.8"/>
<path d="M1243.3 724.75 H1254.5"/>
<path d="M1243.3 661.50 H1254.5"/>
<path d="M1243.3 598.25 H1254.5"/>
<path d="M1243.3 535.00 H1254.5"/>
<path d="M1307.0 788.0 V798.6"/>
<path d="M1385.8 788.0 V798.6"/>
<path d="M1464.8 788.0 V798.6"/>
</g>
<g font-family="'Liberation Sans', sans-serif" fill="#000">
<text transform="translate(1229.37 794.78) scale(0.9600 1.0000)" font-size="20.8" font-weight="700">0</text>
<text transform="translate(1218.26 731.53) scale(0.9600 1.0000)" font-size="20.8" font-weight="700">10</text>
<text transform="translate(1218.26 668.28) scale(0.9600 1.0000)" font-size="20.8" font-weight="700">20</text>
<text transform="translate(1218.26 605.03) scale(0.9600 1.0000)" font-size="20.8" font-weight="700">30</text>
<text transform="translate(1218.26 541.78) scale(0.9600 1.0000)" font-size="20.8" font-weight="700">40</text>
<text transform="translate(1309.5 820.0) rotate(-45)" font-size="19.8" font-weight="700" text-anchor="end">Ctrl</text>
<text transform="translate(1393.0 816.0) rotate(-45)" font-size="19.8" font-weight="700" text-anchor="end">+CsA</text>
<text transform="translate(1471.5 816.0) rotate(-45)" font-size="19.8" font-weight="700" text-anchor="end">+Voc</text>
<text transform="translate(1179.70 0) rotate(-90) scale(0.9850 1)" font-size="21.0" font-weight="700"><tspan x="-790.09">pZAP70</tspan><tspan x="-710.75" dy="-10.41" font-size="15.8">+</tspan><tspan x="-702.52" dy="10.41"> CD4</tspan><tspan x="-654.41" dy="-10.41" font-size="15.8">+</tspan><tspan x="-642.71" dy="10.41"> cells [%]</tspan></text>
<text transform="translate(1203.90 722.58) rotate(-90) scale(1.0150 1.0000)" font-size="21.0" font-weight="700">Mean ± SEM</text>
<text transform="translate(0 470.70) scale(1.0260 1)" font-size="24.6" font-weight="700"><tspan x="1217.92">CD4</tspan><tspan x="1268.39" dy="-9.80" font-size="17.6">+</tspan><tspan x="1278.53" dy="9.80"> pZAP70</tspan><tspan x="1377.75" dy="-9.80" font-size="17.6">+</tspan><tspan x="1388.37" dy="9.80"> PBMCs</tspan></text>
</g>
<g font-family="'DejaVu Sans', sans-serif" font-size="25.0" fill="#000" stroke="#000" stroke-width="0.9" text-anchor="middle">
<text x="1385.70" y="503.20">*</text>
<text x="1346.30" y="557.40">*</text>
</g>
<path d="M1307.2 507.8 H1464.6" stroke="#000" stroke-width="2.6"/>
<path d="M1307.2 561.3 H1385.8" stroke="#000" stroke-width="2.0"/>
<path stroke="#000" stroke-width="1.6" fill="none" d="M1293.7 633.9 H1320.0 M1293.7 682.6 H1320.0 M1306.8 633.9 V682.6"/>
<path d="M1280.9 658.1 H1333.1" stroke="#000" stroke-width="2.6"/>
<circle cx="1307.0" cy="591.3" r="5.3" fill="#000"/>
<circle cx="1307.0" cy="656.7" r="5.3" fill="#000"/>
<circle cx="1307.0" cy="681.6" r="5.3" fill="#000"/>
<circle cx="1307.0" cy="704.5" r="5.3" fill="#000"/>
<path stroke="#10c210" stroke-width="1.6" fill="none" d="M1372.7 737.1 H1399.0 M1372.7 762.9 H1399.0 M1385.8 737.1 V762.9"/>
<path d="M1359.4 749.9 H1412.1" stroke="#000" stroke-width="2.6"/>
<circle cx="1386.0" cy="712.7" r="5.3" fill="#10c210"/>
<circle cx="1375.2" cy="756.9" r="5.3" fill="#10c210"/>
<circle cx="1396.6" cy="760.9" r="5.3" fill="#10c210"/>
<circle cx="1375.2" cy="770.4" r="5.3" fill="#10c210"/>
<path stroke="#0a0af8" stroke-width="1.6" fill="none" d="M1452.0 785.5 H1478.0 M1452.0 786.5 H1478.0 M1465.0 785.5 V786.5"/>
<path d="M1438.5 786.0 H1491.5" stroke="#000" stroke-width="2.6"/>
<circle cx="1444.0" cy="786.7" r="5.3" fill="#0a0af8"/>
<circle cx="1458.0" cy="783.5" r="5.3" fill="#0a0af8"/>
<circle cx="1472.3" cy="786.7" r="5.3" fill="#0a0af8"/>
<circle cx="1486.1" cy="785.5" r="5.3" fill="#0a0af8"/>
</svg>
</body></html>
